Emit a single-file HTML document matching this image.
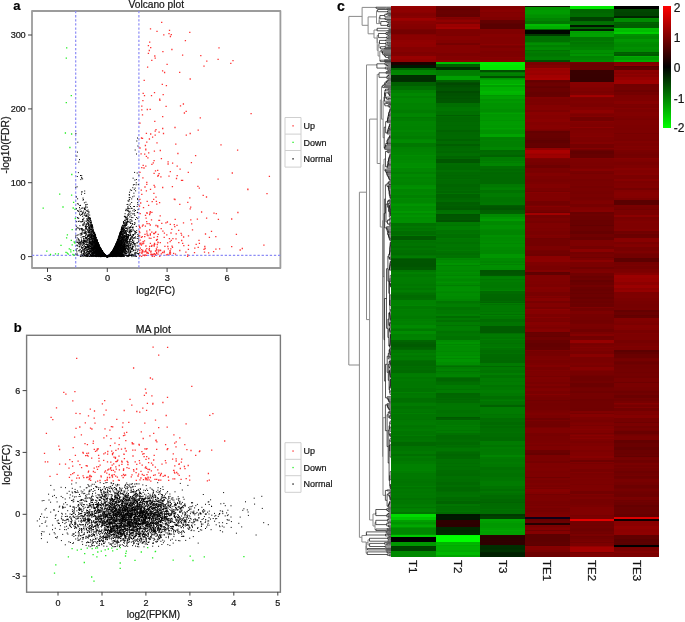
<!DOCTYPE html>
<html><head><meta charset="utf-8"><style>
html,body{margin:0;padding:0;background:#fff;}
#w{position:relative;width:685px;height:622px;overflow:hidden;background:#fff;font-family:"Liberation Sans", sans-serif;}
.hc{position:absolute;top:6.3px;height:550.6px;width:44.83px;}
#cbar{position:absolute;left:662.8px;top:6.1px;width:8px;height:121.7px;background:linear-gradient(#ff0000,#000 50%,#00ff00);}
svg{position:absolute;left:0;top:0;will-change:transform;}
text{font-family:"Liberation Sans", sans-serif;stroke:#222;stroke-width:0.22px;}
</style></head><body><div id="w">
<div class="hc" style="left:391px;background:linear-gradient(#960000 0 1.6px,#8f0000 0 2.7px,#920000 0 3.8px,#8e0000 0 5.7px,#8a0000 0 6.8px,#840000 0 7.9px,#830000 0 10.1px,#880000 0 11.7px,#9c0000 0 13.9px,#970000 0 15.2px,#8a0000 0 17.7px,#860000 0 20.5px,#840000 0 23.2px,#790000 0 24.3px,#740000 0 27.7px,#830000 0 29px,#8a0000 0 31.8px,#8a0000 0 33.7px,#900000 0 35px,#8f0000 0 36.3px,#920000 0 37.9px,#900000 0 40.7px,#860000 0 41.8px,#860000 0 43.7px,#860000 0 45.9px,#7f0000 0 48.1px,#820000 0 49.7px,#980000 0 53px,#930000 0 54.3px,#910000 0 55.9px,#1e0000 0 57.5px,#1d0000 0 58.7px,#001700 0 59.8px,#001700 0 61.7px,#006300 0 63.7px,#008500 0 67px,#008800 0 68.7px,#002d00 0 70.3px,#002f00 0 71.9px,#002d00 0 74.7px,#003000 0 75.7px,#006000 0 77.3px,#005f00 0 79.7px,#006e00 0 83.7px,#007f00 0 87px,#008800 0 90.3px,#008000 0 92.5px,#008700 0 95.8px,#008700 0 97.4px,#008200 0 98.7px,#008300 0 101.5px,#008300 0 103.1px,#008100 0 104.4px,#007c00 0 106.6px,#008400 0 107.7px,#008600 0 109.3px,#008600 0 110.6px,#007800 0 112.2px,#007d00 0 115.5px,#008400 0 117.7px,#008300 0 119px,#008400 0 120.3px,#008200 0 123.6px,#008700 0 126.4px,#008100 0 127.7px,#008200 0 129.9px,#007d00 0 132.7px,#008600 0 134px,#008a00 0 137.3px,#007800 0 140.6px,#008100 0 142.7px,#008300 0 146px,#008500 0 148.8px,#008d00 0 149.9px,#008800 0 152.1px,#008800 0 153.2px,#008700 0 154.5px,#008a00 0 157.3px,#008f00 0 158.4px,#008e00 0 161.2px,#009100 0 162.3px,#008700 0 163.4px,#008700 0 164.7px,#008700 0 165.7px,#007f00 0 167.3px,#008000 0 168.4px,#008900 0 170.6px,#008300 0 172.8px,#008600 0 174.4px,#008500 0 176px,#008300 0 179.3px,#008d00 0 180.6px,#009000 0 183.4px,#008500 0 186.2px,#008700 0 187.8px,#008900 0 188.9px,#008100 0 191.7px,#008b00 0 192.8px,#008700 0 196.7px,#008e00 0 198px,#009500 0 199.6px,#008c00 0 202.4px,#008e00 0 204px,#008d00 0 205.3px,#009800 0 206.6px,#008b00 0 207.9px,#008e00 0 209.2px,#009300 0 210.3px,#009500 0 211.4px,#008d00 0 212.7px,#008f00 0 216.7px,#007100 0 220px,#007800 0 221.6px,#007200 0 222.9px,#007400 0 224px,#007700 0 225.3px,#006c00 0 227.5px,#006c00 0 228.6px,#007700 0 229.7px,#005a00 0 233.7px,#007500 0 234.8px,#007100 0 237px,#007400 0 240.3px,#006e00 0 241.6px,#007500 0 243.8px,#006f00 0 247.1px,#006c00 0 249.3px,#007500 0 250.4px,#007b00 0 251.7px,#006100 0 252.8px,#005400 0 254.1px,#005500 0 257.4px,#005400 0 258.7px,#005400 0 260.9px,#005900 0 263.7px,#007600 0 266.5px,#008000 0 267.8px,#007900 0 271.1px,#007e00 0 274.4px,#007c00 0 275.7px,#007b00 0 277.9px,#007700 0 279.2px,#007700 0 280.3px,#007b00 0 281.6px,#007500 0 284.4px,#007d00 0 285.7px,#007700 0 286.8px,#007100 0 289px,#006b00 0 292.3px,#006e00 0 293.7px,#008200 0 296.5px,#008200 0 299.3px,#008600 0 300.4px,#007900 0 303.2px,#008000 0 304.3px,#007d00 0 305.6px,#007e00 0 307.8px,#007e00 0 308.9px,#007d00 0 310.5px,#007a00 0 312.7px,#008100 0 313.8px,#007e00 0 315.1px,#008200 0 316.7px,#008000 0 318.9px,#008a00 0 321.7px,#008100 0 322.8px,#007900 0 325px,#008c00 0 327.8px,#008100 0 330.6px,#008300 0 333.7px,#006500 0 336.5px,#005f00 0 337.8px,#005b00 0 341.1px,#006200 0 342.7px,#006600 0 343.7px,#007900 0 345.9px,#007700 0 347.2px,#007e00 0 348.8px,#007900 0 349.9px,#007700 0 351.2px,#007b00 0 353.7px,#006e00 0 355px,#006900 0 358.3px,#006800 0 359.9px,#006e00 0 361.2px,#006b00 0 362.3px,#006d00 0 364.5px,#006a00 0 366.7px,#007a00 0 368px,#007c00 0 370.8px,#007600 0 373px,#007a00 0 374.6px,#007700 0 375.7px,#007700 0 378.5px,#007700 0 380.7px,#007800 0 382.3px,#007300 0 385.1px,#007300 0 386.2px,#008000 0 387.3px,#007700 0 388.4px,#007700 0 389.5px,#007900 0 390.8px,#007800 0 392.4px,#006f00 0 395.7px,#007300 0 397.3px,#007b00 0 400.1px,#007300 0 402.9px,#007800 0 404.5px,#007800 0 405.6px,#007500 0 406.7px,#007e00 0 408.3px,#007500 0 409.9px,#007500 0 411px,#007500 0 412.6px,#007300 0 413.7px,#007900 0 416.5px,#007b00 0 418.7px,#007600 0 420px,#007400 0 421.1px,#007700 0 422.2px,#007700 0 423.5px,#007b00 0 425.1px,#007500 0 428.7px,#007b00 0 430.3px,#007100 0 432.5px,#007300 0 434.1px,#007500 0 435.2px,#007300 0 436.3px,#006700 0 439.6px,#007300 0 442.4px,#007400 0 444.6px,#007900 0 447.9px,#006f00 0 449.7px,#007a00 0 451.9px,#007600 0 454.7px,#007b00 0 456px,#007b00 0 457.6px,#008100 0 460.9px,#008100 0 464.2px,#008300 0 465.3px,#007e00 0 466.6px,#007800 0 468.2px,#007900 0 470.4px,#007900 0 472.6px,#007600 0 475.4px,#007400 0 476.7px,#007600 0 480px,#007d00 0 481.3px,#007400 0 482.9px,#007900 0 484.5px,#007700 0 487.3px,#007900 0 488.9px,#007700 0 490.2px,#007800 0 492.4px,#007200 0 493.5px,#007800 0 494.8px,#007700 0 496.1px,#007700 0 497.7px,#007b00 0 498.8px,#007d00 0 501px,#007500 0 502.1px,#007e00 0 503.2px,#008100 0 506px,#007500 0 507.7px,#00db00 0 511px,#00c600 0 513.7px,#00a000 0 515.9px,#009500 0 518.1px,#009e00 0 519.4px,#00a800 0 520.7px,#009400 0 521.8px,#008700 0 524.6px,#008700 0 527.9px,#009300 0 528.7px,#00ca00 0 530.7px,#000000 0 533.5px,#000000 0 534.6px,#000000 0 535.7px,#009700 0 539.7px,#003e00 0 540.8px,#004300 0 541.9px,#004000 0 543px,#004100 0 544.7px,#008900 0 548px,#008900 0 549.1px,#008900 0 550.6px)"></div><div class="hc" style="left:435.6px;background:linear-gradient(#6f0000 0 1.6px,#680000 0 4.9px,#690000 0 7.7px,#660000 0 10.7px,#860000 0 11.8px,#800000 0 12.9px,#870000 0 14.5px,#900000 0 15.8px,#830000 0 18.2px,#9c0000 0 20.4px,#980000 0 21.5px,#a30000 0 23.3px,#7e0000 0 26.1px,#7e0000 0 28.9px,#7d0000 0 30.2px,#870000 0 33.7px,#820000 0 35.3px,#830000 0 37.5px,#760000 0 38.6px,#860000 0 39.7px,#860000 0 43.7px,#850000 0 47px,#7e0000 0 49.8px,#850000 0 50.9px,#840000 0 53.7px,#8d0000 0 55.9px,#00bf00 0 57.7px,#006100 0 60.7px,#003100 0 63.7px,#007f00 0 65px,#007d00 0 66.1px,#007e00 0 68.9px,#008200 0 69.7px,#009f00 0 73.7px,#005f00 0 75.7px,#005100 0 77.3px,#004900 0 78.6px,#005000 0 80.8px,#005400 0 81.9px,#005600 0 85.2px,#004b00 0 87.4px,#005200 0 88.7px,#005200 0 90.3px,#005500 0 91.9px,#005200 0 93px,#005600 0 95.2px,#005600 0 96.7px,#006e00 0 97.8px,#006e00 0 101.1px,#007400 0 103.3px,#007500 0 105.5px,#006f00 0 107.1px,#007000 0 108.7px,#005f00 0 110.3px,#006d00 0 111.4px,#006900 0 114.7px,#006800 0 116px,#006b00 0 118.8px,#006900 0 120.4px,#006b00 0 122.6px,#006a00 0 123.7px,#006200 0 126.5px,#006800 0 129.3px,#006900 0 132.6px,#006100 0 134.8px,#006a00 0 138.1px,#005e00 0 139.7px,#006800 0 142.5px,#006a00 0 143.8px,#006b00 0 145.4px,#006700 0 147px,#006e00 0 150.3px,#006500 0 151.9px,#006900 0 153.2px,#005700 0 156px,#005600 0 157.3px,#006c00 0 158.6px,#006a00 0 160.8px,#006900 0 163.6px,#007000 0 165.8px,#006900 0 168px,#006a00 0 169.1px,#006700 0 170.4px,#006900 0 171.7px,#006700 0 173.3px,#006d00 0 174.4px,#006a00 0 177.7px,#006500 0 181px,#006800 0 183.8px,#006b00 0 184.9px,#006600 0 187.1px,#007200 0 188.4px,#006200 0 191.7px,#006700 0 193px,#006700 0 194.1px,#006b00 0 196.3px,#005e00 0 197.7px,#005f00 0 198.8px,#006100 0 200.1px,#005d00 0 202.3px,#005a00 0 203.7px,#007000 0 206.5px,#007300 0 207.7px,#005300 0 208.8px,#005600 0 210.1px,#005700 0 213.4px,#005900 0 214.5px,#005200 0 215.7px,#007a00 0 217.9px,#007800 0 219px,#007500 0 220.3px,#007e00 0 223.6px,#007300 0 226.9px,#007600 0 228.5px,#006f00 0 231.3px,#006e00 0 232.4px,#007900 0 233.5px,#007600 0 236.3px,#007100 0 237.6px,#007600 0 240.4px,#007700 0 241.5px,#007400 0 243.7px,#007a00 0 245.3px,#007200 0 246.6px,#006e00 0 248.8px,#007300 0 249.9px,#007200 0 251.7px,#008700 0 252.8px,#008300 0 254.1px,#008c00 0 256.3px,#008b00 0 257.4px,#009400 0 259px,#008300 0 260.3px,#008c00 0 263.6px,#008800 0 265.8px,#009000 0 266.9px,#008b00 0 268.5px,#008500 0 269.8px,#009000 0 272px,#008b00 0 273.3px,#008700 0 274.6px,#008c00 0 276.2px,#009200 0 277.3px,#008a00 0 278.6px,#007f00 0 279.9px,#008d00 0 281px,#008f00 0 283.8px,#009000 0 284.7px,#008a00 0 285.8px,#008700 0 286.9px,#008d00 0 290.2px,#008a00 0 293.5px,#008500 0 295.1px,#007500 0 296.7px,#007a00 0 298.3px,#007e00 0 301.1px,#007300 0 304.4px,#007800 0 307.7px,#007f00 0 309.9px,#006c00 0 312.1px,#007900 0 313.4px,#007900 0 314.5px,#006f00 0 316.1px,#007c00 0 318.9px,#007200 0 320.2px,#007d00 0 321.8px,#007e00 0 324px,#007b00 0 325.3px,#007200 0 326.9px,#007600 0 328.5px,#007700 0 330.1px,#007200 0 333.7px,#008c00 0 335.9px,#009300 0 338.1px,#008700 0 339.2px,#009000 0 340.3px,#008c00 0 341.9px,#008d00 0 344.7px,#008800 0 346.3px,#008f00 0 349.1px,#008b00 0 350.2px,#009400 0 351.8px,#008900 0 353.4px,#009400 0 356.2px,#008d00 0 358.7px,#007b00 0 360px,#006f00 0 361.1px,#007d00 0 363.3px,#008300 0 364.9px,#007700 0 366.2px,#007f00 0 368.4px,#008400 0 370.7px,#006f00 0 372.3px,#006500 0 375.1px,#006a00 0 376.4px,#006f00 0 378.7px,#007a00 0 381.5px,#007900 0 382.8px,#007200 0 384.1px,#007b00 0 386.7px,#006500 0 389.5px,#006700 0 391.7px,#006b00 0 392.8px,#006700 0 393.9px,#006c00 0 395.2px,#006a00 0 396.7px,#007500 0 398.9px,#007600 0 401.1px,#007600 0 403.9px,#007100 0 406.7px,#007400 0 410.7px,#005900 0 412.3px,#005f00 0 413.7px,#007b00 0 415.3px,#007700 0 418.6px,#007d00 0 419.9px,#007800 0 421.2px,#007b00 0 424px,#007500 0 425.3px,#007c00 0 426.6px,#007100 0 428.7px,#006a00 0 429.8px,#006a00 0 433.1px,#006c00 0 434.2px,#006e00 0 436.4px,#006900 0 438.6px,#006f00 0 440.2px,#006c00 0 441.3px,#007000 0 442.4px,#007600 0 445.2px,#006f00 0 446.5px,#006a00 0 447.8px,#006600 0 449.7px,#006900 0 453px,#007200 0 454.1px,#007100 0 456.9px,#006e00 0 458.5px,#007200 0 459.8px,#006e00 0 460.9px,#007100 0 463.7px,#006c00 0 467px,#006b00 0 468.1px,#006a00 0 469.7px,#007000 0 472.5px,#006e00 0 474.1px,#006e00 0 476.3px,#006900 0 479.1px,#006e00 0 481.3px,#006800 0 484.6px,#006c00 0 485.7px,#007100 0 489px,#007300 0 491.2px,#006b00 0 492.8px,#006a00 0 493.9px,#006d00 0 495.5px,#006400 0 497.7px,#007500 0 499.9px,#006e00 0 501.5px,#007000 0 504.8px,#007400 0 506.1px,#006b00 0 507.7px,#001800 0 508.8px,#001600 0 509.9px,#001900 0 512.1px,#001800 0 513.7px,#2e0000 0 515px,#2e0000 0 518.3px,#2c0000 0 520.7px,#002a00 0 523.5px,#002600 0 524.8px,#002700 0 526.1px,#002800 0 527.4px,#002900 0 528.7px,#00f700 0 530px,#00ff00 0 531.6px,#00ff00 0 533.8px,#00ff00 0 535.7px,#00b500 0 537.9px,#00b800 0 539px,#00aa00 0 540.3px,#00b100 0 543.6px,#00ab00 0 545.8px,#00b700 0 548.6px,#00a500 0 550.6px)"></div><div class="hc" style="left:480.3px;background:linear-gradient(#840000 0 2.8px,#880000 0 5.6px,#810000 0 6.9px,#840000 0 8.2px,#840000 0 11.5px,#7f0000 0 13.7px,#630000 0 17px,#5e0000 0 18.1px,#590000 0 20.3px,#5a0000 0 23.3px,#800000 0 24.9px,#7f0000 0 26.2px,#7f0000 0 28.4px,#860000 0 31.2px,#830000 0 33.4px,#830000 0 35.6px,#830000 0 37.8px,#8b0000 0 38.7px,#810000 0 40px,#7b0000 0 41.1px,#7c0000 0 42.4px,#830000 0 44.6px,#7e0000 0 47.4px,#7f0000 0 50.7px,#870000 0 52px,#840000 0 55.9px,#00ed00 0 58.7px,#00e700 0 60.9px,#00e400 0 63.7px,#004f00 0 64.8px,#004f00 0 65.7px,#007600 0 67px,#008500 0 68.3px,#007f00 0 69.7px,#005100 0 71.7px,#009100 0 72.8px,#009c00 0 73.7px,#00ac00 0 75.3px,#00ad00 0 78.1px,#00bc00 0 79.4px,#00a000 0 81px,#00af00 0 82.3px,#00af00 0 85.1px,#00b800 0 86.7px,#00b400 0 88.7px,#009800 0 90px,#00a000 0 93.3px,#009400 0 95.5px,#009900 0 96.8px,#009300 0 99.6px,#009400 0 100.7px,#009300 0 102.9px,#008e00 0 105.7px,#009600 0 106.8px,#00a000 0 108.4px,#009700 0 110.6px,#009900 0 113.9px,#009300 0 115.5px,#009b00 0 118.3px,#009c00 0 119.4px,#009900 0 121.6px,#00a000 0 122.7px,#009900 0 124.3px,#009300 0 127.6px,#00a300 0 130.7px,#007f00 0 134px,#008300 0 135.1px,#008000 0 136.7px,#008000 0 139.5px,#008000 0 141.1px,#008600 0 142.2px,#008600 0 143.7px,#006800 0 144.8px,#006800 0 146.4px,#006b00 0 148px,#006a00 0 149.3px,#006300 0 150.7px,#007c00 0 152px,#007b00 0 153.6px,#007b00 0 154.9px,#008300 0 156px,#007e00 0 157.3px,#008600 0 159.7px,#006f00 0 163px,#006900 0 164.6px,#006d00 0 165.7px,#006800 0 166.8px,#006700 0 168.4px,#006900 0 171.2px,#006800 0 174px,#006900 0 177.7px,#007800 0 178.8px,#007900 0 179.9px,#007800 0 181.2px,#007d00 0 182.5px,#008000 0 183.6px,#007200 0 184.7px,#007300 0 186px,#007300 0 187.3px,#007b00 0 190.6px,#007500 0 193.4px,#007400 0 196.2px,#007600 0 197.5px,#007700 0 198.7px,#005d00 0 199.8px,#005700 0 202px,#005400 0 203.7px,#005f00 0 205.9px,#006100 0 207.7px,#008a00 0 211px,#009400 0 213.2px,#009c00 0 214.8px,#008a00 0 216.1px,#008900 0 219.4px,#009000 0 222.7px,#008a00 0 223.8px,#008600 0 225.4px,#008500 0 228.7px,#009000 0 231.5px,#008b00 0 232.8px,#008c00 0 233.9px,#008b00 0 235.5px,#008e00 0 236.8px,#008800 0 238.1px,#008f00 0 241.4px,#008a00 0 243.6px,#008700 0 245.2px,#008800 0 248.5px,#009600 0 251.8px,#008a00 0 254.6px,#008500 0 256.8px,#008d00 0 257.9px,#008300 0 259px,#008f00 0 261.8px,#008d00 0 263.7px,#005400 0 266.5px,#005600 0 267.6px,#005700 0 268.7px,#005b00 0 269.7px,#007c00 0 271px,#007f00 0 272.6px,#007600 0 273.7px,#007c00 0 274.8px,#007d00 0 275.9px,#007900 0 279.2px,#007800 0 282px,#007b00 0 283.6px,#008300 0 284.7px,#006b00 0 288px,#006700 0 291.3px,#006600 0 293.5px,#006500 0 294.6px,#006b00 0 295.7px,#006500 0 296.7px,#007b00 0 297.8px,#007100 0 299.4px,#007900 0 301.6px,#007900 0 304.9px,#007600 0 306.2px,#007c00 0 307.8px,#007100 0 308.9px,#008000 0 310px,#007800 0 313.3px,#006d00 0 316.1px,#007400 0 319.7px,#005c00 0 323px,#005c00 0 324.1px,#005b00 0 326.7px,#006f00 0 327.8px,#007900 0 330.6px,#007500 0 333.4px,#007d00 0 334.5px,#007500 0 337.3px,#007100 0 338.4px,#007600 0 341.2px,#007b00 0 342.3px,#007200 0 343.7px,#006d00 0 347px,#007100 0 348.3px,#006a00 0 351.1px,#006900 0 352.7px,#006a00 0 353.7px,#006800 0 356.7px,#007a00 0 360px,#006900 0 361.1px,#007800 0 363.9px,#007400 0 365px,#007400 0 367.2px,#007e00 0 369.4px,#007300 0 371.6px,#007b00 0 374.9px,#007800 0 376.5px,#007c00 0 378.7px,#007400 0 380.9px,#007800 0 384.2px,#007d00 0 387px,#007800 0 389.8px,#006f00 0 393.1px,#007500 0 394.2px,#007b00 0 395.5px,#007300 0 397.7px,#007100 0 398.7px,#006100 0 400.7px,#007b00 0 403.5px,#007b00 0 404.8px,#007b00 0 408.1px,#007400 0 409.4px,#007700 0 411.7px,#006d00 0 414.5px,#006e00 0 415.8px,#006900 0 419.1px,#007000 0 420.4px,#006a00 0 421.7px,#006e00 0 425px,#006f00 0 426.1px,#007100 0 427.4px,#006d00 0 429.6px,#006d00 0 431.2px,#006a00 0 434.7px,#007b00 0 435.8px,#007b00 0 439.1px,#007500 0 441.3px,#007c00 0 443.5px,#007900 0 445.7px,#007a00 0 449px,#008500 0 450.6px,#007b00 0 452.8px,#007800 0 456.1px,#007b00 0 458.3px,#007800 0 460.5px,#007000 0 463.8px,#007400 0 466px,#007400 0 467.3px,#007100 0 470.6px,#007500 0 473.9px,#007600 0 475.2px,#007b00 0 478.5px,#007b00 0 480.1px,#007400 0 483.4px,#006e00 0 484.7px,#007600 0 486.9px,#007100 0 488.7px,#006b00 0 490.9px,#006c00 0 493.1px,#006700 0 495.9px,#006300 0 497.2px,#006b00 0 500.5px,#006c00 0 502.7px,#007100 0 503.8px,#006d00 0 505.1px,#006e00 0 507.7px,#003a00 0 510.5px,#004200 0 512.7px,#00a400 0 515.5px,#009e00 0 516.8px,#009800 0 520.1px,#009900 0 521.7px,#009f00 0 523.9px,#00a400 0 525.2px,#009f00 0 528.7px,#2d0000 0 529.8px,#2b0000 0 533.1px,#2d0000 0 534.2px,#2f0000 0 535.3px,#310000 0 536.4px,#2f0000 0 538.7px,#002e00 0 542px,#002d00 0 543.1px,#002f00 0 544.4px,#003100 0 545.7px,#002300 0 547px,#001f00 0 549.2px,#002100 0 550.6px)"></div><div class="hc" style="left:524.9px;background:linear-gradient(#101100 0 1.2px,#009600 0 4.5px,#009b00 0 7.8px,#009500 0 9.1px,#009000 0 11.7px,#008400 0 15px,#007800 0 17.7px,#00bb00 0 19.9px,#00af00 0 22.7px,#006000 0 24.3px,#000700 0 25.6px,#000700 0 27.7px,#003c00 0 29.7px,#007000 0 33px,#007000 0 35.7px,#008300 0 37.3px,#008e00 0 38.9px,#008000 0 41.1px,#008800 0 42.2px,#008a00 0 43.7px,#007200 0 45.3px,#007c00 0 47.5px,#007700 0 49.7px,#007b00 0 51px,#007f00 0 53.7px,#004e00 0 54.8px,#004e00 0 55.9px,#7a0000 0 59.2px,#820000 0 61.7px,#9f0000 0 63px,#990000 0 65.2px,#9d0000 0 66.8px,#980000 0 69px,#a30000 0 71.8px,#a80000 0 73.7px,#670000 0 74.8px,#640000 0 75.7px,#6a0000 0 77.3px,#6e0000 0 80.1px,#670000 0 81.2px,#630000 0 82.3px,#6b0000 0 85.1px,#6a0000 0 86.4px,#660000 0 88.6px,#680000 0 90.7px,#810000 0 92px,#7f0000 0 93.3px,#7c0000 0 96.1px,#7e0000 0 97.4px,#7c0000 0 99px,#840000 0 102.3px,#850000 0 103.9px,#7e0000 0 106.1px,#890000 0 109.4px,#860000 0 112.7px,#8a0000 0 116px,#840000 0 119.3px,#870000 0 122.6px,#810000 0 123.7px,#7a0000 0 124.7px,#640000 0 126px,#640000 0 127.1px,#680000 0 128.4px,#680000 0 130px,#670000 0 131.6px,#640000 0 133.8px,#5e0000 0 135.1px,#600000 0 136.7px,#650000 0 139.5px,#650000 0 140.6px,#610000 0 141.7px,#920000 0 143.9px,#aa0000 0 146.7px,#a30000 0 148.3px,#990000 0 149.4px,#9e0000 0 151.7px,#7f0000 0 153px,#7a0000 0 155.8px,#770000 0 156.9px,#760000 0 159.1px,#6e0000 0 161.9px,#7b0000 0 164.7px,#790000 0 165.8px,#7b0000 0 166.9px,#820000 0 169.7px,#7d0000 0 173px,#7a0000 0 175.7px,#7d0000 0 178.5px,#820000 0 181.8px,#7c0000 0 185.1px,#760000 0 186.2px,#870000 0 187.5px,#810000 0 190.8px,#820000 0 192.1px,#810000 0 193.2px,#810000 0 195.4px,#740000 0 198.7px,#790000 0 199.8px,#860000 0 201.4px,#7d0000 0 204.2px,#760000 0 205.7px,#6c0000 0 207.1px,#a20000 0 209.1px,#760000 0 212.4px,#7b0000 0 214.6px,#770000 0 217.4px,#7f0000 0 219.6px,#7f0000 0 222.4px,#7c0000 0 223.5px,#7e0000 0 224.6px,#7a0000 0 227.9px,#7b0000 0 229.2px,#810000 0 230.3px,#7e0000 0 231.7px,#710000 0 233px,#740000 0 236.3px,#740000 0 239.6px,#7c0000 0 242.9px,#7c0000 0 244px,#750000 0 245.3px,#720000 0 246.4px,#730000 0 248px,#700000 0 249.7px,#8b0000 0 253px,#8c0000 0 255.7px,#7f0000 0 259px,#7d0000 0 260.1px,#7a0000 0 261.7px,#7a0000 0 263.9px,#830000 0 265.7px,#5f0000 0 266.8px,#620000 0 268.7px,#810000 0 272px,#810000 0 275.3px,#7f0000 0 276.9px,#800000 0 278.5px,#7d0000 0 280.7px,#850000 0 283.5px,#820000 0 286.3px,#790000 0 289.6px,#830000 0 290.9px,#7c0000 0 292px,#860000 0 295.3px,#780000 0 297.5px,#820000 0 299.7px,#820000 0 301.3px,#7a0000 0 302.9px,#8d0000 0 304.5px,#860000 0 307.8px,#7d0000 0 310.6px,#870000 0 311.7px,#7d0000 0 313px,#7e0000 0 315.2px,#7b0000 0 316.5px,#860000 0 319.3px,#820000 0 320.6px,#7d0000 0 321.7px,#800000 0 323.3px,#860000 0 325.7px,#670000 0 326.8px,#6a0000 0 329.6px,#660000 0 330.9px,#700000 0 333.7px,#680000 0 337px,#630000 0 339.8px,#630000 0 340.9px,#660000 0 343.7px,#7d0000 0 345px,#740000 0 346.3px,#760000 0 347.9px,#770000 0 350.1px,#7d0000 0 353.4px,#7f0000 0 354.5px,#790000 0 356.7px,#7c0000 0 358.3px,#7c0000 0 359.4px,#820000 0 361px,#790000 0 363.8px,#810000 0 365.1px,#7c0000 0 366.4px,#7e0000 0 369.7px,#770000 0 371.3px,#800000 0 373.5px,#7e0000 0 376.3px,#790000 0 378.5px,#7f0000 0 380.1px,#780000 0 382.3px,#7f0000 0 383.4px,#810000 0 385px,#7a0000 0 386.6px,#7b0000 0 387.7px,#850000 0 389px,#7b0000 0 391.2px,#780000 0 393.7px,#700000 0 395.3px,#760000 0 397.5px,#740000 0 400.3px,#750000 0 403.7px,#790000 0 404.8px,#7a0000 0 406.4px,#7c0000 0 407.5px,#7f0000 0 408.6px,#7b0000 0 411.9px,#700000 0 414.1px,#7a0000 0 415.2px,#720000 0 418px,#710000 0 421.3px,#790000 0 422.4px,#800000 0 425.7px,#800000 0 426.8px,#780000 0 429px,#770000 0 430.3px,#7a0000 0 431.6px,#7a0000 0 434.9px,#7b0000 0 436.5px,#7f0000 0 438.1px,#7c0000 0 439.2px,#790000 0 440.3px,#7f0000 0 443.7px,#6c0000 0 447px,#670000 0 448.7px,#7b0000 0 450px,#7c0000 0 451.3px,#7b0000 0 454.6px,#750000 0 456.8px,#7f0000 0 460.1px,#7e0000 0 461.7px,#800000 0 463.9px,#7f0000 0 465.2px,#7c0000 0 467.4px,#7e0000 0 470.7px,#710000 0 471.8px,#7e0000 0 472.9px,#7f0000 0 474.2px,#7a0000 0 477px,#7e0000 0 478.6px,#7a0000 0 480.8px,#800000 0 481.9px,#790000 0 483px,#870000 0 486.3px,#820000 0 487.9px,#750000 0 489.2px,#7c0000 0 490.5px,#7c0000 0 492.1px,#7d0000 0 495.4px,#790000 0 497.6px,#7b0000 0 498.9px,#780000 0 500.5px,#7d0000 0 501.6px,#780000 0 503.2px,#7a0000 0 504.5px,#770000 0 506.1px,#7c0000 0 508.3px,#7f0000 0 509.4px,#800000 0 510.7px,#0f0018 0 512.7px,#650000 0 514.3px,#670000 0 515.4px,#6a0000 0 516.7px,#230000 0 518.7px,#7b0000 0 520px,#780000 0 521.1px,#7f0000 0 522.4px,#820000 0 523.5px,#700000 0 524.8px,#840000 0 527.7px,#5d0000 0 529.3px,#5d0000 0 532.1px,#5d0000 0 534.9px,#5e0000 0 536.5px,#600000 0 538.7px,#5c0000 0 539.7px,#860000 0 541px,#840000 0 543.8px,#7a0000 0 545.7px,#6d0000 0 548.5px,#6c0000 0 550.6px)"></div><div class="hc" style="left:569.5px;background:linear-gradient(#00e800 0 2.7px,#006c00 0 4px,#006600 0 5.3px,#006700 0 6.6px,#006b00 0 9.4px,#006c00 0 10.7px,#004200 0 14.7px,#006e00 0 15.8px,#007100 0 18.7px,#001700 0 20.7px,#006300 0 22.7px,#002000 0 24.7px,#00a300 0 26px,#009c00 0 27.3px,#00a300 0 30.7px,#007700 0 32px,#007700 0 35.3px,#008000 0 36.4px,#007600 0 38px,#007b00 0 40.8px,#008100 0 41.9px,#008100 0 43.7px,#009000 0 47px,#008600 0 48.1px,#009500 0 49.7px,#008200 0 51.9px,#008500 0 54.1px,#008b00 0 55.9px,#770000 0 57.2px,#6d0000 0 58.5px,#6c0000 0 61.3px,#6d0000 0 62.9px,#6c0000 0 63.7px,#390000 0 64.8px,#390000 0 68.1px,#380000 0 70.9px,#370000 0 74.2px,#380000 0 75.7px,#880000 0 77.9px,#860000 0 81.2px,#820000 0 82.5px,#800000 0 84.7px,#7b0000 0 87.5px,#7f0000 0 88.7px,#9f0000 0 89.8px,#a30000 0 90.7px,#820000 0 92px,#7e0000 0 94.8px,#800000 0 97px,#7d0000 0 98.1px,#7c0000 0 101.4px,#840000 0 104.2px,#8e0000 0 107px,#840000 0 108.1px,#7e0000 0 109.7px,#840000 0 111.3px,#730000 0 114.6px,#860000 0 116.2px,#810000 0 118.4px,#7f0000 0 121.2px,#8c0000 0 122.5px,#7d0000 0 123.8px,#800000 0 126px,#800000 0 127.1px,#820000 0 129.9px,#850000 0 131.2px,#7f0000 0 134px,#7d0000 0 136.2px,#830000 0 138.4px,#750000 0 141.7px,#840000 0 142.8px,#770000 0 143.7px,#6b0000 0 144.8px,#630000 0 148.1px,#670000 0 151.7px,#820000 0 152.8px,#7e0000 0 155.6px,#7d0000 0 156.7px,#7c0000 0 158.9px,#7d0000 0 160px,#7a0000 0 161.6px,#7e0000 0 162.7px,#860000 0 165.5px,#790000 0 167.1px,#760000 0 168.2px,#7d0000 0 169.5px,#7d0000 0 171.7px,#7d0000 0 173.3px,#780000 0 175.5px,#7a0000 0 178.8px,#7b0000 0 179.9px,#770000 0 182.1px,#7a0000 0 184.9px,#780000 0 187.1px,#770000 0 188.4px,#7a0000 0 191.2px,#770000 0 192.8px,#780000 0 194.4px,#7c0000 0 195.5px,#7f0000 0 198.3px,#770000 0 201.1px,#800000 0 202.2px,#820000 0 203.8px,#860000 0 205.7px,#6a0000 0 208.5px,#6f0000 0 209.8px,#6c0000 0 211.4px,#6c0000 0 214.2px,#680000 0 215.3px,#690000 0 218.6px,#630000 0 219.7px,#6b0000 0 221.3px,#6c0000 0 224.6px,#660000 0 227.9px,#700000 0 231.2px,#6a0000 0 233.7px,#7e0000 0 235.3px,#7e0000 0 238.1px,#7e0000 0 239.7px,#760000 0 243px,#8a0000 0 246.3px,#740000 0 247.9px,#790000 0 251.2px,#710000 0 252.5px,#7c0000 0 253.7px,#8a0000 0 255.7px,#7b0000 0 258.5px,#7b0000 0 261.3px,#700000 0 262.6px,#7c0000 0 265.4px,#7f0000 0 266.7px,#710000 0 270px,#6b0000 0 272.2px,#6f0000 0 273.8px,#660000 0 276px,#6b0000 0 279.3px,#730000 0 280.9px,#6c0000 0 283.1px,#690000 0 285.3px,#6c0000 0 286.9px,#680000 0 288.2px,#6d0000 0 289.5px,#6d0000 0 290.6px,#680000 0 293.4px,#6e0000 0 294.7px,#6b0000 0 296.9px,#6f0000 0 298px,#6c0000 0 300.7px,#7f0000 0 302.3px,#740000 0 305.1px,#7d0000 0 307.9px,#770000 0 310.7px,#760000 0 314px,#730000 0 315.6px,#740000 0 316.7px,#750000 0 317.8px,#7b0000 0 321.1px,#790000 0 323.3px,#710000 0 325.7px,#7b0000 0 328.5px,#850000 0 329.8px,#730000 0 332px,#750000 0 333.7px,#960000 0 336.7px,#7c0000 0 338.3px,#780000 0 339.4px,#7c0000 0 340.7px,#830000 0 341.8px,#7d0000 0 343.4px,#7f0000 0 345px,#790000 0 348.3px,#890000 0 351.1px,#7b0000 0 353.3px,#7b0000 0 356.1px,#7c0000 0 357.4px,#7f0000 0 358.7px,#7b0000 0 359.8px,#7a0000 0 361.4px,#870000 0 364.2px,#7f0000 0 365.3px,#780000 0 368.7px,#740000 0 370.3px,#6f0000 0 373.6px,#6f0000 0 375.2px,#730000 0 377.4px,#6b0000 0 380.7px,#710000 0 381.8px,#740000 0 384.6px,#6f0000 0 387.4px,#760000 0 390.2px,#750000 0 393px,#6f0000 0 395.2px,#710000 0 398px,#710000 0 400.8px,#710000 0 401.9px,#700000 0 404.7px,#810000 0 406.9px,#770000 0 408px,#860000 0 411.3px,#7e0000 0 412.9px,#7c0000 0 414.2px,#790000 0 415.5px,#7d0000 0 416.6px,#800000 0 419.4px,#7a0000 0 420.5px,#820000 0 422.7px,#870000 0 423.8px,#810000 0 426.6px,#770000 0 427.7px,#800000 0 429px,#890000 0 430.3px,#810000 0 431.6px,#880000 0 433.2px,#7e0000 0 435.4px,#7a0000 0 437px,#7f0000 0 439.2px,#7e0000 0 440.3px,#830000 0 443.6px,#7e0000 0 446.4px,#820000 0 449.7px,#880000 0 451.9px,#7f0000 0 453.7px,#6e0000 0 455.7px,#800000 0 456.8px,#780000 0 458.4px,#7e0000 0 460px,#7f0000 0 462.8px,#780000 0 466.1px,#810000 0 467.2px,#7a0000 0 468.8px,#7c0000 0 471.6px,#7f0000 0 473.2px,#7c0000 0 474.8px,#7d0000 0 478.1px,#7a0000 0 479.2px,#7e0000 0 482.5px,#7f0000 0 483.8px,#7e0000 0 485.1px,#730000 0 487.9px,#7f0000 0 489.2px,#790000 0 490.5px,#7e0000 0 492.7px,#770000 0 494.9px,#770000 0 496.5px,#780000 0 498.7px,#7b0000 0 500.9px,#810000 0 504.2px,#810000 0 505.8px,#810000 0 508.6px,#780000 0 510.2px,#7c0000 0 512.7px,#e40000 0 514.7px,#750000 0 516px,#720000 0 518.8px,#700000 0 519.9px,#730000 0 522.1px,#700000 0 523.2px,#6e0000 0 524.8px,#720000 0 525.9px,#750000 0 527.2px,#710000 0 528.5px,#7a0000 0 529.6px,#6f0000 0 530.7px,#720000 0 533.5px,#760000 0 535.1px,#7a0000 0 536.2px,#710000 0 537.5px,#7c0000 0 539.7px,#930000 0 541.3px,#a40000 0 543.5px,#a40000 0 545.7px,#750000 0 547px,#7e0000 0 548.6px,#800000 0 550.6px)"></div><div class="hc" style="left:614.2px;background:linear-gradient(#000000 0 2.7px,#004600 0 6px,#004300 0 9.7px,#002600 0 11.7px,#008e00 0 13.3px,#008a00 0 15.7px,#005f00 0 16.8px,#006500 0 18.1px,#005e00 0 21.7px,#00c000 0 24.5px,#00bb00 0 25.8px,#00cd00 0 27.7px,#008f00 0 29.9px,#008800 0 33.2px,#009600 0 36.5px,#008d00 0 37.8px,#008900 0 40.6px,#009000 0 42.8px,#008d00 0 45.7px,#005c00 0 46.8px,#006300 0 47.9px,#005a00 0 49.7px,#00aa00 0 50.8px,#009d00 0 54.1px,#00ad00 0 55.9px,#810000 0 57px,#850000 0 58.6px,#8e0000 0 59.7px,#570000 0 60.8px,#600000 0 63.7px,#8d0000 0 66.5px,#870000 0 67.6px,#900000 0 69.2px,#890000 0 70.7px,#950000 0 74px,#9e0000 0 77.7px,#720000 0 81px,#740000 0 84.3px,#6e0000 0 85.6px,#760000 0 86.9px,#740000 0 88.7px,#7e0000 0 92px,#7f0000 0 94.8px,#860000 0 98.1px,#7c0000 0 99.4px,#7e0000 0 100.5px,#7c0000 0 101.8px,#840000 0 103.1px,#7e0000 0 106.4px,#820000 0 109.7px,#7e0000 0 111.9px,#7c0000 0 113.2px,#7a0000 0 114.3px,#7f0000 0 117.6px,#7f0000 0 119.2px,#7d0000 0 122.5px,#7c0000 0 123.8px,#7e0000 0 127.1px,#770000 0 128.2px,#7d0000 0 129.5px,#7c0000 0 132.8px,#7a0000 0 135px,#810000 0 137.2px,#7d0000 0 138.8px,#7d0000 0 139.9px,#820000 0 141px,#7f0000 0 142.6px,#820000 0 143.7px,#7a0000 0 145.9px,#770000 0 148.1px,#740000 0 150.3px,#760000 0 151.7px,#850000 0 152.8px,#810000 0 155px,#7f0000 0 156.1px,#7b0000 0 159.4px,#7f0000 0 162.2px,#870000 0 164.4px,#820000 0 166.6px,#850000 0 167.7px,#860000 0 169.3px,#7c0000 0 172.6px,#860000 0 175.4px,#7d0000 0 177px,#800000 0 180.3px,#820000 0 181.4px,#810000 0 182.5px,#760000 0 184.1px,#820000 0 185.7px,#860000 0 189px,#860000 0 190.3px,#840000 0 191.9px,#7c0000 0 193.7px,#5a0000 0 197px,#5b0000 0 198.7px,#7a0000 0 201.5px,#770000 0 203.1px,#720000 0 204.2px,#7c0000 0 205.3px,#7b0000 0 208.7px,#8b0000 0 210.9px,#7a0000 0 213.1px,#7d0000 0 215.3px,#810000 0 216.9px,#7f0000 0 219.7px,#7f0000 0 223px,#830000 0 224.7px,#700000 0 226.9px,#740000 0 228px,#6a0000 0 230.2px,#6c0000 0 231.7px,#870000 0 232.8px,#880000 0 235.6px,#7b0000 0 237.8px,#810000 0 238.7px,#830000 0 241.5px,#780000 0 244.8px,#7e0000 0 247px,#770000 0 248.1px,#730000 0 251.7px,#5c0000 0 253px,#5d0000 0 255.7px,#760000 0 259px,#7a0000 0 260.1px,#750000 0 262.9px,#7c0000 0 265.7px,#800000 0 266.7px,#870000 0 269.5px,#9c0000 0 272.3px,#980000 0 275.6px,#8e0000 0 278.9px,#9a0000 0 281.7px,#8e0000 0 284.5px,#950000 0 285.7px,#7e0000 0 289px,#7f0000 0 291.8px,#7b0000 0 295.1px,#780000 0 298.4px,#760000 0 301.7px,#780000 0 303.7px,#640000 0 306.5px,#6b0000 0 308.7px,#620000 0 310.3px,#660000 0 311.7px,#820000 0 313.3px,#820000 0 314.6px,#7f0000 0 317.4px,#7c0000 0 319px,#850000 0 322.3px,#830000 0 323.9px,#790000 0 327.2px,#800000 0 328.5px,#7d0000 0 331.3px,#7e0000 0 334.1px,#760000 0 336.9px,#7b0000 0 340.2px,#800000 0 341.3px,#7d0000 0 343.7px,#5c0000 0 346.5px,#630000 0 347.6px,#6a0000 0 351.7px,#730000 0 352.8px,#760000 0 355px,#6f0000 0 356.3px,#6c0000 0 357.6px,#700000 0 358.9px,#740000 0 360.5px,#720000 0 361.8px,#730000 0 362.9px,#740000 0 365.7px,#710000 0 367px,#740000 0 368.3px,#750000 0 370.5px,#720000 0 371.8px,#790000 0 374.6px,#780000 0 376.2px,#6e0000 0 377.5px,#7a0000 0 380.8px,#770000 0 384.1px,#740000 0 385.4px,#6e0000 0 387px,#730000 0 388.6px,#6b0000 0 391.9px,#740000 0 393.5px,#710000 0 394.6px,#770000 0 396.7px,#860000 0 397.8px,#7e0000 0 399.1px,#770000 0 400.7px,#820000 0 401.8px,#730000 0 404.6px,#7f0000 0 406.8px,#7f0000 0 407.9px,#7d0000 0 409.2px,#850000 0 412px,#770000 0 413.7px,#770000 0 415.9px,#6e0000 0 417.5px,#7b0000 0 420.3px,#730000 0 421.9px,#780000 0 424.1px,#740000 0 425.4px,#6a0000 0 427.6px,#730000 0 428.7px,#770000 0 429.8px,#7b0000 0 433.7px,#640000 0 436.5px,#6a0000 0 437.8px,#6a0000 0 441.1px,#640000 0 443.9px,#6b0000 0 446.7px,#690000 0 448px,#6c0000 0 449.6px,#640000 0 450.7px,#760000 0 452px,#770000 0 454.2px,#6f0000 0 455.8px,#710000 0 457.4px,#7a0000 0 459px,#740000 0 460.6px,#790000 0 461.9px,#740000 0 464.7px,#6e0000 0 465.8px,#6e0000 0 467.1px,#720000 0 468.7px,#750000 0 470.3px,#6e0000 0 471.9px,#710000 0 473.2px,#790000 0 476.5px,#750000 0 477.6px,#740000 0 478.9px,#6d0000 0 482.2px,#710000 0 483.3px,#760000 0 484.6px,#720000 0 485.9px,#700000 0 487.5px,#6e0000 0 490.8px,#7a0000 0 492.1px,#790000 0 493.7px,#6e0000 0 495.3px,#720000 0 496.4px,#6d0000 0 498.7px,#650000 0 501.5px,#6a0000 0 502.8px,#690000 0 504.4px,#6a0000 0 507.7px,#640000 0 510.7px,#dd0000 0 512.7px,#0e0000 0 514.7px,#890000 0 518px,#8a0000 0 519.6px,#920000 0 522.9px,#8e0000 0 524.5px,#8c0000 0 525.6px,#8e0000 0 528.7px,#610000 0 530.9px,#620000 0 532.5px,#5b0000 0 535.8px,#5e0000 0 536.9px,#5a0000 0 538.7px,#000000 0 540.7px,#780000 0 542px,#7b0000 0 545.3px,#830000 0 546.6px,#790000 0 547.7px,#7d0000 0 550.6px)"></div>
<div id="cbar"></div>
<svg width="685" height="622" viewBox="0 0 685 622"><rect x="32" y="11" width="248.4" height="257" fill="none" stroke="#9c9c9c" stroke-width="1.8" stroke-linejoin="round"/><g stroke="#8c8cf5" stroke-width="1.2" stroke-dasharray="2.3 1.8"><path d="M75.7 11V268M138.9 11V268M32 255.3H280.4"/></g><clipPath id="ca"><rect x="32.5" y="11.5" width="247.5" height="256"/></clipPath><g clip-path="url(#ca)"><path d="M112.6 255h0M107.5 256.5h0M94 237.2h0M111.1 253.2h0M115.9 245.3h0M78.6 243.8h0M115.8 250h0M95.7 237.2h0M104.5 255.5h0M97.3 253.3h0M120.7 236.2h0M109.3 255.1h0M81.6 247h0M104.9 255.8h0M108.8 255.7h0M110.3 254.2h0M84.1 252.9h0M112.7 252.1h0M96.8 244.7h0M116.1 246.6h0M121.4 239.2h0M125.1 253.5h0M96.6 249.5h0M109.2 256h0M106.1 255.8h0M88.2 217.1h0M115.1 247.6h0M107.2 256.5h0M110.5 255.4h0M96 241.4h0M93.1 244.6h0M111.9 256.2h0M109.3 256.2h0M108.7 255.8h0M108.3 256.4h0M98.9 249.6h0M86.7 242.9h0M114.7 251.5h0M132.3 223.7h0M112.2 252.1h0M107 256.5h0M109.2 256.2h0M90.3 251.4h0M96.9 252.4h0M92.7 248.2h0M120.5 256.1h0M111.6 252.5h0M101.6 251.6h0M109.7 255.6h0M97.3 252.3h0M110.5 255.1h0M96.7 249.4h0M109.9 255.5h0M120.4 240.5h0M126.3 247.7h0M113.6 255.7h0M118.5 253.3h0M117.3 252.2h0M111.8 253.8h0M116 254.1h0M76.1 254.1h0M113.4 253.7h0M82 191.7h0M96.8 252h0M97.4 251.2h0M105.7 256.2h0M104.3 255h0M137.9 236.5h0M103.5 253.8h0M115.7 253.3h0M98.8 255.8h0M108.3 256.2h0M85.4 247.7h0M111.4 254h0M102.9 252.7h0M101.1 250.5h0M87.6 248h0M128.9 211.4h0M115.5 255h0M112 255.1h0M107.2 256.5h0M89.4 256.2h0M116.7 247.4h0M104.2 254h0M126.2 237.4h0M106.3 256.4h0M98 243.7h0M109.9 255.4h0M105.9 256.1h0M104.8 256.6h0M99.1 249.5h0M100.8 251.7h0M107.7 256.4h0M114.2 254h0M82.6 247.7h0M93.5 247.1h0M94 232.5h0M111.4 253h0M103.5 254.8h0M112.8 256.1h0M104.1 255.3h0M117 246.2h0M97 241.9h0M100.6 253h0M106.8 256.4h0M135.2 254h0M86.7 228.5h0M116 251h0M126.2 231.9h0M105 255.1h0M102.5 253.5h0M107.9 256.4h0M105.5 255.6h0M121.8 247.8h0M138.3 184.6h0M111 253.3h0M120.7 245.6h0M94.6 252.1h0M122.7 248.6h0M106.9 256.5h0M110.9 254.6h0M79.2 242h0M91.3 237.5h0M114.3 255.8h0M121.2 247.3h0M129.8 222.4h0M101.9 252.1h0M116.1 245.7h0M105.4 256h0M86.1 227.1h0M91.6 256.1h0M86 254.2h0M102.6 256.4h0M106.9 256.5h0M106.2 256h0M113.9 248.8h0M108.1 256.4h0M95.5 244.1h0M105.6 256.1h0M114.3 254.5h0M111.4 253.5h0M113 253.2h0M86.2 234.9h0M103.2 255.3h0M105.7 256h0M110.4 254.3h0M131.3 249.5h0M100.9 249.8h0M83.7 239.2h0M100.5 253.4h0M104.4 256h0M107.9 256.4h0M117.8 255.6h0M105.8 256.1h0M97.8 244.9h0M114.8 251.7h0M102 254h0M110.8 253.9h0M130.3 204h0M103 254.7h0M118.3 253.5h0M122.8 245.7h0M112.2 251.8h0M109.5 255.5h0M113.8 252.3h0M84.3 254.2h0M103 254.2h0M107 256.5h0M127.4 221.8h0M109 255.9h0M94.3 232.8h0M119.1 245.7h0M116.5 254.7h0M113.3 252.2h0M103.5 254.9h0M107.4 256.6h0M84 253.3h0M111.6 254.6h0M106.3 256.4h0M114.6 250h0M110.8 255.5h0M108.6 256.1h0M93.1 244.1h0M115.1 247.7h0M114.3 248.1h0M125.1 236.1h0M102.3 252.3h0M113.4 252.8h0M113.8 249.6h0M107.4 256.6h0M117.7 251.2h0M103.7 253.8h0M114.8 252.9h0M119.1 256.3h0M83 225.6h0M134.2 209.4h0M87.6 246.3h0M98.6 249.8h0M117.1 252.5h0M119 240.6h0M99.8 248.2h0M128.7 213.3h0M95.5 238.6h0M106.9 256.5h0M127.1 240.9h0M94.3 243.4h0M128.8 201.3h0M127.8 219h0M131.8 255h0M119 243.6h0M94.9 236.6h0M113.7 252.5h0M100.4 254.4h0M131.2 254.2h0M111.2 255.9h0M112.1 253.7h0M121.6 244.3h0M87.9 224.4h0M86.1 244.2h0M119.7 250.6h0M94.7 235.5h0M93.3 230.3h0M108.7 256.2h0M85 252.2h0M133.2 255.4h0M95.2 238.4h0M99.5 254.1h0M117.5 248.2h0M85.7 205h0M112.7 250.6h0M134.8 215.5h0M115.5 251h0M103.4 253.6h0M92 251.5h0M102.7 252h0M84.9 232.9h0M98.3 247.2h0M116 248.9h0M97.9 255.1h0M130.7 232.8h0M90 229.3h0M119.2 238.3h0M122.3 246.6h0M105 255.4h0M121.3 256.4h0M95.7 247.6h0M125.5 236.7h0M115.6 249.1h0M123.7 229.3h0M107.2 256.6h0M85.9 202.2h0M138.1 253.6h0M117.9 253.1h0M104 254.8h0M100.6 248.2h0M108.4 256.3h0M97.2 247.1h0M104.7 255.7h0M114.9 252.8h0M98.7 248.6h0M107.1 256.5h0M121.7 245.3h0M102.1 254.8h0M126.2 239.4h0M116.7 248.9h0M94.9 251.1h0M123.9 228.3h0M133.7 242.1h0M108.4 256.1h0M95.5 246.4h0M115.7 247.3h0M114.5 251.5h0M104.9 255h0M101.8 250.8h0M96.2 249.9h0M128.9 255.7h0M126.5 234.9h0M94.4 242.3h0M107.6 256.5h0M97.4 248.5h0M95.5 240.8h0M106.4 256.3h0M120.3 232.9h0M105.3 255.3h0M119.3 255.9h0M109 255.6h0M111.7 254.8h0M105.4 255.5h0M129.3 230h0M112.5 251.3h0M104.5 255.8h0M115.7 253.7h0M96.9 242.2h0M111 256h0M106.8 256.6h0M102.8 255.1h0M102.5 252.9h0M119.9 237.7h0M104.9 255.5h0M111.3 252.8h0M111.2 255.4h0M114.9 254.6h0M87.2 249.5h0M103.4 253.5h0M80.6 242.9h0M115.7 249.8h0M126.4 251.5h0M84.1 240.5h0M106.8 256.4h0M106.1 256.4h0M111.5 253.4h0M93.9 239.1h0M98.9 245.1h0M102 253.9h0M119.3 237.6h0M125.3 243.9h0M107.8 256.4h0M96.7 240.6h0M102.5 255.5h0M137.6 251.2h0M108.5 255.8h0M89.7 230.9h0M127.3 245.8h0M119.5 250.5h0M86.9 232.1h0M115.1 253.2h0M85.6 232h0M108.1 256.4h0M135.7 238.1h0M91.7 231.9h0M108.1 256.2h0M92.4 235.3h0M123.9 244.6h0M122.6 250.9h0M85.8 238.5h0M101.6 253h0M108.7 256h0M104.1 254.1h0M122.1 236.7h0M110.5 254.3h0M115.2 253.3h0M103.7 255.7h0M95 249h0M107.3 256.6h0M107.3 256.6h0M137.2 173h0M109.8 255.2h0M88.3 253.2h0M128.3 211.2h0M94.6 246.7h0M122.6 250.8h0M76.2 229.8h0M100.5 254h0M111.9 253.5h0M95.7 239.1h0M120 248.5h0M84.1 251.6h0M132.7 196.8h0M94.5 255.6h0M118.6 252.2h0M103.2 253.8h0M126 241.6h0M125.6 225.1h0M101.3 251.1h0M98.2 247.3h0M100.3 254.4h0M124.5 240.8h0M108.4 256.4h0M97.3 241.3h0M89.3 221.6h0M111.6 254.1h0M107.3 256.6h0M121.3 229.8h0M108.1 256.2h0M109.8 254.8h0M115.4 246.3h0M119.2 245.7h0M96.2 245.5h0M130.6 252.7h0M117.8 246.1h0M115 248.5h0M117.6 239.8h0M93.2 247h0M93.5 241.8h0M115.7 252.9h0M101.2 254.3h0M109.8 255.3h0M99.7 249.4h0M105 256.3h0M106.7 256.4h0M108.6 256.2h0M132.5 240.3h0M95.5 248h0M127.1 236.6h0M76.6 250h0M106.7 256.5h0M104.4 254.8h0M112.4 253.9h0M116.7 251.9h0M103.4 254.7h0M103.4 255.4h0M93.5 248.7h0M102.6 254.6h0M101 251.5h0M125.2 232.8h0M120.7 247.6h0M89.1 245.8h0M115.4 256.2h0M100.1 254.4h0M112.7 250.7h0M105.2 256h0M127.4 237.9h0M110.2 254.9h0M111.6 253.1h0M91.6 243.6h0M107.1 256.5h0M99.1 246.4h0M137.8 234.6h0M121.7 232.6h0M122.1 255.1h0M102 255.1h0M83.5 243.9h0M105.2 255.3h0M94.9 245.8h0M121.7 255.6h0M105.3 255.4h0M102.2 251.5h0M101.3 254.7h0M106.8 256.6h0M106.3 256h0M95 236.8h0M134.3 189.3h0M87 249.3h0M81.4 234.7h0M100.5 250.9h0M118.5 248.8h0M91.3 235.2h0M107 256.5h0M103.6 253.8h0M130.2 247.1h0M121.8 245.2h0M100 251.1h0M113.8 250h0M93.2 241.9h0M102.9 252.9h0M119.3 248.1h0M111.5 253.3h0M88 246h0M119.2 253.9h0M112.1 253.2h0M131.2 242.9h0M102.2 255.2h0M106 256.1h0M91.7 234.2h0M128.2 237.4h0M91.2 244.1h0M115.8 252.6h0M105.9 255.7h0M94.3 238.1h0M130.4 230.8h0M102.5 251.9h0M112.1 253.7h0M107.2 256.6h0M110 256.5h0M108.2 256.2h0M95.1 255.9h0M98.8 250.7h0M90.7 221.9h0M109.2 255.6h0M125.2 250.6h0M96 252.3h0M92.8 244.7h0M96.2 252.5h0M113.8 248.8h0M113.6 251.1h0M99.4 255.1h0M111.3 253.4h0M97.3 254.7h0M100.2 249.7h0M114 249.2h0M88.8 246.6h0M123.1 237.3h0M113.2 252.3h0M107 256.6h0M118.2 245.4h0M114.3 252.3h0M103.4 255.3h0M94.2 248.8h0M107.8 256.3h0M97.7 246.1h0M123.4 248.4h0M102.7 253h0M112.2 254h0M114.2 251.4h0M97.1 247.7h0M117.8 243h0M124.3 247.8h0M111 253.5h0M92.8 255.6h0M113.8 250.3h0M92 250.3h0M107.6 256.5h0M106.2 256.4h0M126.8 238.9h0M100.6 254.1h0M123.1 251.8h0M99.9 249.9h0M126.3 228.4h0M109.8 254.8h0M121.7 241.6h0M118.7 238.9h0M121.9 252.6h0M118.9 236.5h0M104.4 255.8h0M133.3 256.1h0M118.6 239.1h0M98 246.9h0M115.7 255.7h0M135 254.3h0M124.3 250.8h0M115.6 251h0M133.1 178.2h0M93.1 238.9h0M101.3 250.5h0M137.7 253.4h0M122.6 231.8h0M99.5 253.3h0M84.1 249.3h0M112.6 250.9h0M106.5 256.4h0M81.7 248.2h0M114.2 251.8h0M104.2 254.3h0M107.3 256.6h0M110.4 254.4h0M119.4 243.7h0M124.5 233.1h0M132.3 249.3h0M105.1 255.2h0M94.8 245.9h0M94.2 248.4h0M108.8 256.5h0M110.4 254.2h0M97.4 245h0M123.9 238.4h0M124 223.2h0M113.1 251.4h0M94 253.1h0M93.5 248.3h0M115.8 245.4h0M112.4 252.7h0M114.2 251h0M92.4 256h0M113.2 250h0M129.8 230.9h0M112.8 254.1h0M99.7 252.4h0M127.8 241.2h0M102.4 252.6h0M107.9 256.5h0M106.6 256.2h0M101.1 255.4h0M116.2 253.6h0M112.5 254.1h0M94.6 235.9h0M110.4 255.9h0M119.4 250.8h0M107.9 256.3h0M108.2 256.1h0M110.9 253.5h0M105.3 255.2h0M112.2 253.5h0M110.3 255h0M81.9 208.5h0M90.6 236h0M118.2 247.3h0M81.9 241.3h0M97.7 242.8h0M126.3 219.7h0M108.9 255.9h0M100.7 249.8h0M127.6 221.1h0M105.7 255.9h0M104.9 255.2h0M121.3 243.2h0M121.9 241.7h0M109.7 255.1h0M101 255.8h0M105.2 256h0M94.5 240.5h0M119.1 246.3h0M118.8 245.3h0M112.2 254h0M114 249.5h0M95.5 255.2h0M81.1 237.3h0M116 245.9h0M116.7 247.9h0M120.7 247.6h0M94.3 253.3h0M102.1 251.2h0M89 247.9h0M96.3 251.6h0M106.7 256.4h0M104.7 256.1h0M112.9 255.2h0M115.1 252.6h0M123.7 247h0M126.4 235.7h0M128.7 241.7h0M113.8 252h0M111.4 255.8h0M102.6 253.1h0M104.5 255.8h0M122.9 240.5h0M104 254.4h0M117.7 241.8h0M108.2 256.2h0M113.9 249.9h0M82.9 221.3h0M122.3 226.7h0M117.1 243h0M103.7 255.3h0M92.5 253.8h0M87.5 250.2h0M106.2 256.3h0M126 253.2h0M103.9 254.7h0M101.9 255.1h0M119.7 243.4h0M92.5 230.6h0M122.1 238.4h0M98.6 244.3h0M106.5 256.2h0M82 221.6h0M112.9 251.5h0M121.2 243.8h0M83.2 244.1h0M90.9 222.6h0M125.2 250.4h0M117.1 250.5h0M121.9 251h0M105.3 255.3h0M97.9 244.6h0M105.8 256.5h0M120.8 256.2h0M115.8 256.5h0M97.3 250h0M113.4 250.7h0M108.2 256.2h0M99.1 250.2h0M112.6 255.9h0M102.7 252.8h0M101.6 251h0M91.2 246.3h0M100.2 249.2h0M112.5 251.7h0M82.4 228.8h0M89.4 234.3h0M103 254.4h0M111.9 252.2h0M90.6 237h0M80.1 209.2h0M104.6 255h0M113.3 253.6h0M112.8 254.7h0M102.9 254.3h0M122 229.6h0M107 256.5h0M109.8 256h0M112.1 253.4h0M120.7 232.6h0M103.3 253.9h0M102 253.3h0M122.1 243.6h0M78.9 243h0M113.3 255.4h0M107.8 256.4h0M132.5 227.7h0M101.8 256.2h0M105.9 256.4h0M126.1 234.1h0M102.1 252h0M110.9 254.2h0M85 209.4h0M91.3 251h0M101.7 250.7h0M97.9 247.1h0M95.6 246.5h0M101.1 251.2h0M77.3 176.5h0M99 248.2h0M122.1 234.7h0M110 254.4h0M88.3 223h0M109.9 256.1h0M95.4 252.7h0M132.3 246.6h0M110.4 255.1h0M97.8 244.7h0M97.8 246h0M99.9 248.2h0M107.6 256.5h0M123.6 250.2h0M85.5 256h0M98.9 251.1h0M114.8 247.7h0M104.2 254.7h0M118.4 251.8h0M112.1 254.2h0M101.3 250.4h0M104 255.7h0M111.4 252.8h0M98.7 256.6h0M124.3 246.7h0M88.5 223.2h0M126.7 230.6h0M117.6 243.2h0M101.7 250.9h0M105.6 255.8h0M117.5 241.6h0M108.3 256.1h0M128.2 208.3h0M105.2 255.9h0M113.1 252.4h0M110.8 255h0M112.7 254.6h0M107.4 256.6h0M101.4 253.6h0M117 255.6h0M97.4 248.3h0M112.5 251.8h0M86.5 252.1h0M98.8 250.9h0M114.8 252.7h0M101.8 252h0M133.8 206.5h0M121.1 237h0M101.8 253.9h0M120.1 250.9h0M117 247.5h0M94.1 233.5h0M108.9 256h0M92.7 227.6h0M90.5 237.2h0M103.8 254.6h0M121.6 228.8h0M112.1 255.1h0M89.8 231.8h0M86.1 250.1h0M112.8 251.1h0M95.4 238.5h0M99.7 247.7h0M112.1 255.5h0M109.7 255.5h0M120.2 233.5h0M98.6 254.2h0M97.7 246.5h0M119.8 242.8h0M100.1 247.5h0M111.4 253.9h0M107.3 256.6h0M119.1 235.7h0M108.5 256.3h0M111.6 252.9h0M109.3 255.7h0M130.8 255.2h0M125.7 240.7h0M115.4 245.8h0M105.7 255.8h0M112.1 255.1h0M103.7 253.9h0M107.6 256.5h0M108.2 256.4h0M115.9 248.8h0M93.2 235.4h0M127.4 229.2h0M120.6 236.1h0M103.3 254.6h0M102.5 256.2h0M81.6 214.4h0M116.6 249.7h0M104.1 254.3h0M96.4 240.8h0M123.1 237h0M135 244.8h0M109 255.9h0M103.6 253.7h0M115.8 246.3h0M130 235.4h0M112.6 256.5h0M95.7 240.8h0M87.4 219.9h0M111.9 253.2h0M123.4 244.2h0M103.9 255h0M112.4 252.7h0M106.5 256.2h0M100.6 254.6h0M96.6 240h0M106.3 256.3h0M101.5 253.7h0M90.9 256.2h0M101.5 254.1h0M117.7 255.8h0M113.3 256.1h0M97.3 249.3h0M116.9 252.4h0M116 251.1h0M96.4 244h0M111.1 253.7h0M128.2 235.1h0M95.5 251.8h0M121.3 249.6h0M95.1 255.5h0M104.2 254.8h0M97.8 248.8h0M102.8 253.2h0M99.7 249.7h0M106.3 256.3h0M103.5 255.5h0M118.3 252h0M128.8 252.1h0M112 253.6h0M129.9 239.7h0M119.3 235.3h0M104 255.5h0M113.6 249.7h0M104.9 255h0M135 231.9h0M127.4 243.9h0M101.7 255.1h0M94.5 240.5h0M112.3 251.9h0M92.8 255.8h0M101.8 251h0M107.7 256.5h0M96.1 252.3h0M104.7 256.4h0M89 228.7h0M111.6 256.1h0M97.3 255.2h0M136 248.8h0M124.8 227.5h0M130.3 238.9h0M108.3 256.2h0M106.9 256.4h0M132.2 255.2h0M99.8 248.7h0M99.7 249.8h0M107.7 256.5h0M98 250.6h0M112.4 252.4h0M119.8 241h0M97 256h0M101.7 254.8h0M117.6 254.4h0M79.6 213.1h0M110 254.7h0M106.1 256.1h0M98.2 250.5h0M93.2 231.4h0M128.3 248.8h0M124.3 222.9h0M120.8 233.6h0M79.1 221.1h0M95.7 241.5h0M108.1 256.5h0M89.6 237.8h0M95.4 244.4h0M102.5 253.9h0M109.4 255.3h0M108.6 256h0M100.6 255.9h0M114.7 247.1h0M95.6 252.8h0M109.9 254.7h0M106.7 256.3h0M128.3 247.8h0M115.4 252.6h0M81.5 194.2h0M104 255.7h0M92.6 254.2h0M114.6 250.6h0M88.6 224.7h0M121.9 247.1h0M117.9 239.8h0M114.4 251.9h0M114.1 252.3h0M110.6 254.2h0M99.4 246.1h0M98.6 253.2h0M123.7 228.5h0M105.3 256.2h0M110.3 255.7h0M85.9 246.8h0M87.6 245.9h0M108.9 256.1h0M99.6 250.6h0M109.9 255.8h0M114 251.8h0M94.6 242.9h0M116 244.6h0M116.4 243.2h0M102.4 252.5h0M106.3 256h0M114.5 249h0M98.2 251.8h0M105.8 255.8h0M128.6 254.2h0M107.6 256.5h0M114.9 251.4h0M91.9 245.7h0M93.7 233.1h0M127 221.3h0M110.4 255.7h0M110 255.1h0M95 246.9h0M99.9 248.4h0M118.2 248.4h0M121.9 240.1h0M120.6 253.1h0M115 246.2h0M130.6 245.6h0M106.5 256.1h0M113 251.8h0M112.9 250.5h0M120.7 247.7h0M98.4 251.9h0M93.8 250.2h0M108.1 256.3h0M123.6 226.1h0M103.4 256h0M108.1 256.4h0M88.4 245h0M93.1 230.3h0M123.3 239.1h0M120.3 248.4h0M104.2 255.7h0M113.9 254.3h0M91 235.1h0M101.8 255.2h0M132 208.4h0M96.3 243.7h0M101.2 253.4h0M104.3 254.3h0M93.2 249.4h0M116.6 244.4h0M116 252.6h0M99.3 247.6h0M103 252.8h0M113.8 249.6h0M100.3 249.1h0M122 240.1h0M85.1 229.7h0M122.6 246h0M125.6 253.7h0M91.2 243h0M131.3 229.8h0M113.3 251.7h0M101.8 253h0M105.2 256.1h0M91.7 229.2h0M88.3 256.2h0M109.2 256.1h0M130.8 251h0M78.6 239.7h0M102.3 253.2h0M130.3 244.5h0M101.5 251.1h0M111.1 253.3h0M95 242.5h0M112.9 256.4h0M91.6 224.2h0M81 242.9h0M109.1 255.6h0M77 255.1h0M138.4 254h0M96.5 248.5h0M102.2 255.4h0M116.4 248.2h0M92.6 242.4h0M102.1 252h0M113.5 252.7h0M110.5 255h0M124.6 248.3h0M77.8 246h0M122.9 240h0M113.1 251.9h0M100.5 249.8h0M128.3 235.9h0M106.4 256.3h0M111.1 255.3h0M126.6 234.3h0M89 246.1h0M104.3 256.4h0M99.7 252.6h0M117.3 242.9h0M117.5 250.2h0M100.7 248.7h0M109.5 255.4h0M103 252.3h0M117.7 239.5h0M115.3 246.9h0M112.5 254h0M95.9 237.5h0M121 246.7h0M108.4 256.2h0M104.9 255.8h0M98.6 246.3h0M102.4 255.4h0M126.2 251.4h0M116.4 253.7h0M111.9 252.5h0M93 231.3h0M104.7 254.6h0M123.5 227.8h0M92.7 249.2h0M116.7 255.8h0M90.1 243.6h0M103.2 254.2h0M91.9 256.5h0M116.9 253h0M114.3 248.7h0M115 250.2h0M130 241.5h0M108 256.6h0M108.8 255.6h0M125.3 247.2h0M114.8 250.5h0M113.3 253h0M99.3 250.2h0M108.6 256.2h0M109.8 255.1h0M113 252.9h0M106.8 256.5h0M87.1 216.1h0M92.2 230.7h0M109.9 255.3h0M90.6 220.4h0M111.2 254h0M110.6 254.2h0M126.1 218.1h0M82.4 221.5h0M127.5 249h0M85.3 244.4h0M85.1 207.7h0M110.6 256.5h0M110.6 255.7h0M108.9 255.8h0M115.2 250.2h0M132.8 224.4h0M97.1 256.5h0M104.5 255.6h0M119.1 253.7h0M96.5 243.1h0M125.5 231.9h0M122.2 237.7h0M137.6 212.4h0M105.5 255.6h0M132.2 223.5h0M112.9 253.5h0M122 253.7h0M99.3 254.3h0M136.3 256.5h0M103.3 254.3h0M103.6 253.6h0M82.9 256.2h0M129 232.5h0M121.7 244.2h0M116 256.3h0M115.5 249.8h0M113 250.2h0M90.4 218.6h0M126.9 243.6h0M118.4 246.5h0M120.8 248.9h0M112.7 252.7h0M84.3 238.9h0M104.4 254.6h0M116.2 244.7h0M99.7 249.4h0M102.4 255.3h0M105.1 256.1h0M102.8 253.2h0M85.8 206.4h0M100.2 250.1h0M100.7 252.9h0M120 250.3h0M92.9 243.2h0M118 244.2h0M111.5 252.8h0M95.6 241.4h0M93.6 256.3h0M109.2 256.2h0M100.5 251.9h0M123 255h0M109.3 255.8h0M117.8 249.1h0M107.5 256.5h0M106.1 255.9h0M109.7 256.5h0M110.4 255h0M136.3 182.8h0M118.8 252.5h0M118.4 247h0M98.5 246.9h0M90.4 256.1h0M121.5 254h0M84.2 250.3h0M102.1 251.5h0M114.8 247.8h0M117 245.8h0M103.2 254.9h0M126.8 251.7h0M121.5 243h0M96.5 240.2h0M94.8 247.4h0M112.2 255h0M116.1 249.7h0M104.1 255.5h0M102.5 255.7h0M121.8 253.8h0M117 247.5h0M93.2 241.5h0M98.4 249.1h0M82.2 207.8h0M100.8 251.1h0M85.1 209.2h0M81.1 228.7h0M98.2 248.3h0M110.9 253.9h0M88.3 216.3h0M116.7 242.2h0M105.5 255.8h0M127.4 241.9h0M122.4 244.3h0M109.8 256.1h0M114.8 250.5h0M110.9 254.5h0M101.8 256h0M112 251.9h0M100.2 249h0M116.8 256.4h0M113.5 252.6h0M114.1 251.8h0M90.8 222.5h0M113.9 250.6h0M105.4 255.3h0M110.5 254.6h0M106.9 256.4h0M94.2 241.3h0M102.7 254.7h0M135.6 190.8h0M114.3 254h0M113.5 252.3h0M101.7 254.9h0M83.9 218.2h0M79.2 246.7h0M112.4 254.9h0M115 247h0M109.8 254.8h0M92.2 248.1h0M109.2 255.3h0M88.7 213.9h0M106.3 256.1h0M112.9 253.9h0M101.4 252.1h0M92.5 246.9h0M111.1 254.2h0M123.4 222.1h0M79.6 240.2h0M97.4 243.4h0M110.5 255.7h0M135.1 252.9h0M101.5 252.5h0M109.2 255.9h0M98.8 255.8h0M126 228.3h0M120 246.9h0M107.9 256.5h0M111.5 254.3h0M94.1 253.2h0M124.3 253.2h0M94.4 244h0M100.2 252.3h0M110.8 255.2h0M110 254.4h0M111.9 252.5h0M102 253h0M101.8 254.1h0M103.3 253.8h0M108.5 256.6h0M105.8 256.1h0M111.7 252.8h0M102.4 253h0M125.8 221.9h0M108 256.3h0M110.7 255.9h0M126.7 234.4h0M95.1 234.7h0M103.6 255.2h0M115.3 249.9h0M97.1 240.1h0M114.8 251.6h0M123.6 255.9h0M95.5 241.2h0M106.7 256.4h0M104.8 255.3h0M117.4 250h0M94.6 246.1h0M107.3 256.6h0M107.4 256.6h0M112.5 251.5h0M99.7 250.8h0M119.8 243.9h0M99.7 254h0M91 255.5h0M96 238h0M93.7 235.6h0M96.4 244.9h0M106.1 256.5h0M101.8 252h0M114.5 250.7h0M107.8 256.6h0M101.5 251.8h0M103.6 254.5h0M107.3 256.6h0M128.2 250.6h0M128 210.3h0M120.2 253.6h0M92.7 237.3h0M103.2 253h0M113.6 256.2h0M75.8 187.2h0M95.5 251.1h0M112.4 254.9h0M118.4 253.6h0M89.5 254h0M83.9 230.6h0M121.8 249.9h0M101.1 254.1h0M79 243.5h0M100.2 249.4h0M96.8 246.2h0M110 255.7h0M87.5 246.3h0M109.3 255.2h0M108.9 256.3h0M95.8 238.1h0M127.5 234.7h0M113.6 250.7h0M115.8 253h0M126.4 228.7h0M86 240.5h0M105.8 255.9h0M105 254.9h0M110.4 254.6h0M114.1 249.2h0M98.6 247.2h0M104.5 255h0M132.8 246.8h0M96.4 252.7h0M114.1 249.8h0M80.5 241.9h0M99.5 248.1h0M96.8 249.6h0M107.5 256.6h0M136.6 232.6h0M86.5 241.8h0M121.6 228h0M114.5 251.5h0M111.4 253.1h0M105.4 256.3h0M99.1 249.8h0M96.6 244.4h0M116.8 255.7h0M99.9 249.1h0M112.1 251.9h0M109.7 255.4h0M113.8 255.1h0M125.4 250.9h0M109.5 255.1h0M127.7 218.1h0M100.3 248.8h0M103.2 254.5h0M99.9 247.7h0M96.4 254.5h0M104.8 254.6h0M112.1 253.8h0M88.6 236.1h0M103.4 253h0M92 251.3h0M104.8 255.3h0M103 252.5h0M109.3 255.3h0M102.8 254.6h0M101.1 250.5h0M95.3 245.6h0M114.1 249.6h0M118.8 245.8h0M119.9 253.2h0M86.9 237.7h0M130.7 231.3h0M103.4 254.5h0M127.1 236.3h0M87.1 238h0M99.7 254.3h0M112.5 254.6h0M114.2 252h0M108.3 256.4h0M117.4 243.6h0M107.1 256.5h0M132 221.1h0M101.8 253.2h0M109.5 255.7h0M127.2 241.1h0M119.6 244h0M107.2 256.6h0M116.6 247.2h0M134.1 196.1h0M100.9 255.8h0M134.6 224.5h0M103.1 254.2h0M117.7 252.3h0M120.8 231.9h0M115.4 248.6h0M99.4 248.8h0M97 253.8h0M93.5 238.6h0M111.1 255.3h0M99 247.8h0M105 256.2h0M104.7 255.2h0M112.7 253.2h0M93.2 252.2h0M115 249.1h0M105.4 255.3h0M115.8 249.8h0M98.7 255h0M104.4 255.8h0M110.1 255.8h0M107.6 256.5h0M98.5 255.6h0M93.4 238.3h0M132.1 248.5h0M114 254h0M99 250.3h0M102.7 252.8h0M99.4 251.4h0M84.4 208.7h0M124.6 246.5h0M137.2 242.9h0M87.8 218.8h0M120.3 241h0M86.7 221.3h0M80.6 256.2h0M100.5 253.2h0M110.5 254h0M102.4 255.1h0M101.2 251.3h0M94.8 233.9h0M92.7 238.6h0M103.6 255.7h0M128 242.1h0M97.4 253.4h0M80.2 249.9h0M100.5 249.4h0M80.7 243h0M110.7 254.6h0M96.4 240.1h0M110.9 254.6h0M86.2 224.6h0M109.6 256.2h0M118.2 243.8h0M104.7 255.8h0M109.5 255.1h0M114.8 255.1h0M98.9 250.7h0M106.7 256.4h0M101.9 252.6h0M103.5 255.8h0M99.1 248h0M128.2 249.9h0M115.6 254.5h0M126.7 245.5h0M80.4 211.3h0M112.9 251.3h0M97.6 247h0M98.4 250.5h0M111.5 254.5h0M100.5 248.1h0M110.9 253.5h0M106.2 256.5h0M119.3 255.5h0M126.5 253.7h0M95 237.7h0M109.6 254.9h0M121.7 228.9h0M133.9 250.4h0M103.2 255.1h0M115.9 250.2h0M84.5 240.9h0M96 243.6h0M108.8 256h0M128.2 251.6h0M100.2 255.8h0M128.8 214.9h0M100 250.4h0M120.9 251h0M106.2 256.3h0M125.3 238.1h0M89 246.2h0M128.4 256.3h0M124.8 245.3h0M99.5 249.6h0M100 254.1h0M136.1 184.8h0M100.1 248.2h0M127.4 245.6h0M107.6 256.5h0M131.7 202.5h0M106.1 256h0M100.7 251.3h0M95.3 247.9h0M122 231.7h0M85.6 228.3h0M106.5 256.3h0M105.9 256.2h0M116.5 255.5h0M112.2 252.2h0M114.4 247.9h0M99.6 250.2h0M87.6 256.4h0M101.6 253.7h0M111.9 252h0M98.1 251.5h0M100.4 254.8h0M122.4 228.5h0M102.8 255.3h0M95.8 239.7h0M114 256.1h0M114.8 255h0M126.2 242.4h0M128.5 244h0M96.3 242.5h0M117.7 244.3h0M105.7 255.9h0M91.1 249.9h0M84.4 214h0M80.9 233.4h0M106.3 256h0M105 255.5h0M103 253.5h0M91.1 229.9h0M111.9 254.4h0M110 254.7h0M113.4 254.5h0M129.6 192.2h0M92 254.3h0M107.3 256.6h0M123.3 233.7h0M111.2 254.7h0M113 254.8h0M115.9 254.7h0M80.8 221.6h0M99.6 255h0M131.2 248.3h0M126.9 253.3h0M95.8 251.4h0M97.1 249.7h0M89.8 240h0M93.1 254.5h0M92.1 226.1h0M89.3 227.6h0M105.6 255.8h0M98 256h0M106.3 256.1h0M111.4 253.7h0M122.9 235h0M96.7 244.8h0M81.4 252.4h0M106.6 256.4h0M119 246.5h0M106 255.9h0M94.3 248.3h0M120 234.4h0M103.9 255.1h0M112.2 253.9h0M94.1 235.5h0M127.3 241.3h0M95.7 255.6h0M102.8 253.7h0M114.4 249.5h0M107.7 256.5h0M127.9 210h0M115.5 251.5h0M99.5 253.2h0M97.5 254h0M93.3 239.6h0M118.4 252.5h0M121.6 231.8h0M107.3 256.6h0M98.8 253.8h0M110.5 254h0M115.1 251.6h0M111.3 254.5h0M113.6 254.7h0M84 255.2h0M100.7 254.6h0M84.3 245.7h0M106.3 256.3h0M105 255.3h0M99.8 250.3h0M109.3 255.4h0M85.8 247.4h0M106.7 256.3h0M105.6 255.9h0M89.3 232.5h0M82.2 234.2h0M124 243h0M110.8 254.8h0M98.8 245.2h0M128.1 252.1h0M85 240.3h0M105.1 256h0M92 252.6h0M94.8 239.9h0M122.7 228.6h0M94.6 251.8h0M125.2 249.6h0M106.9 256.5h0M104.3 255.5h0M87.4 222.6h0M112.2 256.2h0M104.1 254.6h0M119.9 238h0M113.6 255h0M109.2 255.3h0M100.8 252.4h0M113.1 252.6h0M114.9 246.9h0M121 256.6h0M103.2 255.8h0M123.9 246.1h0M125.5 231.8h0M113.7 250.4h0M108.5 256.4h0M115.5 254.2h0M109.8 254.6h0M120.2 243.4h0M118.2 241.5h0M106.7 256.4h0M121.8 253.5h0M126.4 233.2h0M107.9 256.3h0M82.5 249.2h0M105.5 256.1h0M105.7 256h0M134.8 233.8h0M110.9 253.4h0M124.7 231h0M80.1 244.1h0M93.3 253.7h0M88.5 225.6h0M104 254.6h0M99.4 251.9h0M126.9 238.6h0M102.4 253.3h0M117.1 251.2h0M112.3 253.8h0M80.6 215.3h0M96.1 247.3h0M96.5 255.1h0M102.7 253h0M92.4 225.4h0M115.5 250.5h0M123.2 249.3h0M102.8 252.6h0M109.6 255.3h0M76.8 251.9h0M102.6 254.9h0M108.5 256.1h0M102.9 253.4h0M109.2 256.1h0M109.3 255.4h0M106.3 256.2h0M119.9 243h0M108.2 256.1h0M121.3 234.1h0M86.9 220.1h0M114.4 255.9h0M113.8 251.7h0M119.8 252.9h0M101.5 251h0M121 252.5h0M131.4 208.3h0M114.2 249.1h0M115.5 256h0M108.2 256.1h0M118.9 240.3h0M131.5 243.9h0M103.3 255.1h0M108.3 256.2h0M129.4 254.3h0M127.6 221.5h0M97.1 248.9h0M107.1 256.5h0M116.1 247.8h0M95.7 240.5h0M105.1 256.3h0M121.7 238.6h0M124.6 224.2h0M91.3 221.2h0M98.6 253h0M111.6 252.5h0M105 255.2h0M89.8 248.2h0M93.3 250.4h0M100.6 250.8h0M109.4 255.9h0M90.7 237.5h0M92.1 237.8h0M92.6 244.8h0M125.7 248.5h0M127.9 243.3h0M108.3 256h0M97.4 251.6h0M128 237.7h0M105.3 255.6h0M120.3 254.5h0M92.6 239.8h0M91.5 256h0M109.1 255.7h0M109.2 256h0M111 253.3h0M107.4 256.6h0M90.5 222.5h0M106.4 256.1h0M113.1 250.7h0M103.9 253.7h0M129.5 231.9h0M102.5 254.6h0M90.3 242.7h0M103 253.5h0M92.2 241.3h0M121.2 237.6h0M113 253.6h0M98.2 251h0M123.2 238.9h0M105.1 256.4h0M102 250.9h0M104.7 255.6h0M107.6 256.5h0M119.6 246.1h0M88.3 223.7h0M99.1 253.7h0M98.7 246h0M94.3 243.3h0M109.8 256.5h0M126.8 236.4h0M94.2 246.1h0M107.5 256.5h0M103.3 254.8h0M138.4 241.1h0M94.8 249.8h0M114.3 252.4h0M120.2 254.1h0M113.8 252.7h0M108.4 256.2h0M102.3 251.3h0M102.8 253.3h0M101.6 251.6h0M122 231.7h0M132.5 240.4h0M129.2 243.7h0M110.5 256.5h0M126.2 243.3h0M107.1 256.5h0M101 249h0M114.5 250.9h0M101.2 252.1h0M95.8 238.9h0M115.6 246.7h0M121.5 231.4h0M80.4 256.4h0M94.8 256.4h0M105.2 255.8h0M120 235.8h0M108.6 255.9h0M128.8 235h0M121.2 236.8h0M91.9 234.9h0M107.8 256.3h0M109.5 255.3h0M94.3 233.3h0M109.6 255.7h0M94.2 255.5h0M77.4 235.1h0M98.5 247.4h0M103.6 253.8h0M86 240h0M122.8 243h0M92.2 241.6h0M92.3 225.1h0M108.3 256h0M117.6 247.3h0M128.2 215.5h0M100.9 252.3h0M126.7 223.5h0M118.3 255.8h0M107.1 256.5h0M121.1 240.9h0M82.4 213.5h0M113.6 252.1h0M96.1 246.4h0M110.1 254.4h0M103.4 254h0M100.2 248.2h0M129.2 248.4h0M107.2 256.6h0M133.8 249.8h0M120 249.8h0M107.6 256.5h0M105.5 255.9h0M129.5 240.9h0M132.9 227.8h0M112.5 252.2h0M108.8 255.6h0M106.3 256.2h0M121.8 254.7h0M96.2 245.3h0M110.8 253.8h0M101 255.3h0M115.7 248.4h0M113.9 253.7h0M93.8 242.3h0M121.2 255.1h0M88.2 255h0M96.9 254.3h0M125.8 241h0M98 254.1h0M90.7 220.4h0M129.6 227.4h0M87.5 239.7h0M105.9 255.8h0M90.3 242.6h0M118.7 244.5h0M110.5 254.3h0M119.6 245.5h0M86.7 241.2h0M96.3 249.7h0M103.1 254.9h0M98.7 250.2h0M124.2 236.3h0M90.2 241.2h0M112.9 253h0M105.5 255.4h0M102.9 253.1h0M107.7 256.4h0M106.9 256.5h0M96.7 253.7h0M104.4 255.3h0M91.8 232.7h0M111.9 252.9h0M111.5 253.1h0M134.6 231h0M104.2 254.7h0M116.1 246.9h0M88 230.5h0M105.2 255.2h0M106.1 256.3h0M86.4 224.2h0M99.6 254.7h0M103.3 253.7h0M114.3 255.5h0M115 250.1h0M122.3 254.3h0M107.2 256.6h0M113.2 252.6h0M99.4 247.6h0M109.1 255.9h0M112.8 251.8h0M106.1 256.1h0M120.3 233h0M124.6 237.5h0M81 246.8h0M105.4 256.4h0M127.1 242.2h0M131.4 217.6h0M101.4 252.9h0M109.9 254.6h0M117.9 253.8h0M105.5 256.3h0M98.2 244.3h0M101.1 249.2h0M136.7 217.5h0M96.5 241.5h0M127.8 249.4h0M110.3 256h0M101.1 250h0M105.5 255.4h0M99.6 250.3h0M111 253.4h0M106 255.9h0M109.9 255h0M114.5 252.2h0M89.7 220.1h0M114.1 250h0M111.9 252.1h0M91.3 244.6h0M108.7 255.7h0M77.6 210.6h0M93.5 255.1h0M110.9 255.7h0M126.6 240.3h0M118.8 239.7h0M84 208h0M123.9 248.3h0M99 254.8h0M102.4 252.3h0M99.8 253.2h0M127.1 204.5h0M107.1 256.5h0M126.7 245.2h0M99.4 247.8h0M114.8 253.5h0M120.3 250.4h0M114.6 254.1h0M138.2 249.2h0M95.4 249.8h0M95 242.1h0M99.8 251.5h0M100.5 255.1h0M93 255.8h0M106.1 255.9h0M103.4 256h0M121.6 230.1h0M111.2 255.8h0M118.5 243.5h0M81 228.7h0M106.3 256.5h0M104 254.7h0M101 255.3h0M92.9 252.4h0M116.8 248.9h0M105.5 255.6h0M83.7 211.1h0M113 251.7h0M118.5 254.5h0M91.2 253.3h0M111.3 253.8h0M108 256.3h0M85.9 216.5h0M86.6 247.3h0M98.6 246.4h0M104.4 255.4h0M136.4 179.5h0M125 236.2h0M91.6 231.3h0M82.2 232.1h0M121.9 250.4h0M106.2 256.1h0M111.4 254.3h0M87.6 244.7h0M101.5 255.9h0M111.6 253.5h0M101.4 251.2h0M124.1 239.7h0M76.5 208.8h0M105.2 255.5h0M119.2 251.2h0M98.6 249.2h0M91.4 235.8h0M87.2 253.6h0M114.8 255.7h0M116 249.3h0M130.6 251.6h0M103.6 256.4h0M104.6 254.6h0M106.7 256.4h0M121.1 243.6h0M97.3 247h0M107.1 256.5h0M97 249.7h0M121.6 241.5h0M118.6 252.8h0M132.5 236.7h0M93.9 236.8h0M103.4 254.8h0M115.9 247.4h0M133.8 243.6h0M100.8 250.8h0M91 237h0M120 252.7h0M98.9 247.5h0M103.3 255.2h0M96.6 241.9h0M119.3 252.4h0M100 252.4h0M92.6 252.8h0M108.3 256.1h0M125.4 225.9h0M90.7 255.5h0M102.9 252.6h0M106.4 256.2h0M96.1 250.4h0M117.6 243.5h0M125 248.2h0M104.8 255.3h0M120 250.6h0M99.9 251.3h0M99.9 247.6h0M102.2 253.7h0M107.9 256.4h0M104.8 255.1h0M104.3 255.9h0M113.8 251.1h0M99 248.4h0M90.1 223.9h0M132.9 235.7h0M89.2 232.2h0M127.7 237.1h0M103.6 254.7h0M137.1 242.7h0M77.6 198.8h0M97.4 245.5h0M123.6 228.1h0M127 231.1h0M95.6 235.7h0M105.3 255.4h0M102.9 252.3h0M94.7 238h0M103.2 252.9h0M107.3 256.6h0M108.2 256.3h0M104.6 255h0M84.7 252.5h0M89.3 253.3h0M93 253h0M110.2 256.6h0M118.7 243.8h0M110.8 255.3h0M82.2 244.9h0M77.2 245.2h0M108.1 256.2h0M110.6 254.2h0M108.2 256.2h0M104.4 254.8h0M84.8 242.2h0M118.7 243.6h0M115.1 247.1h0M126 253.5h0M108 256.3h0M100.2 250.3h0M128.3 236.6h0M109.6 255.4h0M135.2 188.1h0M131 230.2h0M92.1 239.1h0M121.8 237.4h0M86.3 237.7h0M111.7 254.3h0M111.6 253.5h0M112.8 252.9h0M103.7 254h0M85.4 246.5h0M126.1 223.4h0M117.8 241.2h0M114.8 254.5h0M93 232.8h0M96.4 245h0M95.3 251.6h0M129.2 197.6h0M100.4 251.3h0M91.6 236.9h0M108 256.4h0M109.9 254.7h0M118.1 246h0M94.5 246h0M115.5 245.4h0M109 255.9h0M109.9 255.1h0M127.8 239.5h0M105.7 256.4h0M107.4 256.6h0M95.5 236.8h0M118.4 248.7h0M116.5 248.4h0M115.5 249.5h0M99.4 251.3h0M100 249.4h0M97.5 242.7h0M104.7 254.9h0M89.8 243.2h0M106.2 256h0M109.4 255.6h0M113.7 255.2h0M110.1 254.4h0M133.6 242.6h0M101.8 252.9h0M86.3 210.7h0M112.4 252.9h0M89.4 230.6h0M108 256.2h0M101.4 251.8h0M105 255.9h0M106.7 256.4h0M128.7 255.5h0M116.2 251h0M93.4 236.8h0M109.6 255.9h0M112 253.8h0M105.4 255.6h0M94.5 238.4h0M109 256.2h0M127.3 219.3h0M102.7 252.7h0M99.1 250.2h0M108.6 256.3h0M86.9 237.7h0M88.2 249.5h0M107.9 256.5h0M123 256h0M96.7 246.6h0M98.3 248.6h0M134.3 245h0M110 254.5h0M100.1 251.1h0M105.4 255.4h0M115.7 254.5h0M102.3 252.5h0M92.7 244.3h0M123 251.6h0M108.7 255.8h0M98.8 249.1h0M109.4 255.4h0M114.4 250.1h0M106.5 256.2h0M115.3 253h0M112.8 254.6h0M115.4 255.6h0M126.1 238.4h0M97.7 253.3h0M105.2 255.8h0M134.6 172.4h0M116.3 244.5h0M118.3 255.9h0M90.5 246.6h0M103.7 254.1h0M113.5 252.3h0M80.5 245h0M124.1 246.1h0M120.4 245.7h0M118.2 248.3h0M101 251.8h0M101 255.1h0M124.7 245h0M117.5 244.5h0M120.9 231.4h0M108.2 256.1h0M100.6 250.6h0M93.5 247.4h0M102.8 252.9h0M120.2 241.1h0M97.2 255.1h0M84.7 255.7h0M101.4 251h0M117.7 251.4h0M93.2 248.2h0M111.7 255.2h0M106 255.9h0M115.4 254.8h0M103.1 254.4h0M85.1 226.1h0M124.4 245.5h0M116.2 250.2h0M101.8 251.7h0M102.8 253.3h0M112.4 252.8h0M111.4 253.1h0M107.3 256.6h0M84.4 222.7h0M118.7 251.8h0M124.5 216.3h0M113.7 249.2h0M135.5 210.5h0M99.2 248.6h0M89.2 224.7h0M121.9 238h0M112.7 251.1h0M116.7 243h0M96.9 256.3h0M102.4 252h0M118 239.4h0M104.7 255.5h0M115.9 252.8h0M88.8 246.4h0M113.6 252.8h0M123.8 241.3h0M109.2 255.7h0M107.3 256.6h0M88.8 248.5h0M110.9 253.7h0M119.6 241.4h0M78.4 238.8h0M109.2 256h0M99.3 248.9h0M106.7 256.4h0M108.3 256.4h0M86.3 226.7h0M92.1 224.8h0M96 241.4h0M102.4 252.5h0M91.2 247.8h0M121.6 249.2h0M112.6 253.8h0M117 247.7h0M90.4 233.8h0M104.5 254.5h0M94.7 248.6h0M106.3 256.5h0M120.9 252.6h0M110.8 253.9h0M97.1 242.1h0M97.2 252h0M105.2 255.8h0M129.7 248h0M114.9 254.9h0M114.3 251.4h0M97.3 243.8h0M85.9 248.5h0M118 243.1h0M107.6 256.6h0M121.1 254.1h0M95.8 253h0M103.8 254.5h0M104.2 256.5h0M91.4 227h0M116.9 247.5h0M96.8 239.9h0M96.6 243.6h0M91.6 229.5h0M109 255.4h0M108.6 255.8h0M104.5 255.2h0M115.3 249.9h0M89.7 245.8h0M109.5 255.3h0M107.3 256.6h0M111.1 254.5h0M104.1 256.1h0M104.8 254.7h0M97.4 251.9h0M110.8 253.9h0M116.7 244.9h0M112.9 253h0M105 255.9h0M109.2 255.5h0M104.2 255.7h0M120.5 232.1h0M107 256.5h0M110.7 254.1h0M121.3 251.5h0M93 238.7h0M108.3 256h0M112.3 254.1h0M112.6 252.3h0M101.9 251h0M119.9 243.7h0M103 254.4h0M99.1 245.7h0M91.5 235.4h0M82.3 245.5h0M94.1 247.9h0M123.3 252.8h0M81.7 233.3h0M106.8 256.4h0M86.6 247.4h0M100.2 249.5h0M117.9 249.2h0M113.6 250.1h0M76.5 196.9h0M110.7 254.7h0M98.2 255.7h0M106.2 256.2h0M87.2 242.5h0M126.5 237.6h0M118.7 239.6h0M98.5 255.2h0M84.3 236.6h0M111.1 255.7h0M85.5 241.9h0M100.3 252.5h0M118.5 244.8h0M106.8 256.4h0M98.6 245.9h0M128.1 226.9h0M105.4 255.6h0M98.9 246h0M130.1 233.2h0M90.6 226.6h0M120.3 240.5h0M106.6 256.2h0M111.3 254.8h0M78.3 211.4h0M108.2 256.2h0M98.8 247h0M101.5 250.1h0M89.3 242.7h0M130.6 251.1h0M117.9 245.5h0M133.4 235.4h0M109.3 255.5h0M131.6 248.7h0M112.4 253.9h0M127.4 236.6h0M120.6 241.5h0M106.3 256.1h0M99.5 253.2h0M113.1 252.9h0M99 248h0M108.5 256h0M96.3 252.5h0M114.8 249.1h0M131.2 241.5h0M135.6 219.5h0M101.1 250.6h0M118.7 244.5h0M118.7 250.5h0M117.5 245.4h0M91.6 238.4h0M104.7 254.6h0M124.8 240.6h0M108.2 256.3h0M108.3 256h0M131.3 236.1h0M122.2 234.8h0M123.5 221.9h0M106.8 256.4h0M113.8 250.2h0M106 256.4h0M103 253.7h0M130.7 227.5h0M103.2 254.3h0M103.6 254.9h0M116.3 251.7h0M94.7 235.7h0M119.3 249.5h0M130.9 219.5h0M96.5 255.5h0M92.2 234.2h0M121.9 230.1h0M119.6 256.5h0M105.8 255.7h0M92.7 250.3h0M107.3 256.6h0M108 256.3h0M130.6 222h0M105.5 255.8h0M118.3 240.4h0M105.7 256.4h0M104.5 254.9h0M132.9 254.7h0M114.4 254.5h0M103.3 253.7h0M124.7 243.2h0M101.6 256.6h0M104.2 254h0M99 249.4h0M104.4 254.7h0M127.8 230.1h0M76.9 245.3h0M105.4 256.4h0M99.2 251.5h0M123.7 244.3h0M106.1 256.4h0M107.7 256.5h0M105.5 255.4h0M104.1 253.9h0M91.5 248.4h0M97.8 244.3h0M105.3 256.2h0M86.9 255.2h0M107.9 256.3h0M101 254.1h0M91.3 229.9h0M92.2 254.4h0M100.4 250.2h0M113.9 248.9h0M103.7 253.9h0M137.3 212.6h0M120.2 246.5h0M124.7 247.8h0M109.2 256.1h0M105 255h0M112.9 253.9h0M90.4 251.5h0M120.1 246.2h0M90 241.2h0M106.5 256.1h0M123.9 239.9h0M103.2 256.4h0M113.3 254.5h0M114.3 247.6h0M87.8 254h0M128.8 246h0M114.5 247.9h0M106.3 256.2h0M84.5 208.8h0M109 255.8h0M122.1 233.6h0M123.8 236.9h0M111.3 254.5h0M97.7 245.1h0M130.2 247.6h0M109.6 255.6h0M120.4 231.9h0M86.9 238.3h0M107.9 256.4h0M107.3 256.6h0M103.6 253.5h0M103.9 255.5h0M94.9 252.8h0M105.4 255.8h0M121.1 231.6h0M115.4 253.3h0M113.8 256.1h0M111 255.4h0M128.2 238.4h0M127.1 236.8h0M96.7 241h0M101.2 255.1h0M117.1 251h0M119.3 239.7h0M105.2 255.6h0M111.3 253.9h0M109.2 255.3h0M88.1 215h0M114 249.9h0M115.6 245.9h0M103.2 253.6h0M114.5 250.4h0M91.2 229.1h0M118.8 252.8h0M99 247.9h0M78.9 211h0M104.7 256.4h0M104.4 254.4h0M110.9 253.7h0M121.5 249.1h0M113.2 253.6h0M128.9 249.5h0M100.9 255.8h0M111.1 254.5h0M116.6 242.5h0M109.6 255.6h0M129.7 228.8h0M92.7 236.2h0M78 218.1h0M85.6 237.2h0M113.7 252.2h0M98.2 247.4h0M118.7 244.7h0M91.1 227.8h0M123 225.5h0M93.3 249.5h0M103 255.2h0M104 254h0M116.8 249.3h0M87.9 242h0M138 209.7h0M125.9 235.8h0M115.6 250.5h0M138.9 175h0M113.1 254.5h0M106.8 256.5h0M94 242.3h0M124.9 248.7h0M115.9 254.6h0M107.1 256.5h0M96.6 241h0M95.8 250.4h0M92.8 231.4h0M109.5 255.9h0M112.6 253.7h0M103.7 253.8h0M106.7 256.4h0M127.3 248.7h0M92.8 227.1h0M114.9 249.8h0M121.4 255.7h0M95.7 248.5h0M116.2 254h0M108.1 256.5h0M84.7 193.4h0M114.4 253.2h0M110.6 253.8h0M95.6 246.8h0M105.4 255.8h0M96.4 251.6h0M111.6 252.9h0M115.6 247h0M108.9 256.6h0M123.1 246.6h0M109.9 255.3h0M98.3 251.2h0M103.8 255.8h0M109.8 254.8h0M120.4 234.9h0M92.1 232.5h0M112.6 255.3h0M115.7 249.7h0M83.8 224h0M97.5 249.5h0M99.7 254.6h0M102.5 256.3h0M131.6 190.4h0M111.2 255.8h0M115.5 250.5h0M97 245.2h0M111.2 253.6h0M112.7 255.8h0M96.8 245.2h0M105.6 256.1h0M85.7 237.8h0M119.4 237.3h0M89.5 219.2h0M132.8 234.6h0M82.6 230h0M115.3 249.2h0M103 255.1h0M113 255h0M84.5 232.1h0M99.1 251.9h0M95.2 238h0M113.9 248.4h0M84.8 249.1h0M119 244.5h0M106.2 256.2h0M130.6 252.6h0M111.8 252.9h0M84.3 233.5h0M119.1 241.1h0M86.7 254.7h0M108.8 256.2h0M105.2 255.3h0M128.2 247.1h0M84.1 243.3h0M134.9 234.1h0M128.1 246.3h0M108 256.4h0M130.5 235.3h0M103.5 253.7h0M124.5 244.5h0M95.4 250.6h0M116 253h0M93.6 235.6h0M91.9 243.9h0M92.6 242.8h0M104.2 254h0M109.6 255.3h0M100.7 253.2h0M91.8 236.8h0M119.1 249.7h0M85.1 246.7h0M116.6 243.3h0M104.4 254.7h0M91.1 225.8h0M100.6 248.9h0M116.5 243.5h0M79.1 250.6h0M124.3 244.6h0M95.7 255.4h0M113.9 252.3h0M121.9 227.7h0M112.5 251.2h0M104.5 256.2h0M107.4 256.5h0M122.8 235.6h0M124.1 245.2h0M88.2 254h0M97.8 243.7h0M96.6 240.8h0M113.6 255.1h0M108.7 256.4h0M109.2 256.6h0M126.4 222.5h0M129.4 212.1h0M102.5 255.8h0M94.8 236.3h0M104.9 255.2h0M115 252.1h0M98.3 251.7h0M105.3 255.2h0M107.9 256.5h0M114.8 250.7h0M102.1 254h0M98.7 254.9h0M108.4 256h0M108 256.3h0M98.6 249.2h0M99.7 254.8h0M111.5 255h0M113.6 254.7h0M112.3 252.3h0M122.7 228.6h0M98.4 254.6h0M110.3 255.2h0M114.7 247.5h0M111.6 252.8h0M107.4 256.5h0M117 245.4h0M93.4 229.2h0M110.3 254.1h0M108 256.6h0M111.5 253.8h0M116.9 246h0M104.7 255.8h0M106.4 256.3h0M118.2 241.6h0M85.4 232.7h0M124.4 249.3h0M99.8 249.9h0M85.6 237.2h0M96.9 243h0M92 227.5h0M113.4 249.5h0M99.6 247.5h0M92 246.8h0M114.3 256.2h0M87.1 239.8h0M109.3 256.3h0M95 239.7h0M105.7 256.1h0M119.7 243.7h0M98 250h0M104.3 254.3h0M113.3 254.9h0M115.9 249.5h0M123 245.7h0M98.2 252.3h0M93 246.4h0M100.1 247.8h0M97.7 249.4h0M100.2 255.9h0M125.8 255.5h0M102.1 251.7h0M89.9 245.3h0M116.6 245.4h0M94 235.8h0M110 254.9h0M114 253h0M109 256h0M113.9 252.7h0M90.3 242.1h0M109.5 256.5h0M102.8 254.3h0M116.6 243.7h0M95.9 245.6h0M121.6 228.1h0M111.7 253.2h0M83.3 254.4h0M116.4 253.7h0M106 255.7h0M85.9 207.8h0M109.7 254.8h0M112.3 255.5h0M102.8 253.8h0M100.3 254.5h0M82 253.7h0M100.4 254.8h0M113.5 249.4h0M117.8 243h0M113.5 253.5h0M126.9 242.6h0M113.3 250.5h0M126.2 238.4h0M111.8 255.7h0M122.8 249.1h0M116.3 243.5h0M122.9 232.3h0M129.7 250.1h0M79.9 225.7h0M113 252.4h0M102.2 255h0M98.2 246h0M118 245.8h0M96 256.4h0M114.4 252.6h0M113.5 252h0M87.6 247.4h0M125.3 231.1h0M107 256.5h0M94.8 234.7h0M114.4 252.3h0M113.1 254.6h0M122.3 256.1h0M108.4 256.4h0M95.9 253.2h0M109.2 255.9h0M99.6 249.4h0M101.7 256.1h0M88.6 218.6h0M85.5 248.2h0M116.1 248.2h0M86.3 247.1h0M96.7 250.5h0M120.5 256.1h0M115 252.5h0M130.1 211.3h0M128.9 235.9h0M107.6 256.4h0M125.4 244.3h0M109.9 255.9h0M106.5 256.1h0M108 256.3h0M96 238.4h0M92.3 240.5h0M99 252.7h0M126.1 233.3h0M100.5 252.5h0M95.8 239.5h0M122.3 247.8h0M108.9 256.3h0M100.5 248.5h0M105.4 255.6h0M114.1 255.5h0M117.2 246.3h0M107.8 256.5h0M99.8 248.7h0M109.2 255.9h0M114.1 249.3h0M95.2 255.3h0M126.2 209.2h0M102.8 253.8h0M117.4 242.5h0M104.1 254.1h0M94 247.2h0M125.8 239.1h0M106.7 256.5h0M96 252.5h0M118 248.7h0M93.1 236.1h0M114.1 251.2h0M102.6 253.9h0M94.7 247.7h0M118.6 243.1h0M94.9 253.5h0M108.7 256.1h0M88.8 231.8h0M110.3 254.7h0M123.1 230.7h0M112.3 254.4h0M104.6 255.1h0M94 236.8h0M130 197.5h0M107.7 256.4h0M96.9 242.7h0M109.5 255.8h0M90.5 251.1h0M94.2 246.8h0M126.7 223.5h0M127.9 231.5h0M108.6 256h0M94.9 234.9h0M99 245.7h0M92.4 244.2h0M120.8 245.8h0M118.1 249.2h0M102.9 253.4h0M115 246.3h0M116.7 252.7h0M114.2 250.6h0M100.4 248.9h0M94.3 245.5h0M117.1 254.8h0M109.1 255.7h0M113.2 255.9h0M106.9 256.4h0M86 233.7h0M126.2 250.8h0M122.3 249.7h0M115.1 253.9h0M100.8 254.1h0M126.4 241.9h0M114.8 247.1h0M137.8 218.6h0M122.7 255.3h0M111.4 254.5h0M112.2 252.2h0M108 256.3h0M105.5 256.3h0M82.8 224.3h0M118 239.8h0M118.4 242.1h0M106 256.3h0M108.9 256.3h0M108.9 255.7h0M113.9 252h0M132.8 244.8h0M97.8 250.1h0M105.7 255.6h0M100.2 250.8h0M96.9 244.1h0M75.7 237h0M93.1 253.1h0M105.2 255.7h0M107.5 256.5h0M113.1 251.8h0M103.9 256.1h0M93.4 254.3h0M104.2 254.7h0M113.8 249h0M123.6 232.2h0M107.3 256.6h0M92.4 234.3h0M91.5 242.3h0M97.9 245.4h0M95 245.7h0M112.1 252h0M97.5 244.7h0M93.8 256.2h0M96.6 242.9h0M119.8 238.6h0M93.1 248h0M126.8 236.5h0M101.3 252.3h0M91.5 249.8h0M108.8 255.6h0M116.9 249.4h0M108.9 256.3h0M117.5 242.9h0M135.9 253.3h0M130.6 230h0M121.8 256.3h0M105.9 255.9h0M114.4 248.2h0M100.7 249.5h0M123.5 246.5h0M100.1 253h0M103.7 256.4h0M118.6 243.7h0M118.7 248.9h0M124.8 242.1h0M105 256h0M112.9 254.7h0M120.2 242.5h0M104.9 256.2h0M115.6 252.5h0M98.5 245.8h0M90.1 249h0M120 244.6h0M107.2 256.6h0M131.4 255.5h0M125.5 249.5h0M103 255h0M109.6 255h0M106.9 256.6h0M128.8 245.4h0M121.9 247h0M107.3 256.6h0M103.5 254.7h0M121.9 241.7h0M115.5 245.8h0M87.8 235.6h0M105.9 255.9h0M82.4 212.3h0M116.3 244.5h0M115.9 248.4h0M111.6 253h0M109.4 256.3h0M96.1 246.6h0M121.3 232.3h0M97.9 246.8h0M130.5 206.6h0M100.3 253.7h0M96 250.9h0M103.6 253.5h0M83.5 229.9h0M95.1 250.3h0M108.4 255.9h0M122.5 254.5h0M102.5 253.6h0M112.2 255h0M107.1 256.5h0M100.7 253.4h0M89.3 250.1h0M103.4 253.6h0M110.3 254.9h0M99.8 248.2h0M106.6 256.5h0M122.4 254h0M122 250.6h0M113.2 251h0M122.8 251.1h0M104.2 255.7h0M93.3 256h0M102 251.2h0M91.2 240.9h0M123.4 254.8h0M120.3 248h0M124 244.3h0M132.6 242.6h0M89.5 248h0M103.4 253h0M111 253.2h0M97.7 248.5h0M119.9 233.2h0M95.3 238.3h0M119.9 253.2h0M129.5 253h0M111.8 252.8h0M129.9 219.9h0M112.9 252.7h0M115.2 247.5h0M106.8 256.4h0M95.3 241.5h0M122.3 228.2h0M128.7 247.7h0M107.2 256.6h0M82.7 248.1h0M96 245.5h0M109.1 255.9h0M104.9 255.4h0M105.7 255.8h0M79.1 242.3h0M114.7 252h0M128.9 256h0M98.2 250.6h0M99.3 248.6h0M106 256.4h0M102.1 251.2h0M129.6 231.5h0M106.6 256.3h0M121.5 245.5h0M104.3 255.1h0M123.9 248h0M98.4 252.8h0M115.8 250.9h0M88.9 212.4h0M102.9 253.1h0M107.6 256.5h0M106.1 256h0M114.7 250.8h0M99.2 251.5h0M107.2 256.5h0M107 256.4h0M94.6 252.1h0M88.8 211.6h0M88.6 227h0M107.6 256.4h0M118.7 243.8h0M113.8 253.6h0M108 256.2h0M128.1 237h0M83.8 253.2h0M93.1 231.7h0M138.6 235.8h0M115.7 248.5h0M102.8 252.5h0M105.2 256.2h0M112.7 251.8h0M120.7 247.8h0M126 239.3h0M103.5 255.1h0M103.7 255.6h0M101.8 254.2h0M107.3 256.6h0M99.8 255.6h0M109.1 256.2h0M106.1 256.1h0M116.2 253.2h0M130.6 234.6h0M113.5 249.3h0M113.8 251.7h0M124.4 245.5h0M107.2 256.6h0M88.5 247.4h0M123.9 230h0M109.1 255.9h0M97.4 254.4h0M122.2 251.1h0M106.6 256.6h0M118.4 238.1h0M120.7 245.5h0M96 248.9h0M85.5 226.3h0M121.2 243.8h0M95.7 252.8h0M125 235.8h0M108.4 256.1h0M111.7 254h0M124.7 235.7h0M107.1 256.5h0M102.5 254.7h0M101.3 250h0M112.6 254.1h0M91.2 231.2h0M124.7 225.4h0M84.2 251.6h0M118.7 248.5h0M115.3 248.3h0M110.3 255h0M91.5 251.6h0M116 244.1h0M97.1 240.2h0M123.2 235.5h0M113 251.5h0M99.5 250.9h0M87.8 223.3h0M130.1 239.4h0M133.5 234.5h0M112.9 252.6h0M98.5 252.7h0M114.9 247.7h0M104 254.3h0M81.8 192.1h0M93.2 249.6h0M109.5 255.9h0M114 250.2h0M107 256.6h0M100.2 253.9h0M126.9 217.9h0M133.1 229.4h0M106.6 256.3h0M96.4 248.8h0M99.7 247.1h0M88.7 235.9h0M78.7 221.5h0M123.5 249.1h0M107.4 256.6h0M91 229.4h0M112.1 253.5h0M103.5 253.9h0M94.1 252.3h0M118.3 239.8h0M110.5 255.5h0M98.3 252.5h0M119.1 249.6h0M104.6 256h0M126.7 256h0M109.1 255.4h0M112.2 254.4h0M114.6 248.7h0M121.2 255h0M120.4 244.7h0M137.3 238.5h0M116.4 243.6h0M134.4 206.5h0M113.8 256.2h0M95.8 240.3h0M131 215.8h0M105 255.3h0M117 249.9h0M107.8 256.3h0M108.3 256.4h0M88.1 220.5h0M89 244h0M117.4 251h0M101.6 256.3h0M104.2 254.4h0M117.6 254.7h0M103.1 254.3h0M100 249.1h0M94.6 249.4h0M97.3 254h0M92.8 253.5h0M93.9 243.9h0M105.2 255.3h0M83 200.1h0M108.3 256.3h0M116.8 251.7h0M82.5 255.3h0M107.1 256.5h0M107.1 256.5h0M108.9 256.1h0M116.7 242.9h0M76 235.4h0M116.6 252.5h0M110.7 255.7h0M118.1 247.4h0M110.8 254.5h0M129 255.6h0M109.4 255.1h0M135.1 223.1h0M127.9 255.6h0M101.3 255.4h0M86.7 244.4h0M92 252.4h0M129.9 214.2h0M76.7 221.7h0M93.4 251.6h0M102.9 253.6h0M121 254.7h0M107 256.6h0M125.3 217.7h0M101.5 251h0M113.1 255.1h0M87.4 236.2h0M101.2 251.2h0M126.8 244.9h0M100.7 252.9h0M114.1 252.7h0M90.4 229.8h0M94.7 244.1h0M89.2 227.8h0M93.7 247.1h0M116.7 248.1h0M112.2 252.7h0M114.8 255.9h0M83.4 242.1h0M116.3 247.5h0M112.9 254h0M107.5 256.6h0M87.7 244.3h0M99.8 256.2h0M110.9 255h0M94.6 251.2h0M104.4 255.7h0M113 253.3h0M110.6 254.9h0M103.9 256.1h0M88 240.7h0M114.8 247.3h0M98.5 245.4h0M110.4 255.5h0M96.4 254.6h0M118.3 249.1h0M122.6 239.9h0M77.7 227.7h0M117.4 245.6h0M135.2 231.9h0M86 228h0M108.7 256.2h0M113.3 256h0M114.2 250.8h0M123.9 254.1h0M120.7 234.6h0M93.3 234h0M120.3 236.2h0M94.7 239.3h0M127.9 227.9h0M122 251.4h0M89.7 243.9h0M105.3 255.4h0M104.4 255.7h0M86.7 248h0M100.8 254.8h0M81.6 252h0M91 248.4h0M96.7 240.6h0M110.7 255.5h0M120.3 233.6h0M104.2 254.4h0M91.4 238h0M90.5 251h0M110.6 254.3h0M96.1 245.4h0M124.5 249h0M117.7 245.8h0M123.5 237.3h0M94 252h0M101.8 250.7h0M124.9 239.9h0M110 255.5h0M98.1 248.4h0M117.3 243h0M88.2 255.4h0M105.5 255.7h0M106.1 256.4h0M99.8 252.8h0M105.3 256.1h0M113.1 252.7h0M138.6 239h0M117.4 255.9h0M109.3 255.2h0M88.2 251.9h0M134.3 244.1h0M99.8 246.9h0M123.6 250.9h0M116 254.2h0M95.8 248.3h0M98.9 255.1h0M125.7 242.1h0M124.3 242.5h0M90.5 248.3h0M111.9 252.3h0M132.8 187.7h0M122.6 241.9h0M95.1 251.6h0M101.8 255.1h0M108.8 256h0M118 244.3h0M103.8 255.4h0M108.8 256.1h0M78.8 162.1h0M110.8 255.9h0M114.4 254.9h0M94.9 255h0M110.1 254.7h0M103.3 253.4h0M120.5 233.4h0M109.9 255.9h0M122.4 238.2h0M101.2 250.3h0M92.5 248.1h0M120.8 231.3h0M114.6 251h0M121.3 246.5h0M118.1 241h0M97.1 240.4h0M87.5 255.1h0M94.9 236.4h0M107.3 256.6h0M83 198.1h0M81.8 250.6h0M97.9 246.6h0M103.3 254.1h0M110.7 253.7h0M102.3 254.4h0M89.8 238.7h0M104.3 255.4h0M124 246.5h0M120.4 245.3h0M102.9 252.5h0M106 255.8h0M95.2 256.5h0M89 238.8h0M102.3 253.5h0M113.6 255.7h0M123.1 246.6h0M97.9 245.3h0M108.8 255.9h0M101.5 250.1h0M107 256.5h0M100.7 252.5h0M130.4 245.7h0M119.6 235.4h0M114.4 252.1h0M88.4 249.6h0M107.9 256.5h0M89.1 234.9h0M121.9 253.9h0M104.5 255.4h0M102.4 254.9h0M111.7 255.5h0M107.7 256.5h0M116 256.1h0M102.6 252.7h0M131.7 198.9h0M95.4 241.8h0M121.2 243h0M121 253.8h0M115.9 255.9h0M85.9 250.3h0M124.5 236.1h0M137.2 206.4h0M118.8 248.3h0M107.9 256.4h0M104 254.8h0M113.5 254.2h0M98.9 252.3h0M103.1 254.1h0M103.7 256.4h0M100.7 249.6h0M114.2 252.3h0M117.3 247.3h0M110.7 255.4h0M109.3 255.7h0M116.1 243.7h0M89.3 253.5h0M101.2 251.2h0M111.8 255.5h0M88.8 235.4h0M111.4 253.6h0M103.6 255.4h0M93.8 252.7h0M113.9 253.1h0M124.2 229.9h0M105.2 255.3h0M102.4 253.7h0M117.6 241.8h0M91.6 247.3h0M112.7 256.6h0M110.2 255.2h0M111 256.2h0M117.5 248.4h0M105.7 255.6h0M95.8 256.5h0M86.2 223.8h0M121.6 240.7h0M104.1 255.9h0M136 256.4h0M89.8 251.4h0M110.6 254.6h0M80.1 249.3h0M96.2 249.4h0M117.2 245.3h0M108.9 256h0M118.2 240.6h0M115.1 250.7h0M111.7 253.9h0M114.5 251.4h0M94.1 236.9h0M103 253.8h0M96.3 253.8h0M93.8 244.1h0M111 253.7h0M99.4 250.9h0M103.7 253.6h0M91.2 236.2h0M86.2 250h0M125 247h0M114.9 252.3h0M88.1 210h0M112.8 255.5h0M92.8 252.8h0M137.7 199.6h0M100.2 252.8h0M103.8 253.8h0M96.9 248.6h0M122.8 252.7h0M98 247.6h0M97.1 242.6h0M131.9 256.6h0M109.9 255.8h0M118.8 253.5h0M95 246.4h0M109.9 255.1h0M98 244.9h0M97.7 244.5h0M128.1 246.5h0M98.6 249.9h0M107.3 256.6h0M100.1 250.4h0M117 244.9h0M111.2 253.3h0M111.7 253h0M100.5 254.6h0M112.1 253.6h0M102.1 254.4h0M109.4 255.4h0M103.1 255.8h0M116.2 256.6h0M119.9 241.8h0M118.4 253.6h0M120.1 232.6h0M124 242.5h0M94 251h0M112.8 255.9h0M101.5 252.9h0M109.1 256.6h0M113.7 249.9h0M108.9 255.8h0M122.8 235.7h0M120.6 252h0M125.4 249.6h0M97.1 249.6h0M99.8 250.7h0M109.2 255.6h0M92.8 245.4h0M93.9 246.2h0M132.1 245h0M95.5 255h0M83.6 253.4h0M107.8 256.5h0M80.2 252h0M85.2 215.2h0M120.3 238.5h0M109.7 255.9h0M108.4 256.1h0M91.1 239.5h0M87.1 245.1h0M130 231.3h0M107.2 256.6h0M133.9 254.9h0M117.7 251.1h0M122.9 225.3h0M110.1 255h0M103.3 254.9h0M118.5 252.2h0M109 255.5h0M117.5 245.8h0M95.4 248.4h0M95.9 250.1h0M107.2 256.6h0M103 253.6h0M108.8 256h0M111.3 252.9h0M96.6 251h0M108.3 256.2h0M132.1 248.2h0M106.8 256.5h0M112.9 254.5h0M90 227.8h0M113 251.8h0M111.9 256.2h0M101.4 250.1h0M85.5 212.3h0M121.6 243.2h0M104.8 254.6h0M121.1 255.8h0M84.2 215.3h0M127.8 204.4h0M105.6 256h0M91.5 225.8h0M125.7 251.8h0M114 252.3h0M107.2 256.6h0M113.8 256h0M97.8 250.2h0M112.8 252.2h0M87.9 220.2h0M116.4 245.2h0M119.8 250.2h0M109.2 256.1h0M103 253.2h0M113.8 252.3h0M96.4 242.1h0M95.1 234.7h0M93.1 241.1h0M114.4 250.3h0M116.1 244.6h0M88.3 217.4h0M82.2 250.8h0M109.2 255.3h0M125.1 252.3h0M103 252.6h0M115.7 246.7h0M121.6 251.8h0M101.9 250.9h0M96.6 253.4h0M99.3 247.8h0M128.6 255.7h0M109.7 255.8h0M104.2 254.8h0M100.6 252.3h0M110.5 255.8h0M116.2 244.3h0M109 255.4h0M90.8 234.6h0M105.3 255.8h0M94.8 235.3h0M106.7 256.6h0M107.7 256.5h0M91.2 244.6h0M115.7 246.3h0M133.1 230.6h0M101.6 251.1h0M99 246.5h0M88 234.4h0M120.9 250.6h0M105.8 256.1h0M96.2 240.2h0M92 249.3h0M121 232.1h0M89.6 239.6h0M87 256.1h0M94.2 240.9h0M118 252.6h0M105.2 256.3h0M96.5 251.2h0M114.5 253.8h0M120.1 247.1h0M91.2 245.9h0M95 253.7h0M90.2 234.6h0M115.3 251.1h0M130.1 243.8h0M97.1 245.2h0M114.4 254.1h0M123.9 233.9h0M81.1 222h0M130.8 227.5h0M106.2 256h0M92 256h0M126.3 246.5h0M111.2 254.4h0M112.9 250.6h0M98.8 248h0M108.2 256.2h0M94.7 252.7h0M106.5 256.2h0M118.2 250.6h0M103.7 253.6h0M102.8 253.3h0M100 255.9h0M105.7 255.9h0M109.9 256.2h0M102.8 254.2h0M108.1 256.3h0M103.3 255.1h0M107.5 256.5h0M118.6 242.2h0M105.9 256.5h0M96.4 248.8h0M79.7 214.6h0M125 250h0M98.9 254.9h0M81.5 256.1h0M109.2 255.3h0M92.1 253.7h0M103.2 254.2h0M101.9 254.8h0M101.5 253.8h0M105.8 256.1h0M120.1 235.2h0M92.9 249.8h0M137.6 198.6h0M106.2 256.4h0M111.5 252.9h0M102.5 252.3h0M89.6 226.2h0M107.2 256.6h0M117.2 250h0M94.1 246.5h0M110.6 254h0M84.5 255.8h0M103.8 254.2h0M106.1 255.9h0M103.8 253.4h0M98.3 247.7h0M99.8 255.3h0M104.9 255.2h0M120 233.9h0M106.2 256.5h0M112.6 253.3h0M100.6 248.7h0M112.3 252.7h0M98.3 249.5h0M123.7 249.2h0M117 249h0M120.2 248.6h0M120.1 243.3h0M104.9 254.9h0M98.2 249.6h0M95.5 236.6h0M94.8 238.5h0M101.2 256.2h0M109 255.8h0M117.5 250.3h0M105.5 256.5h0M117.5 249.4h0M112.4 252.2h0M115.7 246.4h0M92.5 243.9h0M84.8 241.8h0M95.8 255.3h0M118.4 252.5h0M117 243.3h0M128.7 234.6h0M101.5 251.5h0M113.5 253.2h0M123 242.6h0M120.5 250.1h0M101.4 253.3h0M119.6 241.7h0M96.3 249.9h0M102.7 254.3h0M109.1 255.6h0M123.1 256.5h0M115 246.3h0M118.2 240.7h0M102.7 255.5h0M105.3 255.7h0M120.3 248.3h0M120.9 249.1h0M109.2 256.5h0M109.6 255.4h0M123.3 231.7h0M108.7 255.8h0M126.4 232.8h0M100.1 248.8h0M94.7 237.7h0M112.4 254h0M114 255.1h0M117.4 250.4h0M120.7 251.6h0M106.8 256.4h0M81.6 229.1h0M103 254.5h0M115.1 248.5h0M114.5 254.7h0M124.6 243.5h0M89.3 256.5h0M122.5 239.4h0M107.6 256.5h0M114.5 249.3h0M117 254.7h0M106.6 256.3h0M113.8 251.5h0M112.7 254.9h0M121.1 255.6h0M111.2 255.7h0M99.7 255.1h0M97.4 247.3h0M114.6 250.5h0M109.8 256.2h0M111.9 253.9h0M89.9 229h0M96.6 247.6h0M129.8 208.6h0M95.3 241.5h0M107.4 256.6h0M95.4 242.1h0M114.9 253.1h0M104.9 255.5h0M107.5 256.6h0M122.1 242h0M96 256.5h0M87.7 211.2h0M115.1 255.7h0M96.6 240.6h0M117.3 245.4h0M119.5 253.1h0M94.1 249.6h0M110.1 255.9h0M87.3 207.2h0M98.1 247h0M116.4 243.2h0M133.1 246.5h0M127.5 239.7h0M116.6 253.7h0M87.5 236.5h0M123.1 251.6h0M114 253.2h0M85.5 241.8h0M109.9 255h0M129.5 254.1h0M104.8 255.4h0M98.9 252.2h0M98 246.2h0M88.9 232.9h0M81.8 247.4h0M115.2 250.7h0M106.9 256.4h0M98.6 250h0M100.7 256.6h0M89.7 243.2h0M119.1 237.3h0M83.5 199.6h0M135.7 243.7h0M96.5 253.4h0M118.2 243.7h0M132.2 254.3h0M123.8 238h0M130 255.4h0M117.5 250.3h0M103 253.9h0M105.6 255.6h0M98.8 249.6h0M105.8 255.7h0M85.5 232h0M112.1 252.5h0M100.5 248.3h0M119.7 247.1h0M100.7 253.5h0M111.6 253.6h0M125.8 217.4h0M88.8 235h0M104.1 255.1h0M99.3 249.8h0M121.3 234.2h0M86.5 227.8h0M94.4 247.6h0M100 254h0M112.7 253.5h0M92.8 243h0M94.9 238.7h0M100.7 252.9h0M126.7 255.4h0M110.5 255.3h0M105.4 256.1h0M111.1 253.9h0M124 255h0M77.9 242.1h0M100.7 251.9h0M102.1 252.2h0M96.5 242.7h0M119.1 246.2h0M100.7 251.3h0M97.7 246h0M101.8 253.1h0M115 254.5h0M111.9 252.6h0M116.1 252.2h0M123.8 236.5h0M88.6 235.5h0M115.9 250.5h0M117.8 241.8h0M96.3 255h0M104.7 254.9h0M92.7 240.7h0M111.4 252.9h0M86.6 244.4h0M108.9 256.3h0M125.1 252.5h0M125.3 233.1h0M125.5 246.6h0M92.3 252.5h0M124 225.1h0M118.8 245.2h0M122.7 256.3h0M88.9 238.9h0M110.1 255h0M98.5 245.9h0M132.8 242h0M123.2 231.3h0M111.4 253.2h0M130.8 238.7h0M113.6 252.4h0M99.7 255.3h0M116.7 252.9h0M120.7 231.6h0M96.5 245.9h0M106.1 256.1h0M119.4 254.3h0M100.9 252.3h0M106.5 256.1h0M113 251h0M119.9 234.6h0M117.9 256.2h0M124.4 252.5h0M101.6 256.5h0M104.9 256.2h0M108.2 256.1h0M113.3 253.7h0M116.3 250.4h0M117.1 245.1h0M108.3 256.5h0M102.6 254.6h0M131.1 238.7h0M123.4 247.5h0M112 252h0M115 255.5h0M105.2 255.2h0M105.6 256h0M119.7 245.4h0M101 254.4h0M98.4 256.5h0M83.4 219.2h0M118 249.1h0M101.2 249.9h0M112 252.2h0M95.9 247.5h0M125.3 223h0M107.9 256.3h0M130 240.1h0M123.3 240.5h0M117.8 246.1h0M93.6 232h0M104.6 254.9h0M111 253.8h0M110.3 254.9h0M103.6 254.8h0M114.7 252.4h0M94.3 239.1h0M116.1 250.8h0M116 253.8h0M83.6 247h0M127.2 237.3h0M94 247.2h0M120.7 231.6h0M92.3 228.5h0M107.4 256.6h0M103.4 254.4h0M109.8 255.1h0M102.9 254.7h0M115.7 245.4h0M95.9 237.3h0M103.9 255.6h0M107.6 256.5h0M80.5 205.4h0M120.1 249.3h0M97 254.7h0M92.8 236h0M98.2 253.1h0M124.3 244.7h0M103 254h0M85.5 246.6h0M126.1 247.9h0M124.3 232.8h0M94.5 239.3h0M101.5 253.3h0M117.2 248h0M123.7 240.2h0M109.3 256.4h0M111.7 255.3h0M98.3 247h0M106.7 256.5h0M86.1 225.6h0M81.7 228.4h0M118.6 255h0M109.9 256.1h0M120.6 245.6h0M118.5 246.3h0M96.8 239.7h0M110.2 255.9h0M118.8 239.3h0M126.5 223h0M113.7 250.8h0M83.2 240.6h0M89.7 240.9h0M126.3 209.9h0M103.2 254.8h0M95.7 240.2h0M108.6 255.8h0M114.8 253.1h0M120.3 247h0M111.9 253.3h0M104.7 254.8h0M107.8 256.6h0M113.2 249.9h0M81.7 251.3h0M106 255.9h0M106.3 256.4h0M121.7 227h0M95.9 248.7h0M110.3 255.4h0M94.8 239.6h0M101.3 252h0M123.2 231h0M83.3 250.7h0M104.4 254.5h0M114.1 250h0M123.1 251.4h0M124.4 216.6h0M98.3 245h0M114.8 251.3h0M104.5 254.9h0M104.1 253.9h0M130.4 189.9h0M114.4 251.4h0M102.2 251.8h0M122.1 253.1h0M121.3 251.8h0M121.3 240.1h0M121.5 241.9h0M111.4 254h0M111.1 255.7h0M111.6 254.1h0M116.5 247.6h0M89.7 252.8h0M122.3 255.8h0M97.8 249.5h0M110 254.6h0M113.4 252.3h0M111.1 253.2h0M106.5 256.2h0M114.4 252.8h0M84.9 250.2h0M133 226.9h0M94.9 234.8h0M117.9 244h0M129.9 239.4h0M110.8 256.4h0M106.6 256.3h0M127.9 206.6h0M114.6 250.4h0M113.8 252h0M95.6 252.1h0M105.5 255.8h0M117.1 252.4h0M114.8 250.5h0M121.2 240.8h0M111.9 254.6h0M99.5 249.9h0M121.6 255.3h0M87.8 251.8h0M111.4 256.1h0M118.5 247.6h0M116.4 244.4h0M92.5 250.3h0M103.9 254.9h0M82.6 236.8h0M101.1 251.1h0M90.9 235.2h0M86.9 229.5h0M90.8 250.4h0M106.9 256.4h0M105.8 256.3h0M96.8 245.4h0M111.9 253h0M116.9 253h0M104.1 254.1h0M91 246.2h0M119.7 234.5h0M123.5 241.6h0M101.5 252.8h0M106.3 256.4h0M134.2 184.5h0M92 241.6h0M119.1 255.1h0M116.5 251.4h0M97.6 242.4h0M89.4 243.1h0M98.2 244.3h0M112.3 252.4h0M104.4 254.5h0M117.8 251.4h0M113.2 251h0M129.4 232.9h0M119.4 247.5h0M119.3 240.1h0M131 213.1h0M94.3 233.7h0M108.2 256.1h0M111.8 253.5h0M125.5 248.8h0M91.5 227h0M116.3 253.2h0M84.1 224.2h0M109.8 255.8h0M112.6 251.4h0M100.1 255.6h0M100.5 251.9h0M105.5 255.8h0M85.5 226.5h0M126.2 240.9h0M106.8 256.6h0M81.9 229.7h0M98.4 252.1h0M132.3 248.3h0M127.9 238h0M95.1 247.3h0M120.2 254.5h0M89.3 245.2h0M87.6 256.5h0M103 254.5h0M97.5 250.9h0M112.6 252.9h0M114.5 249.3h0M124.3 249.4h0M92.3 241.7h0M112.7 252h0M116.7 252.9h0M108.7 256.5h0M104.2 254.8h0M117.6 246.4h0M121.8 234.5h0M136.7 252.8h0M130.4 252.1h0M109.5 255h0M94.2 255.2h0M94.1 242.5h0M108.6 255.8h0M115.8 245.7h0M113.2 253h0M121.3 247.9h0M105.9 256.3h0M104.4 254.8h0M95.7 250.3h0M88.4 231.6h0M112.2 253.4h0M95.1 245.8h0M101.3 251h0M97.6 256.3h0M109 256h0M104.9 255h0M97.7 253h0M118 246.1h0M110.3 254.2h0M97.9 243.9h0M90.9 248.5h0M108.8 256h0M117.9 255.2h0M99.9 248h0M124.2 232.7h0M137.7 204.3h0M112.3 255.2h0M99.5 250.9h0M132.1 249h0M118.9 244.1h0M120.3 252.7h0M104.6 255.9h0M95.8 254.1h0M118.2 238.2h0M113.5 251.4h0M91.2 224.1h0M89.8 242.7h0M117.1 252.4h0M104.1 256.2h0M131.5 231.6h0M104 256.1h0M111.3 255.4h0M99.3 250.7h0M105 255.2h0M112 253.1h0M126.5 240.5h0M94 237.6h0M92.1 250.7h0M116 253.7h0M109.1 256.1h0M100.6 250.9h0M99.2 254.9h0M112.6 255.5h0M117.2 250.7h0M109 255.8h0M100.2 250.2h0M83.2 256.3h0M102.5 252.6h0M112.6 253.1h0M118 251.1h0M105.2 255.8h0M102.5 256.3h0M93.7 249h0M124.3 256.4h0M105.9 256.2h0M105 255.8h0M100.9 249.8h0M97 246.5h0M121.5 256.3h0M100.6 253.8h0M90.2 243.3h0M95.9 241.8h0M110.2 254.9h0M91.4 244.1h0M104.6 254.7h0M111.3 255.3h0M111.1 254.8h0M86.5 234h0M118.1 243.8h0M110 254.9h0M88.9 228.1h0M111.4 253.2h0M109.2 255.4h0M122.2 255.2h0M113.8 251h0M102.3 252.9h0M103.3 254.3h0M114.6 255.5h0M110.4 254.4h0M122.3 248.2h0M85.2 255.9h0M102.7 252.1h0M125.5 250.1h0M103.3 253h0M105 255.7h0M106.1 256.4h0M98.3 247.5h0M109 255.5h0M104 254.8h0M116.6 254h0M108.5 256.1h0M105.6 256.3h0M99.8 253.6h0M128.6 234.8h0M111 254.9h0M113.5 249.5h0M109.5 255.6h0M105.6 256.4h0M101 253.1h0M89.9 222.7h0M105.1 255.2h0M101.8 251h0M126.4 224.3h0M126.6 248.6h0M138.8 253.6h0M112 253.6h0M94.9 255.6h0M96.5 250.9h0M124.8 237.9h0M103.1 252.7h0M116.3 245.9h0M104.4 255.6h0M120.2 245.4h0M83.5 236.6h0M114.7 247.6h0M98.6 248.6h0M119.5 244.5h0M77.4 203.7h0M109.9 254.7h0M96.9 244.2h0M106.5 256.2h0M102.2 252h0M99.9 251.8h0M116.5 250.4h0M117.5 245.2h0M135.9 245.8h0M101.5 253.3h0M111.7 252.3h0M127.3 222.6h0M100.6 251.7h0M87.2 204.4h0M78.7 218.3h0M129 200.1h0M107.3 256.6h0M92 248.5h0M127.5 208.1h0M97.3 249.4h0M95.8 240.7h0M108.7 255.8h0M104.5 255.9h0M114.3 250.5h0M99.4 252.5h0M132.9 237.5h0M117.4 251.2h0M115.9 255.5h0M84.2 223h0M115.1 248.1h0M93.6 245.5h0M115.6 248.4h0M133.4 242.9h0M99.4 249.9h0M106.4 256.3h0M134.4 211.2h0M115.2 246.2h0M95.5 236.1h0M123.9 252.8h0M101.6 251.6h0M121.1 233.6h0M107.5 256.6h0M123.9 229.1h0M115.9 247h0M130.1 243.3h0M121.7 247.9h0M125.7 210.6h0M100 248.4h0M113.3 250.2h0M115 249.1h0M97.2 254.6h0M99.1 248.1h0M116.9 246.8h0M119.7 248.7h0M125.5 241h0M91.6 226.5h0M108.5 256.1h0M104.4 254.4h0M105.2 255.4h0M86.8 254.7h0M98.2 248h0M106.4 256.4h0M86.8 218.7h0M108 256.2h0M99.7 249.3h0M120 233.5h0M120.4 240h0M104.3 256h0M90.2 248.9h0M81.5 239.1h0M106.6 256.4h0M115.6 254.4h0M121.5 243.7h0M93.9 242.7h0M121.1 245.1h0M85 221.1h0M107.6 256.5h0M111.1 254h0M86.2 231.8h0M108.7 255.9h0M125.3 250.7h0M100.3 253.2h0M121.1 244.8h0M113.3 253.2h0M127.6 239.3h0M122.5 227.8h0M109.8 256h0M123.5 250h0M119.4 236.2h0M96.6 247.8h0M83.6 249.3h0M135.5 233h0M102 252.3h0M111.7 253.5h0M97.1 254.1h0M107.4 256.6h0M84.1 244.1h0M122.2 245.4h0M116.1 248.1h0M122.4 245.3h0M122.1 246.1h0M102.3 253.3h0M122.7 241.8h0M111.3 253.7h0M103.8 254.4h0M83.4 240.8h0M120.5 234.9h0M108.1 256.3h0M103.7 254.4h0M104.5 255.9h0M88.7 238.7h0M107.7 256.4h0M115.6 250.7h0M106.3 256h0M101.9 251.4h0M105.3 256h0M133.3 250.4h0M109.2 255.3h0M97.8 242.7h0M110.8 254h0M79.5 246.7h0M131 255.4h0M77.5 242.4h0M116.8 249.5h0M112.4 254.2h0M96.7 241.2h0M98 244.2h0M89.2 251.7h0M108.7 255.9h0M133.9 193.2h0M119.7 246.9h0M79.6 242.2h0M107.6 256.5h0M90 252h0M129.5 242.3h0M123.1 234.7h0M105.4 255.6h0M101.9 255h0M98.1 246.8h0M124.3 229.6h0M88.2 220.8h0M120.3 250.1h0M110.5 254.6h0M107.8 256.5h0M116.1 247.5h0M134.4 237.7h0M102 250.9h0M107.6 256.5h0M111.2 255.1h0M110.1 255.7h0M116.1 246h0M91.4 222.7h0M121.2 229.3h0M122.1 239.8h0M116.4 254.2h0M113 251h0M93 241.7h0M123.1 249.2h0M113.5 249.8h0M110.5 254.4h0M105.8 256.2h0M110 254.8h0M123.6 221.5h0M111.1 256.4h0M115.8 254h0M118.5 248h0M118 242h0M101.7 255.4h0M106 256.4h0M108.1 256.4h0M116.6 247.5h0M101.4 250.1h0M99.2 249h0M102.9 253.9h0M78.8 234.8h0M121 231.2h0M103.8 255.1h0M110.9 255.2h0M87.5 246.2h0M94.8 244.1h0M105.5 256.2h0M101.8 250.9h0M97.8 247.4h0M91.2 248.7h0M83.9 254.9h0M117.6 247.1h0M103.4 254.9h0M121.1 253.4h0M108.7 256.1h0M107.5 256.5h0M100.7 250.2h0M112.8 253.3h0M113.4 251.1h0M101.1 251.6h0M91.2 255.1h0M93.5 247.8h0M103.4 254.6h0M93.4 249.6h0M87.2 213.8h0M108.3 256.1h0M99.2 249.4h0M123.3 250.4h0M81.7 241.3h0M113.4 252.3h0M101.7 252.2h0M117 253.2h0M109.2 255.6h0M106.1 256.1h0M99.3 252.5h0M99.1 247.4h0M96.6 247.7h0M101.4 251.1h0M110.1 254.9h0M117 251.1h0M84.2 251.5h0M104.1 253.9h0M127.5 245.4h0M107 256.4h0M105.4 256.1h0M104.1 254.1h0M83.6 212.8h0M97.2 244.4h0M107.7 256.4h0M108.7 256h0M102.4 255.8h0M128.5 250.1h0M108.2 256.1h0M99.5 253.9h0M88.9 238.2h0M98.5 255.4h0M114.6 248.8h0M118.9 240.3h0M104.8 254.8h0M123.6 230.3h0M102.6 254.8h0M83.5 242.5h0M106.7 256.3h0M112.9 250.4h0M118.5 245.3h0M110.1 256.1h0M131.5 225.8h0M107.7 256.4h0M116.7 242.9h0M125 220.7h0M120.2 255h0M77.3 237.9h0M109.1 255.9h0M96 243.8h0M110.8 256.1h0M107.1 256.6h0M118.2 246.4h0M110.7 255.9h0M104.4 255.4h0M87.8 240.9h0M117.4 251.4h0M79.5 228.9h0M122.5 242.8h0M95.6 246.7h0M96.8 249h0M120 252.6h0M108 256.2h0M113.1 253.5h0M92.2 240.1h0M105.3 255.3h0M112.9 251.5h0M113.9 248.9h0M104.3 255.4h0M94.2 248.3h0M93.8 250.5h0M111.8 254h0M112.6 254.5h0M112.8 252.4h0M113.5 250.1h0M98.8 254.4h0M115.5 254.4h0M133.5 250.7h0M97.3 241.2h0M97 248.7h0M93.5 249.5h0M107.2 256.5h0M79.5 207.6h0M129.3 194.5h0M121.9 230.4h0M105.8 256.1h0M128 228.6h0M95.9 251.2h0M96.9 255.5h0M102.1 252.5h0M109.9 256.3h0M111.8 256h0M94.1 251.8h0M107.4 256.6h0M117.2 241.4h0M135.3 255.8h0M97.8 248.8h0M79.7 229.8h0M89.4 227h0M95.7 242.1h0M122.8 234.4h0M108.4 256.1h0M112.2 254.2h0M105.1 255h0M111.3 255h0M117.7 246.8h0M114.2 250.8h0M94.2 255.5h0M116 250.6h0M118.9 251.7h0M105.8 256h0M105.2 256h0M114 250.8h0M105.1 255.3h0M89.8 241.3h0M112.5 251.7h0M99.2 252.8h0M124.3 255.8h0M125.1 225h0M116.8 245.8h0M88.1 246.3h0M101 251.2h0M109.2 255.7h0M125.8 249.6h0M112.6 252.2h0M95.1 246.1h0M87.9 230.2h0M87.8 229.8h0M124.7 225.6h0M116.3 245.5h0M106.7 256.4h0M112 254.2h0M95.9 243.7h0M106.7 256.2h0M109.3 255.2h0M113.9 252.1h0M112.7 255.1h0M99.5 249.5h0M107.7 256.4h0M108.2 256.2h0M111 253.3h0M123 247.7h0M112.8 253.8h0M117.2 249.3h0M92.6 255.8h0M118.6 246.7h0M87.1 246.4h0M98.3 250.1h0M78.5 204.1h0M112.5 252.1h0M113.9 251.5h0M112.5 252.4h0M115.5 249.5h0M94.3 252.5h0M92.5 244.7h0M110 254.6h0M96 240.6h0M102.4 251.9h0M114.4 249.1h0M104.5 255.1h0M112.1 252.9h0M99.1 249.1h0M96 245.5h0M123.7 243.6h0M98.4 246.5h0M124.3 255h0M121 247.4h0M109.3 255.2h0M122.4 243.7h0M125.4 249.2h0M95.2 252.2h0M124.1 251.3h0M124.3 251.2h0M94 233.7h0M127.9 214.4h0M84.2 243.6h0M115.7 251.6h0M128.7 235.4h0M100.7 255.4h0M129.7 216.9h0M101.9 251.7h0M119 249.3h0M101.7 255h0M123.3 247.1h0M96.9 246.4h0M99.4 255.3h0M95.6 253h0M104.5 255.5h0M118.5 244.4h0M93.2 241h0M113.8 254.2h0M122.8 236.7h0M107.6 256.4h0M108 256.3h0M112.2 251.6h0M95.4 247.9h0M91.4 233.4h0M99.1 248.3h0M123.4 239.2h0M106.3 256.5h0M107 256.4h0M107.8 256.4h0M96.8 244.6h0M104.3 254.1h0M101.1 253.4h0M103.6 253.2h0M82.6 216.3h0M105.2 255.5h0M101 252.9h0M104.9 256h0M93.8 233.3h0M111.1 253.4h0M106.5 256.3h0M103.8 255.4h0M90.9 248.3h0M119.9 250.1h0M89.2 227.7h0M123.2 247.1h0M96.2 243.3h0M105.1 255.8h0M116.6 250.5h0M117.7 255.5h0M93.8 235.9h0M118.1 256.1h0M110.3 254.7h0M98.3 252.8h0M119.9 238.5h0M101.5 252.9h0M106.3 256h0M104.6 255.1h0M93.1 253.4h0M104 255.2h0M110.2 256.3h0M87.6 226.6h0M133 246.8h0M104.8 255.3h0M119.7 250.1h0M121.2 235.6h0M113.5 254.3h0M133.3 238.6h0M104.4 254.7h0M128 246.1h0M90.4 239.1h0M113.9 252.2h0M121.4 239.9h0M116.6 254.7h0M103.4 255.8h0M96.1 237.7h0M110.4 254.7h0M111.1 256h0M89.5 256.4h0M106.4 256.5h0M93.9 232.3h0M106.5 256.5h0M111.5 253.6h0M98.4 250.2h0M97.9 249.2h0M98.6 245h0M108.9 256h0M84.4 202.8h0M107.3 256.6h0M108.2 256.3h0M113.5 249.8h0M125.7 230.6h0M117.2 251.8h0M119.8 254.6h0M122.9 225.3h0M104.8 255.2h0M100.5 256.6h0M92.9 231.2h0M103.6 253.6h0M91 239.3h0M120.3 239.7h0M95.8 245.1h0M123.7 242.1h0M114.9 248.4h0M104.1 254.9h0M99.6 255.9h0M114.4 250.9h0M112.6 252.6h0M102.3 254.2h0M93.9 232h0M86.3 215.6h0M102.7 253.1h0M120.6 244.9h0M118.8 252h0M82.6 178.9h0M104.7 255h0M102 253.7h0M111.7 253.5h0M111.6 252.6h0M127.5 219.9h0M106.1 256h0M87.1 254.8h0M114.9 254.1h0M88.3 236.3h0M114.1 249.2h0M110.9 254.2h0M92.5 253.5h0M126.1 235.1h0M98.5 252.7h0M85.3 255.8h0M99.9 250.1h0M104 255.9h0M107.1 256.6h0M94.4 241.8h0M88.9 251.3h0M110.8 254.8h0M97 242.9h0M106.9 256.4h0M128.6 221.9h0M114.8 253.8h0M114.6 251.2h0M98.2 255.5h0M86.7 254.4h0M122.1 236.2h0M103.9 254.7h0M116.6 250.1h0M110 255.9h0M107.8 256.3h0M102.4 254h0M105.3 255.3h0M94.8 246.4h0M122.4 234.3h0M116.6 250h0M110.5 255.2h0M89.9 242.5h0M107.7 256.4h0M106.1 256.4h0M88.2 219.1h0M125.6 225.2h0M95.1 246.5h0M99.2 252h0M116.4 244.5h0M102.2 251.8h0M106.8 256.4h0M86.6 215h0M105.6 255.6h0M96.8 245.8h0M115.9 255.1h0M105.2 255.3h0M101.1 249.8h0M111 254.9h0M80.8 179.6h0M81.6 177.7h0M94.5 247.2h0M93.3 249.4h0M95 235h0M112.2 251.8h0M117.8 252.7h0M100 250.4h0M103.7 254.1h0M113 254.3h0M121.3 240.3h0M113.9 252.8h0M122.6 246.6h0M88.6 254h0M105 254.9h0M106.8 256.3h0M115.5 247.7h0M114.4 252.1h0M105.7 256.3h0M109.1 255.3h0M99.6 251.6h0M106.8 256.6h0M125.6 216.4h0M103 254.6h0M101.5 250.2h0M102.3 252.2h0M84.7 241.5h0M88.9 247h0M110.4 255.3h0M129.8 241.2h0M119 249.8h0M98.1 252.8h0M106.2 256h0M117.7 243.1h0M101.3 254.1h0M104.6 255.9h0M120.6 244.2h0M115.2 248.9h0M95.9 239.3h0M114.6 256.2h0M100.8 249.6h0M113 255.1h0M101.7 252.9h0M117.7 249.9h0M92.2 254.9h0M89.2 240.2h0M104.7 255.4h0M101.4 249.9h0M120.5 246.8h0M98.1 242.9h0M113.4 254.3h0M123.1 246.1h0M94.8 234.6h0M100.9 250.3h0M93.6 255.7h0M104.1 254h0M103.5 253.1h0M102.9 253.1h0M109.4 256.2h0M121.8 227.9h0M130.6 237.8h0M109.9 256.1h0M115.8 250.9h0M123 244.5h0M114.8 254.4h0M120.5 244.6h0M89.4 241.5h0M120.3 249.5h0M115 254.9h0M92.9 230.4h0M100.3 248.1h0M103.1 255.3h0M119.2 242.4h0M101.2 250.7h0M130 227.6h0M82 214.5h0M89.7 228.4h0M109.7 255.2h0M96.3 250.3h0M119.1 250.4h0M103.8 254.6h0M118.8 244.1h0M119.2 243h0M114 255.2h0M106.8 256.5h0M107.1 256.6h0M81.5 240.7h0M112.8 253.2h0M107 256.5h0M101.5 250.8h0M87.6 251.7h0M127.3 216.3h0M109.4 255.5h0M121.4 248.8h0M111.6 253h0M128.4 208.2h0M90.6 244h0M95.8 250.9h0M94.6 234.1h0M128.6 244.8h0M97.3 242.1h0M92.4 241.4h0M108.2 256.3h0M100.7 253.8h0M103.1 253.6h0M94.7 244.8h0M105.7 255.8h0M98 255h0M100.4 252h0M89.9 249.7h0M91.8 242h0M133.4 184.9h0M90 229.4h0M121.7 243.1h0M123.6 241.2h0M85.2 213.2h0M124.3 239h0M95.8 255.9h0M105.3 256.1h0M99.7 253.4h0M91.1 241.9h0M112.8 252.3h0M113.6 249.6h0M94.5 241.6h0M99.9 254h0M109 256.3h0M87.2 211h0M120.8 256.1h0M132.8 217.6h0M110.4 256.1h0M91 227.9h0M94.2 242.5h0M126.2 217.8h0M102.9 253.1h0M101.4 250.8h0M98.9 244.6h0M101.7 253.8h0M107.5 256.5h0M92 245.7h0M101.2 253.8h0M97.1 254.3h0M93.5 252.3h0M100.7 248.8h0M99.9 255h0M103.4 254.5h0M98.7 245h0M118.9 236.7h0M77.3 254h0M101.2 252.8h0M81.5 211.2h0M99 252.4h0M122.4 249.3h0M89.7 215.1h0M115.4 253.4h0M111 255.7h0M110.6 254.2h0M90.5 246.5h0M98.4 255.5h0M106 256h0M102.2 255.4h0M123.4 245.2h0M102.8 254.8h0M119.4 251.6h0M119 243.5h0M86.2 215.5h0M128.9 221.4h0M114.7 254.8h0M90.2 248.2h0M92.7 229.6h0M89 248h0M124.3 239.2h0M107.8 256.3h0M92.9 240.7h0M109.2 255.8h0M108.5 256.4h0M122.2 252.9h0M90.5 219.1h0M109 255.6h0M86.8 256.5h0M103.5 255.7h0M115.1 250.1h0M111.1 253.8h0M88.3 238.9h0M127.2 255.5h0M116.8 254.1h0M114.8 252.3h0M90.4 218.7h0M105.1 255.7h0M109.2 255.5h0M113.6 249.6h0M98.3 255.4h0M113.7 254.3h0M81.4 243.9h0M105.4 255.5h0M115 249.8h0M106.6 256.4h0M114.4 252h0M120.1 242.7h0M93.8 249.1h0M95.6 240h0M96.7 250.2h0M105.6 256.3h0M97.5 247.9h0M121.5 240.2h0M120.2 240.8h0M113.9 253.6h0M90 217.7h0M112.2 254.6h0M104.6 255.8h0M122 243h0M117.7 241.4h0M83.1 225.2h0M95.2 256.5h0M117.8 244.9h0M106.4 256.3h0M134.6 243.6h0M105.5 256.5h0M129.9 235.5h0M104.4 256.1h0M110.3 254.9h0M106.4 256.5h0M115.5 248.6h0M82.5 219.4h0M127 247.8h0M104.6 255.2h0M110.3 255.7h0M96.9 255.6h0M121.9 229.8h0M108.3 256.3h0M112.9 254.2h0M111.9 252.8h0M108.7 255.7h0M98.3 250.6h0M107.3 256.6h0M109.8 254.6h0M89.3 230.5h0M137.7 202.5h0M98.8 250.5h0M100 251.7h0M90.5 254.5h0M98.4 246.9h0M134.6 256h0M122.6 239.1h0M124.7 251.2h0M95.9 241.6h0M107.9 256.4h0M110.2 255.2h0M90.6 233h0M111.4 253.4h0M111.7 255.9h0M104.4 254.9h0M85.8 227.9h0M100.6 252.3h0M113.7 249.6h0M110.8 256h0M89.8 250.5h0M118.8 253.7h0M85.7 233.8h0M115.5 255.4h0M105.4 255.4h0M112.4 251.8h0M104.3 254.1h0M106.2 256h0M96.9 242.1h0M114.2 248.4h0M98.8 247.7h0M120.9 232.4h0M107 256.4h0M130.7 239.6h0M115.4 255.3h0M96.5 255.6h0M98.8 252.4h0M119.7 254.1h0M98.2 246.4h0M125.3 242h0M121.5 242.8h0M101 254.5h0M125.6 254.9h0M100.2 255.4h0M104.4 256.5h0M123.8 256.3h0M92 253.1h0M116.9 255.6h0M115.9 244.4h0M103.3 254.2h0M126 236.5h0M105.1 255.4h0M88.4 251.6h0M98.3 249.4h0M108 256.2h0M76.9 240h0M134.2 214.1h0M92.6 250.3h0M105.5 255.9h0M113 252.5h0M106.2 256.1h0M106.6 256.3h0M97.2 240.6h0M112.2 253.4h0M135.5 250.2h0M116.6 248.6h0M109.5 255h0M99.8 247.4h0M124.8 233.6h0M112.2 256h0M103.2 253.3h0M127.3 210.7h0M125.1 213.7h0M124.8 226.3h0M121.5 247.8h0M117.3 246.7h0M115.9 248.1h0M132.7 227.6h0M82.7 242.8h0M121.1 252.7h0M102.3 251.6h0M105.6 256h0M76.7 242.1h0M111.6 253.7h0M119.2 239.8h0M95.3 244.6h0M108.9 255.5h0M113.7 254.4h0M95.5 244.9h0M114.8 248.7h0M103.3 255.5h0M100.2 249.8h0M123.2 249.9h0M100.7 249.3h0M111.7 253.8h0M115.2 252.9h0M113.2 254.8h0M108.7 255.8h0M116.7 242.3h0M123 246.1h0M130.6 223.5h0M121.1 236.8h0M105.4 255.5h0M111.5 253.7h0M101.6 254.5h0M116.5 250.8h0M119.8 244.8h0M93.5 251.7h0M131.8 220.9h0M129 253.1h0M95.8 238.1h0M131.6 237.3h0M89.3 252.8h0M133.8 241h0M94 236.4h0M137.1 249.8h0M122.9 247.3h0M105.8 255.6h0M113.5 252.8h0M102.6 255.3h0M85.1 230.3h0M99.5 249.8h0M129.1 251.7h0M97.9 250.6h0M98.4 253.1h0M102.5 254.8h0M97.7 242.5h0M107 256.5h0M106.9 256.5h0M116.9 252.3h0M107.1 256.5h0M109.7 255.2h0M96.4 256.6h0M112.4 254.3h0M97.4 251.5h0M123.2 248.4h0M108.2 256h0M107.2 256.6h0M123.1 250h0M105 255h0M121.9 232.1h0M89.3 234h0M124.4 247.7h0M98.2 248.7h0M92.8 256.1h0M98.3 248h0M114.8 246.8h0M106.9 256.4h0M112.9 254.3h0M90.6 245h0M124.8 222.9h0M113.8 250.9h0M110 256h0M96.4 248.5h0M98.2 249.4h0M119.4 235.4h0M110.4 254.1h0M97.9 256.1h0M98.4 255.9h0M112.3 251.9h0M97 252.2h0M95.2 236.9h0M127.1 252.5h0M103 255.3h0M96.8 242.3h0M113.2 255.4h0M125.1 220.2h0M110.4 254h0M90.8 252.6h0M101.2 252.1h0M124.5 235.4h0M94.8 254.1h0M96.1 245.4h0M105.8 255.7h0M124 246.2h0M101.6 250.7h0M112.4 252.5h0M106.4 256.2h0M98.7 244.8h0M105.7 255.9h0M98.6 244.5h0M104.5 256h0M100.7 254.3h0M99.2 255h0M110.7 255.7h0M111.3 253.3h0M99.3 246h0M119.6 255.5h0M126.2 219.3h0M124.7 220.4h0M124.6 241.1h0M117.4 243.8h0M97.3 250.4h0M120.8 244.9h0M99.4 256.3h0M109.3 255.4h0M116.3 252.8h0M117.7 253.2h0M122.4 225.8h0M112.6 255h0M104.5 255.3h0M102.2 255.2h0M97.6 254.1h0M114.3 250.4h0M118.2 256.3h0M114.9 250.4h0M85.6 235.4h0M107.4 256.6h0M109 255.7h0M121.6 244.5h0M124.2 249.1h0M126.6 238.7h0M123.1 233.8h0M111.1 255.3h0M121.8 241.1h0M115 249.9h0M101.7 256.4h0M87.9 232.1h0M118.8 237.6h0M86.7 255.9h0M100.3 248.1h0M80.2 233.9h0M113.7 253.8h0M116.7 242.6h0M83.5 238.3h0M92.6 244.9h0M116.2 249.9h0M130.6 226.7h0M125.6 245.4h0M111.9 254.6h0M93.8 233.9h0M101.2 252.3h0M126.5 245.8h0M134.4 253.1h0M116.7 252h0M117.2 241h0M118.1 255.2h0M97 244.6h0M102.2 254.1h0M96.8 240.2h0M107.7 256.5h0M104.3 256.3h0M102 252.2h0M109.5 255.7h0M102.6 251.8h0M106.4 256.3h0M107.2 256.6h0M107.4 256.6h0M105.6 255.4h0M103.6 255.3h0M120 246.3h0M103.6 254.4h0M129.5 199.4h0M123.8 237.8h0M111.8 253.8h0M104.7 255.2h0M109.2 255.5h0M96.2 256.2h0M110.1 255.8h0M109.8 255.5h0M117.3 253.5h0M100.3 247.8h0M121.5 249.1h0M98 242.8h0M109.3 255.8h0M111.3 254.6h0M111.7 255.1h0M94.1 254h0M96.3 248.3h0M109.5 255h0M118.4 239.3h0M98.4 250.2h0M129.4 195.2h0M91.4 255.6h0M100.1 251.8h0M90.8 225.1h0M114.6 251.8h0M116.9 256h0M94.9 251.9h0M128 200.8h0M100.5 250.2h0M84.6 248.3h0M113.2 252h0M107.4 256.6h0M120 234h0M121.1 251.8h0M92.3 226h0M110.5 254.6h0M100 256.6h0M93.1 243.5h0M93.9 233.7h0M116.2 251.5h0M103.4 254h0M105.4 255.6h0M107.6 256.5h0M101.6 251.6h0M91.6 253.8h0M125.1 226.7h0M104 253.8h0M78.9 250.8h0M99.2 253.6h0M103.1 253.2h0M114.1 248.3h0M117.9 241h0M110.5 254.1h0M110.2 255.4h0M103 253.3h0M95.8 243.1h0M108.9 256.4h0M112.4 251.2h0M117.4 252.3h0M95.9 242.9h0M105.5 255.4h0M97.6 245.3h0M77.1 248.5h0M93.2 233.3h0M84.6 248.9h0M108.5 256.2h0M102.1 251.3h0M113.1 254.1h0M102.2 253.3h0M108.1 256.3h0M108.7 256.4h0M117.3 251.7h0M86.6 216.1h0M122 255.4h0M99 248.2h0M106.7 256.5h0M128.2 235.1h0M108.2 256.2h0M113.6 250.9h0M117.3 252.6h0M109.4 255.2h0M102.5 253.2h0M118.3 252.6h0M114.5 254.5h0M86.3 238.7h0M109.9 255.2h0M113 252.7h0M94.1 248.8h0M102.1 254.2h0M109.6 255.4h0M98.5 253.7h0M88.8 242.8h0M106.9 256.4h0M116 255.5h0M123.8 254.3h0M117 244.1h0M105 256h0M110.5 255.4h0M104.6 255.3h0M135.4 236.8h0M112.9 251.4h0M118.7 243.9h0M106.8 256.3h0M110.6 255.1h0M90.9 225.4h0M104.2 254.9h0M122.1 234.3h0M105.8 255.6h0M91.2 238.9h0M122.4 237.4h0M88.3 253.1h0M95.3 240.7h0M122.1 231.2h0M132 251.6h0M89.7 236.3h0M119.3 253.6h0M112.6 255.7h0M100.5 256.1h0M103.5 253.4h0M117.9 252.9h0M92.7 252.3h0M102 251.8h0M124.1 237.7h0M96.3 255.4h0M117.2 245.8h0M117.5 246.3h0M125.7 253.6h0M117 241.9h0M102 253.5h0M115.9 252.8h0M80.9 235.2h0M105.5 255.6h0M118.1 249.5h0M91.6 249.9h0M115.2 251.4h0M108.4 256.5h0M113.1 251.8h0M104.2 255.8h0M119.3 254.9h0M94.7 233.1h0M95.4 255.4h0M105.7 256.2h0M89.7 218.6h0M127.1 237.5h0M114.5 255.3h0M114 249h0M95.8 244h0M122.4 238.3h0M102.8 253.8h0M119.5 237h0M113.9 255.1h0M105.8 255.7h0M104.5 254.9h0M95.5 245.2h0M91.3 225.4h0M118.7 244h0M107.5 256.6h0M121.4 240.3h0M87.3 251.4h0M122.2 248.7h0M132.3 239.2h0M106.8 256.3h0M108.9 255.9h0M97.1 243.7h0M135.4 231.7h0M100.6 254.3h0M111.9 255.1h0M117.3 255.9h0M117 246.4h0M84.9 255.4h0M112.9 251.2h0M112.4 255.1h0M103.4 254.9h0M90 225.6h0M120.9 237.5h0M112.3 253h0M100.4 249.8h0M92.8 243.9h0M108 256.4h0M98 248.2h0M116.2 244.9h0M91.2 243.6h0M112.8 251.4h0M93.9 250.1h0M118.9 236.9h0M113 251.2h0M117.1 253h0M120.4 253.6h0M100.4 251.7h0M122.4 252.1h0M102.3 255.4h0M99 252.8h0M108.5 256.2h0M109.1 256.5h0M98.7 250.7h0M101.2 252.3h0M116 246.9h0M123.6 223.7h0M103.5 253.3h0M105 255.3h0M112.9 250.6h0M110.7 254.8h0M95.3 244h0M108.4 256.1h0M129.2 205.2h0M113 253.1h0M118.4 239.5h0M105.7 255.7h0M89.8 237.1h0M106.1 255.8h0M95.4 247.2h0M98.5 253.6h0M77.5 217.7h0M80.7 255h0M104.1 254.1h0M114 255h0M82.6 242.8h0M117.5 244.3h0M109.2 256.4h0M116.8 255.1h0M117.8 255h0M118.3 239.2h0M93 240.3h0M94.2 242.1h0M102.8 254.4h0M106.9 256.4h0M86.7 255.8h0M115.1 252.5h0M107.1 256.5h0M132.7 247.9h0M91.6 244.9h0M115.9 252.8h0M81.4 251.6h0M106 256h0M107.4 256.5h0M119.1 249.9h0M107.7 256.5h0M107.9 256.4h0M122.3 248.1h0M127.6 242.2h0M101.5 254.1h0M98.1 243.1h0M127 224.6h0M102.2 251.8h0M95.1 248.3h0M107.9 256.3h0M104.1 254.2h0M104.5 255.2h0M107.1 256.5h0M100.5 248.2h0M95.9 243.5h0M97.1 246.8h0M99.9 252.8h0M100 250.8h0M79.6 244.9h0M120.1 254.6h0M88.6 251.8h0M131.2 248.3h0M123 255.8h0M111.4 253.4h0M100.5 250.2h0M99.9 247.5h0M120 238.9h0M109 255.7h0M98.6 246h0M111.1 254.2h0M89.4 217.6h0M102.2 252.7h0M109.8 256.1h0M84.1 246.2h0M107.2 256.5h0M98.9 247.2h0M104.8 254.9h0M90.7 232.2h0M101.7 250.6h0M137.7 246h0M105.1 255.3h0M90.9 223.9h0M122.4 229.5h0M102.3 254.3h0M119.2 252h0M116.3 254.8h0M96.5 249.8h0M125.4 240h0M97.2 248.9h0M107.1 256.6h0M111.5 253.5h0M122.6 234.7h0M112.7 253.4h0M111.5 253.1h0M106.7 256.2h0M116.6 249.9h0M119.3 250.2h0M86.3 252.4h0M121 254.2h0M97.3 243.3h0M116.9 252.8h0M121.4 243.6h0M108.1 256.2h0M115 252.5h0M113.8 253.8h0M95.6 237.1h0M132.9 210.8h0M95.6 254h0M93.8 236.3h0M124.5 230h0M91.7 247.6h0M117.3 248.9h0M122.6 229.3h0M134.3 238h0M134.9 180.1h0M122.1 233.3h0M85.8 253.5h0M134.7 222.7h0M118.2 253.2h0M109 256h0M111.8 253.3h0M105.7 256.2h0M108.2 256h0M96.3 252.5h0M91.2 224.6h0M111.3 253.7h0M110.2 256h0M104.1 255.5h0M101.8 251.7h0M105.9 256.1h0M129.6 245.8h0M107.4 256.6h0M105 255.2h0M87.8 251.7h0M109.9 255.2h0M114.5 252.8h0M108.3 256.6h0M84.7 191h0M115.6 253.7h0M92.3 247.4h0M100.7 248.8h0M95.8 241.4h0M111.5 253.7h0M101.5 251.6h0M91.5 248h0M105.5 255.9h0M111.9 255.8h0M116.3 253.2h0M91.7 236.6h0M105.1 255.7h0M114.7 246.9h0M84.8 240.7h0M106.8 256.6h0M112.3 254h0M113.8 251.8h0M120.2 236.1h0M126.9 255.3h0M117 246.8h0M86 204.6h0M110.9 253.9h0M106.1 256.5h0M125.7 228.6h0M92.2 248.8h0M102 255.3h0M131.8 231.4h0M102.3 253.2h0M119.6 255.9h0M90.5 256h0M114.7 250h0M99.8 247.7h0M115 247.6h0M108.7 255.9h0M113.9 251.6h0M88.9 244.2h0M113.9 250.7h0M108.4 256.5h0M92.5 255.6h0M98.8 254.7h0M90.2 231.2h0M114.4 247.8h0M126.1 234.3h0M101.4 252.1h0M119.5 235.8h0M117.1 243.5h0M114.2 254.9h0M107.9 256.4h0M106.6 256.3h0M104.5 254.5h0M97.5 252.4h0M135.3 246.9h0M110.7 255.6h0M98.6 247.9h0M92.1 238.6h0M121.8 229.5h0M98.3 251.7h0M87.2 251.1h0M105.9 255.8h0M124.4 249.5h0M104.2 254.2h0M117.2 250.8h0M118.1 240.1h0M113.4 252.7h0M128.3 246.6h0M108.4 256h0M113.8 254.4h0M121.2 232.9h0M88.2 229.2h0M106.9 256.4h0M107.1 256.5h0M110.1 255.8h0M109.2 256.4h0M86 237.8h0M105.9 255.7h0M121.2 254.2h0M117.8 243.7h0M123.6 226.9h0M98.4 247.9h0M103.5 255.3h0M102.3 252h0M118.8 250.1h0M132.7 213.9h0M79.8 205.5h0M103.3 254.1h0M85.2 232.7h0M95.4 245.2h0M97.1 241.9h0M120 242.5h0M111.8 254.4h0M110.5 255.2h0M108.7 255.9h0M131.8 236.8h0M99.2 252.9h0M108.4 256.1h0M117 243.2h0M113.4 253.4h0M108.3 256.3h0M96 244.9h0M108.7 255.7h0M128.6 236.9h0M120.5 248.1h0M122.1 247.8h0M123.6 222.6h0M135.7 252.3h0M76.8 228.3h0M91.5 235.4h0M115.8 245.3h0M94.7 241.5h0M99.5 255.9h0M94.8 247h0M120.7 242.1h0M111.2 254.8h0M91.6 226.4h0M97.7 252.1h0M124.7 249.4h0M111.5 252.7h0M98.4 245.3h0M113.5 251.8h0M108.7 255.7h0M109.6 255.1h0M101.3 254h0M106.5 256.4h0M81.7 242h0M124.8 244.7h0M104.9 255.4h0M104.6 255.5h0M112.8 253.3h0M104.3 254.2h0M109.5 255.2h0M99.7 255.1h0M98.6 252.4h0M106.8 256.6h0M96.6 244.5h0M106.3 256.2h0M95.3 250.5h0M81.8 178.1h0M118 247.3h0M134.1 213.6h0M102.2 253.9h0M101.6 250.9h0M101.4 250.4h0M97.3 245.5h0M96.6 246.3h0M102.2 253.2h0M99 248.7h0M112.4 252.1h0M91.9 226.7h0M116.4 251.3h0M119.2 254.5h0M122.4 252.6h0M81.9 229.9h0M102.7 253.9h0M81.7 175.7h0M88.3 221.2h0M111.3 253.8h0M90 243.1h0M107.3 256.6h0M108.1 256.1h0M106.5 256.5h0M120.9 256.5h0M109.9 254.6h0M121.2 237.4h0M99.6 249.7h0M118.4 242.4h0M118 251.3h0M98 247.1h0M109.3 256.5h0M112.3 253.7h0M77.1 186.8h0M132.3 247.2h0M106.1 255.9h0M107 256.5h0M112.3 251.6h0M99.6 250.6h0M124.7 231.9h0M107.9 256.3h0M110 255.5h0M107.1 256.5h0M111.7 253.8h0M82.9 220.3h0M109.9 254.8h0M103.4 253.9h0M81.6 233.3h0M103 253.1h0M89.8 253.8h0M100.8 251.8h0M130.1 250.1h0M113 251.2h0M104.8 254.9h0M84.9 254.3h0M124.1 243.1h0M117.3 247.3h0M76.6 226.2h0M125.6 239.2h0M78.9 240.2h0M126.2 227.9h0M106.4 256.5h0M88.8 232.5h0M100.3 256.1h0M117.8 244.6h0M136.3 226.4h0M100.7 254.5h0M125.7 224.2h0M106.6 256.3h0M95.4 249.1h0M105.9 256.1h0M89.5 235.7h0M102 252h0M109 255.6h0M112 252.6h0M118.8 248.4h0M113.1 251.3h0M109.2 255.6h0M106 255.9h0M126.5 225.4h0M99.5 249h0M98.4 243.6h0M92.5 248.4h0M93.2 236.1h0M84.8 209.2h0M117.5 243.4h0M104.2 254.3h0M109.9 254.6h0M82.6 230.9h0M115.1 246.9h0M111.2 254.6h0M121.3 250.4h0M81.8 254.3h0M98.1 251h0M100.3 256h0M129.4 255.5h0M136.7 230.7h0M110.4 254.9h0M112.9 251h0M96.1 244.1h0M102 252.4h0M110 256.2h0M107.6 256.5h0M120.9 255.6h0M102.1 251.1h0M83.8 241.5h0M94.3 251.1h0M95.2 244.1h0M78.7 228.2h0M83.2 232.8h0M103.3 254.2h0M117.7 253.4h0M104.8 256.2h0M92.5 226.7h0M117.1 254.8h0M101.5 254h0M127.3 256.5h0M112.5 251.2h0M115 253.4h0M99.9 248.3h0M101.7 255.6h0M89.3 241.7h0M101.7 252h0M121.9 242.5h0M98.5 244.9h0M125.1 231.1h0M101.5 251.2h0M97.8 242.6h0M106.4 256.2h0M92.1 253.8h0M93.4 253.7h0M75.9 133.6h0M77.8 142.2h0M77.5 152.1h0M76.9 156.1h0M79.5 159.6h0M78.4 172.6h0M80.5 175.5h0M137.5 138h0M136.8 141h0M137.9 146h0M135.2 150h0M136.5 154h0" stroke="#000" stroke-width="1.0" stroke-linecap="square" fill="none"/><path d="M66.7 47.9h0M66.3 58.1h0M71.3 95.7h0M66.3 102.6h0M65.4 133h0M71.6 134h0M69.9 147.5h0M71.8 174.5h0M59.7 194.1h0M71.6 195.2h0M73.6 202.4h0M63 207h0M43.2 208.1h0M73.2 208h0M74.9 209.3h0M75.3 218.5h0M72.2 229.7h0M67.4 234.9h0M66.6 237.8h0M71.3 240.4h0M74.2 242h0M74.9 243.1h0M61 245.3h0M72.2 244.9h0M69.3 248.9h0M70.7 249.9h0M73.6 250.6h0M70.9 251.9h0M46.8 251.2h0M66 252.3h0M67.4 253.2h0M55.5 253.9h0M58.4 253.9h0M50.5 254.5h0M68.3 254.1h0M72.9 254.5h0M74.2 255.2h0" stroke="#22ee22" stroke-width="1.3" stroke-linecap="square" fill="none"/><path d="M161.7 22.3h0M150.5 28.8h0M157 31.3h0M169.5 30.4h0M163.8 34.9h0M169 33.6h0M171.3 34.6h0M170.4 36.5h0M189.8 32.3h0M185.4 40.6h0M149.7 42.1h0M148.4 45.6h0M150.7 47.6h0M149.3 50.5h0M148.4 53.4h0M162.9 51.6h0M171.9 49.5h0M154.8 56h0M155.2 58.1h0M151.8 60.3h0M182.6 55.1h0M200.8 55.7h0M206.8 61.2h0M204 66.1h0M167.1 64.4h0M147.6 67.1h0M162.6 70.9h0M164.6 72.5h0M179.7 72.3h0M190.2 79h0M144.2 80.4h0M162.3 84.3h0M166.4 85.6h0M143.2 93.4h0M154.5 92.7h0M144.5 95.7h0M151.5 95.7h0M163.2 94.7h0M159.7 99.2h0M219 47.9h0M218.1 59.4h0M233 60.7h0M230.8 63.3h0M142.9 100.7h0M159.9 100.3h0M141.8 106.1h0M166.1 106.4h0M180.5 105.8h0M183.4 104h0M141.8 109.8h0M147.3 109.5h0M150.2 109.3h0M186.2 111.3h0M184.4 113h0M142.5 114.9h0M162.7 116.6h0M200.3 117.8h0M154.8 121.3h0M140 123.1h0M175 127.5h0M162.7 128.5h0M156 129.6h0M155.2 131.1h0M159.1 132.1h0M198.2 130.1h0M146.4 133.3h0M150.7 134h0M163.5 133.5h0M155.2 135.1h0M152.6 137.2h0M190.2 133.5h0M186.3 135.1h0M141.5 138h0M142.5 138.3h0M149.4 139h0M146.8 142.2h0M157 142.8h0M175.8 144.1h0M145.4 145.5h0M140 148h0M145.8 149.2h0M145.8 149.9h0M154.4 151.2h0M160.3 150.5h0M148.7 152.8h0M141.1 153.9h0M144.7 154.2h0M177.9 153.5h0M195.6 155.7h0M146.4 156.4h0M147.9 157.8h0M161.4 158.7h0M154.1 160.7h0M168.1 161.9h0M153.3 162.9h0M172.6 163.2h0M191.4 162.6h0M151.9 164.3h0M168.1 164h0M143.2 165.3h0M145.8 166.2h0M177.2 166.2h0M141.8 167.7h0M144 168h0M180.1 169.1h0M155.5 170.8h0M157.7 170.4h0M170.3 171.6h0M140 172.3h0M188.3 172.3h0M154.1 173.4h0M159.1 173.7h0M158.4 175.5h0M157.7 176.2h0M160.9 176.9h0M169 176.2h0M177.2 175.6h0M142.9 177.8h0M176.5 178.5h0M181.5 180.4h0M182.6 180.4h0M146.8 182.4h0M146.8 184.3h0M145 187h0M154.1 185.3h0M154.8 187h0M162.7 187.5h0M172.4 186.7h0M197.9 186.3h0M199.3 188.2h0M150.5 189.3h0M251.1 113.7h0M221 144.8h0M237.6 150.2h0M232.3 173h0M218.1 179.2h0M269.4 176.3h0M247.8 189.2h0M247.9 189.5h0M267 193.6h0M214 213.2h0M216.3 213.7h0M237.9 212.5h0M218.4 219.3h0M231.7 219h0M211.5 231.4h0M209.4 237.3h0M215.8 236.7h0M236.4 234.3h0M263.9 245.2h0M231.7 246.7h0M215.9 249.1h0M219.6 248.9h0M240.2 250h0M242.3 248.5h0M213.6 251.7h0M208.6 252.8h0M147.7 252.4h0M177 225.4h0M145.4 226.2h0M146.1 218.1h0M140.7 203h0M152.2 201.7h0M156.6 253.3h0M174.3 224.7h0M139.8 252.7h0M142.8 243.4h0M158.2 234.3h0M199 240.4h0M157.8 226.9h0M157.3 244.5h0M141.9 252.1h0M144.5 240.9h0M161.3 253.9h0M156.8 204.1h0M190.7 207.1h0M181.7 240.5h0M155.6 254.7h0M139.5 206.1h0M171.8 229.4h0M145.1 254.8h0M160.1 250.7h0M157.7 225.9h0M150.1 213h0M140.1 240.1h0M172 246.1h0M170.5 252.9h0M150.9 254.5h0M158.5 251.9h0M156.4 201.4h0M167.6 242.8h0M164.2 237.4h0M151.6 246.3h0M154.3 256.3h0M171 233h0M149.1 223.7h0M171.3 240.3h0M158 254.1h0M140.2 213.7h0M147.1 223.6h0M151.5 219.8h0M187.8 254.9h0M143.1 241.7h0M141.6 256.4h0M152 254.3h0M201.6 212h0M139.8 232.5h0M170.1 254.4h0M139.8 250.5h0M173.6 253.4h0M143.1 225h0M154 237.4h0M141.9 253.4h0M150.9 238.3h0M151.9 212.3h0M170.3 224.3h0M164.9 246.3h0M160.6 250.3h0M196.2 244.3h0M161.8 223.4h0M169.7 253h0M140.3 248.2h0M157.2 247.1h0M146.7 221.7h0M142.5 251.2h0M154.3 253.7h0M181.1 233.3h0M194.8 248.2h0M156.6 239.8h0M182.7 243.4h0M153.2 254.5h0M168.3 248.8h0M194.5 252.7h0M141.3 190.2h0M149.4 248.4h0M156.4 248.9h0M160.2 250.2h0M175 199.5h0M145.9 246h0M152.4 254.7h0M156.6 252.4h0M185.9 252.1h0M145.6 251.1h0M169.4 238.6h0M148 235.5h0M159.6 202.7h0M142.3 236.7h0M146.2 251.9h0M206.6 218.2h0M145.5 215.4h0M144.1 251.8h0M191.7 223.8h0M147.2 201.4h0M164.1 252.5h0M199.4 243.4h0M187.6 256.4h0M204 249.3h0M188.5 235.9h0M139.7 243.9h0M153.9 193.3h0M167.9 254.3h0M170.1 241.7h0M146.4 190.9h0M142.8 243.8h0M154.3 233.6h0M183.5 222.8h0M160.2 215.9h0M172.5 247.4h0M141.8 194.4h0M170.1 250.7h0M158.1 242.7h0M148.3 253.3h0M170.8 248.9h0M141 244.2h0M148.6 205.4h0M144.6 255.5h0M146.9 212.6h0M154.7 244.4h0M155.4 232.6h0M153.7 233.5h0M178.7 230.3h0M139.7 227.4h0M149.3 238.2h0M175.5 254.1h0M142.8 250.5h0M158.9 220.4h0M139.3 226.1h0M144.6 255.3h0M156 197.2h0M141.4 237.3h0M183.6 237h0M203.2 195.4h0M141.6 249.7h0M170.1 252h0M155.8 231.9h0M141.4 245.1h0M155.5 254.5h0M143 255.1h0M165.9 222.9h0M151.8 232.2h0M157.5 236.6h0M145.5 251.3h0M176 238.8h0M204.8 246.5h0M150.3 225h0M176.2 233.8h0M154.2 246h0M157.4 239.3h0M188.4 249.3h0M161.2 228.6h0M174.8 226.7h0M155.5 251h0M145 234.3h0M139.3 231.4h0M179.8 250.5h0M164.3 251.1h0M205.1 248.5h0M140.1 227.8h0M190.2 208.9h0M204.5 252.1h0M150.8 252h0M167.4 222h0M175.2 219.3h0M167.8 246.5h0M154.9 254.5h0M151.9 245.5h0M149.6 214.5h0M140.9 243.2h0M149.7 246.4h0M166.8 234.8h0M190.8 219.9h0M174.3 199.1h0M205.5 234h0M145.8 250.1h0M162.9 231.1h0M159.8 256.3h0M146.8 231.1h0M147 233.2h0M139.6 256h0M147.1 213.4h0M150.4 243.3h0M179.8 204.4h0M157.9 242.2h0M151.2 254.1h0M152.3 256.3h0M154.5 243.4h0M139.6 235.9h0M150.4 233.8h0M189.8 197.8h0M150.3 235.2h0M146.8 248.6h0M156.8 250h0M187.8 202.4h0M147.2 234.8h0M150.3 211.7h0M206.5 197h0M146.3 255.4h0M144.7 236.7h0M172.9 238.6h0M188.5 245.3h0M156.5 240.4h0M181.6 235.1h0M154 245h0M139.9 199.3h0M149.7 229.8h0M142.2 252.4h0M149.1 249.7h0M156 225.5h0M160.3 242.6h0M183.8 245.7h0M143.5 207.7h0M155.5 254.5h0M166.5 254.9h0M178.8 242.6h0M159.5 220.3h0M149.5 250.7h0M162.5 252.5h0M158.6 250.1h0M153.7 199.4h0M164.4 233.2h0M143.7 243.1h0M192.5 229.8h0M197.4 219.2h0M198.2 247.3h0M146.9 253.1h0M142.4 226.2h0M151.1 251.2h0" stroke="#ff3030" stroke-width="1.3" stroke-linecap="square" fill="none"/></g><text x="25.3" y="259.9" font-size="9.2" text-anchor="end" letter-spacing="-0.3" fill="#111">0</text><text x="25.3" y="186" font-size="9.2" text-anchor="end" letter-spacing="-0.3" fill="#111">100</text><text x="25.3" y="112.2" font-size="9.2" text-anchor="end" letter-spacing="-0.3" fill="#111">200</text><text x="25.3" y="38.3" font-size="9.2" text-anchor="end" letter-spacing="-0.3" fill="#111">300</text><text x="47.5" y="281.2" font-size="9.2" text-anchor="middle" letter-spacing="-0.3" fill="#111">-3</text><text x="107.3" y="281.2" font-size="9.2" text-anchor="middle" letter-spacing="-0.3" fill="#111">0</text><text x="167.1" y="281.2" font-size="9.2" text-anchor="middle" letter-spacing="-0.3" fill="#111">3</text><text x="226.9" y="281.2" font-size="9.2" text-anchor="middle" letter-spacing="-0.3" fill="#111">6</text><path d="M28 256.6H32M28 182.7H32M28 108.9H32M28 35H32M47.5 268V272M107.3 268V272M167.1 268V272M226.9 268V272" stroke="#444" stroke-width="1"/><text x="156.3" y="8" font-size="10.2" text-anchor="middle" fill="#111">Volcano plot</text><text x="155.7" y="293.6" font-size="10" text-anchor="middle" fill="#111">log2(FC)</text><text x="8.9" y="145" font-size="10.4" text-anchor="middle" transform="rotate(-90 8.9 145)" fill="#111">-log10(FDR)</text><text x="13.3" y="10.1" font-size="13" text-anchor="start" font-weight="bold" fill="#000">a</text><rect x="26.6" y="335.3" width="253.8" height="256.9" fill="none" stroke="#7a7a7a" stroke-width="1.4"/><clipPath id="cb"><rect x="27.3" y="336" width="252.4" height="255.2"/></clipPath><g clip-path="url(#cb)"><path d="M127.1 517.6h0M154.9 502h0M121.7 514.3h0M93.6 504.6h0M155.5 504.7h0M81.7 515.4h0M169 498.2h0M206.7 527h0M141.5 511.4h0M139.6 534.8h0M87.6 532.5h0M115.1 525.9h0M127.9 526.7h0M132.6 509.3h0M118.9 501.9h0M108.3 494h0M132.2 500.3h0M104.5 525.7h0M89.1 486.6h0M110.5 522.8h0M129.7 527.5h0M150.8 498h0M120.8 527h0M99.7 521.8h0M161.5 525.6h0M123.1 526.1h0M153.1 504.8h0M75.1 489.4h0M116 524.2h0M137.4 528.9h0M136.4 522.3h0M152.5 495.2h0M140.5 504.3h0M164.8 514.5h0M78.3 532.9h0M171.2 528.5h0M137.9 512h0M139.3 535.1h0M145.4 521.2h0M127 514.1h0M102.8 538.7h0M168.1 534.2h0M111.6 518.8h0M128.8 485.2h0M140.6 502h0M108.9 522.3h0M202.9 524.1h0M137.5 501.5h0M126 488.2h0M126.8 520.4h0M117.2 525.9h0M138.8 506.8h0M111.6 528.7h0M175.5 531.2h0M91.6 536.4h0M81.5 513.3h0M160 535.6h0M146.1 514.1h0M96.8 521.8h0M176.3 524.7h0M175.4 525.4h0M170.4 502.5h0M191.3 506.7h0M55.3 528.3h0M115 489.7h0M64.8 527h0M111.9 518.7h0M112.5 504h0M135.7 493.7h0M103.2 511.8h0M158.4 514.9h0M128.1 519.5h0M162.2 518.6h0M129.5 522.7h0M155.2 518.5h0M219.2 522.7h0M208.1 523.3h0M85.9 519.7h0M115 531.1h0M139.4 524.2h0M101.6 501.2h0M108 538h0M144.3 537h0M140 536.2h0M121.3 525.3h0M72.4 524.5h0M145.9 529.3h0M97.8 497.4h0M128.1 505.7h0M125.8 528.9h0M136.7 521.9h0M117.6 525.7h0M147.8 533.6h0M82.6 515.8h0M102.1 522.6h0M116.1 521.7h0M105 507.7h0M87.9 537.5h0M112.8 524.2h0M111.9 530.5h0M111.3 532h0M132 498.8h0M82.8 518h0M124.6 487.3h0M135.7 529.9h0M133.3 502.5h0M73.8 501.2h0M128 523.9h0M120.1 519.6h0M125.5 519.9h0M119.5 537.6h0M105.4 489.4h0M119 526.9h0M105.6 516.7h0M109.8 502.7h0M202.5 511h0M152.8 523.3h0M161 515.3h0M152.9 515.8h0M93.5 516.6h0M112.2 517.9h0M146.2 511.4h0M121.8 533.9h0M157.1 510.2h0M152.9 500.1h0M127.4 504.3h0M83.7 520.3h0M165.9 508.8h0M115.2 514.5h0M76.2 507.6h0M112.4 485.4h0M219.5 525.9h0M145.4 530.8h0M242.8 510.3h0M157.2 514.3h0M129 504.9h0M117.5 512.5h0M121.5 505.8h0M146 495.1h0M165.2 521.8h0M143.3 523.1h0M42.2 500.8h0M113.2 483.7h0M155.8 529h0M131.6 484.2h0M131.5 524.3h0M150.2 504.5h0M82 532h0M101.5 518.9h0M117.5 528.1h0M129.5 527.8h0M111.8 521.7h0M168.2 513.4h0M198.9 517.5h0M82.8 506.3h0M139.5 520.9h0M107.7 527.5h0M109.7 506.8h0M122.5 530.2h0M104.2 499.2h0M111.8 507.4h0M151.7 514.4h0M100.4 516.2h0M141.2 498.3h0M191.2 519.1h0M144.7 513h0M122.8 517.4h0M95.9 528.2h0M113.5 519.7h0M122.2 517.5h0M151.3 512.8h0M143 533.4h0M114.9 487.4h0M136.9 526.3h0M170.4 504.9h0M113.7 528.7h0M66.3 529.7h0M178.3 506.4h0M85.3 518.3h0M66 520.3h0M107.8 498.4h0M114 500h0M141 506.4h0M95.9 518.9h0M202.1 519.5h0M211.8 515.2h0M92.4 513.4h0M163.2 527.1h0M137.4 503.7h0M134.6 511.2h0M82 502.7h0M111.4 529.6h0M109.6 515.2h0M197.6 528.5h0M107.4 499.9h0M142.6 517.1h0M74 517.2h0M129.6 513.3h0M153.4 492.7h0M121.2 534.7h0M89.9 520.3h0M153.9 497.5h0M127.2 521h0M205.7 519.5h0M111.1 510.8h0M166.1 508.8h0M165.3 517.1h0M71.7 521.6h0M110.1 527.8h0M157.5 506.6h0M163.4 520.6h0M143.4 512.8h0M142.5 534.6h0M162.9 501.9h0M128.4 512.4h0M140.3 517.4h0M145.8 522.3h0M126 500.5h0M102.3 494.3h0M129.8 516.8h0M146.3 538.6h0M160.9 520.1h0M112.7 546.3h0M137.4 510.2h0M73 516.7h0M147.1 519h0M125.1 513.4h0M117.8 535.4h0M158.1 487.7h0M136.9 506.6h0M145.8 538h0M146 518.5h0M137.5 503h0M120.1 497.3h0M146.3 511.8h0M176 524.7h0M148.4 542.3h0M133.2 523.3h0M157.3 501.6h0M90.1 498.5h0M137.5 517.9h0M155.9 511.9h0M84.8 515.8h0M88.1 530.3h0M175.5 517.4h0M127.9 509.3h0M187.4 515.1h0M111.2 538.2h0M103.4 504.2h0M138.6 506.8h0M91.7 544.8h0M140.2 509.6h0M127.3 509.5h0M161 517.2h0M66.1 522.4h0M55.4 515.8h0M122.2 503.5h0M94.8 512.9h0M140 496.8h0M72.8 543.5h0M158.6 527.9h0M133.4 499.7h0M141.3 512.5h0M131.2 535.4h0M88.3 520.6h0M135.2 486.4h0M99.5 541.5h0M98.9 503.9h0M110.4 519.9h0M101.3 537.6h0M101.7 493.1h0M166.2 523h0M134.7 499h0M158.4 513.3h0M107.9 526.3h0M149.3 513.2h0M100.1 518.8h0M146.7 489.1h0M49 500h0M168.7 502.8h0M152.4 522.3h0M123.1 534.1h0M123.7 519.9h0M164.3 526.9h0M89.1 519.6h0M96.9 543.5h0M178.1 520.6h0M187.4 511.8h0M147.9 513.4h0M129.4 522.9h0M119.6 511.9h0M114.3 532.6h0M129.1 530.2h0M159.8 492.2h0M128.5 515.2h0M151.6 519.3h0M96 516.8h0M54.2 532.7h0M146.2 485.6h0M158.5 506.8h0M135.3 513.9h0M115.8 503.2h0M156.6 526h0M131.8 508.4h0M136.9 530.8h0M178.1 509.7h0M117.3 514.7h0M134.5 521h0M133.7 501.8h0M126 533.9h0M222.6 522.7h0M109.4 523.3h0M84.1 489.9h0M146.5 540.8h0M181.2 522.8h0M153.3 525.1h0M110.5 506.5h0M117.7 537.6h0M185.6 512.7h0M119.8 499.3h0M134.8 537.7h0M95.5 513.5h0M95.9 526h0M153.5 515.2h0M136.2 501h0M146.3 518.7h0M100.6 521.7h0M105.5 514.5h0M115.7 546.6h0M147.6 514.3h0M144.7 510.2h0M159.8 508.5h0M152.9 543.3h0M112.5 503.6h0M129.2 536.9h0M163.3 508.8h0M133.3 541h0M143.2 492.4h0M201.6 524.9h0M107.9 508.2h0M103 504.6h0M131.1 490.5h0M90 542.5h0M137.7 521.6h0M124.1 528.9h0M107.1 535.7h0M121.1 535.3h0M108.1 529h0M111.3 522.4h0M146.9 504.9h0M184.9 521.4h0M111.9 527.2h0M131.2 511.9h0M126.7 530.5h0M197.6 519.9h0M86 500.2h0M87.7 520.2h0M203.3 494.5h0M123.3 513.8h0M111.6 517.1h0M151.4 506.8h0M155.3 523.4h0M132.7 527.1h0M104.3 533.8h0M134.8 521.2h0M102.4 522.8h0M159.7 514.7h0M115.7 509.5h0M110.2 513.6h0M131.1 514h0M145.3 498.8h0M143.5 511.2h0M201.9 507.3h0M119.1 510.4h0M191.9 525h0M74.9 491.7h0M163.1 523.8h0M126.5 504.5h0M133.5 491.9h0M127.1 507.9h0M131.1 515.3h0M105.5 505.7h0M73.9 506.8h0M157.6 516.7h0M163.5 505.1h0M65.1 507.3h0M62.7 534.4h0M144.1 523.6h0M157 517.2h0M160.4 536.8h0M153.9 515.1h0M115.2 508.6h0M147.7 530.6h0M136.3 506.7h0M119.1 516.5h0M91.2 532.2h0M129.5 525.4h0M134.1 504.4h0M167.9 503.8h0M123.3 529.5h0M135.3 507.6h0M131.2 498.7h0M162.1 529.8h0M118.5 500.8h0M145.1 506h0M130.5 511.3h0M147 528.4h0M144.6 499.4h0M98 521h0M112.1 512.1h0M115.4 521.3h0M120.1 520.5h0M144.8 515.6h0M133.3 502.8h0M106.6 526.6h0M104.1 513.1h0M92.3 500.7h0M94.6 508.7h0M88.7 512.9h0M119.4 526.3h0M166.6 524h0M117.4 498.1h0M136 497.5h0M167.8 513.6h0M107.5 498.1h0M120.4 523.1h0M107.1 520.7h0M137.3 531.1h0M135.5 518.9h0M65.3 544.8h0M140.5 524.5h0M114.7 519.5h0M115.1 532.5h0M107 482.5h0M99.4 512.1h0M114.3 520.5h0M95.7 528.1h0M146.6 509.8h0M175.7 503.9h0M122.4 510.3h0M124.9 538.8h0M84.7 515.8h0M107.6 534.3h0M149 515.2h0M133.7 498.3h0M89.4 532.4h0M136.3 516.5h0M136.2 491.7h0M116.5 505.3h0M147.6 498.9h0M125.3 540.3h0M136.2 483.8h0M120.5 541.1h0M144.9 498.8h0M138.2 526.5h0M169 527.8h0M145.2 542.1h0M130.6 504h0M131.6 517.2h0M135.4 509.1h0M86.9 504.7h0M125 521h0M122 509.4h0M115.3 506.6h0M132.6 530.2h0M112.9 543.6h0M115.1 533.4h0M134.9 505.7h0M144.9 498.5h0M112.1 515h0M162.7 540.1h0M110.5 523h0M106 501.4h0M160.2 515.5h0M105.7 515.2h0M122 503.1h0M165.5 511.5h0M175.4 513h0M141.9 507h0M119.3 545.1h0M116.4 521.1h0M141.4 517.3h0M96.2 529.8h0M115 518.9h0M223.6 492.6h0M143.9 505.2h0M87.5 512.3h0M138.6 524.4h0M102.8 536.6h0M123.6 517.9h0M99.8 500.5h0M109.7 522.9h0M143.8 490.2h0M134.5 501.8h0M113.7 518.8h0M158.7 506.5h0M125.4 521.5h0M145.3 520.2h0M154 534.8h0M120.4 510.9h0M181.1 507.9h0M81.5 500.2h0M124.8 521h0M124.4 503.1h0M88.9 511.8h0M101.9 526.1h0M133.8 523.4h0M124.6 491.9h0M111.9 530h0M99.9 521.7h0M127.7 540.9h0M125.6 520.3h0M104.4 523.5h0M123.5 499.4h0M134 543.5h0M132.8 529.6h0M110.1 523.8h0M111.4 498.3h0M183.5 536.3h0M104.7 521.2h0M133 528.5h0M154.2 526.2h0M123 517.4h0M109.9 522.8h0M133.9 534.7h0M117.3 529.8h0M228.2 514.8h0M153 504.7h0M114 505.3h0M154 503.5h0M124.7 509.3h0M97.5 506.4h0M148.4 534.5h0M197.9 527.5h0M117.5 504.4h0M68.2 519.7h0M155.7 532.9h0M104.3 528.8h0M87.3 521.6h0M73.8 525.9h0M189 525.1h0M115.4 505.9h0M97.2 512.9h0M119.8 506.9h0M121.6 526.1h0M93.3 505.1h0M111.2 506.9h0M131.6 525.7h0M190.3 518.5h0M99.2 494.8h0M129.8 522.2h0M166.1 517.5h0M139.3 495h0M166.4 512.2h0M103.1 541h0M139.2 534.6h0M148 536.6h0M111.2 507.5h0M168.7 506.1h0M101 510.5h0M188.4 518.3h0M162.5 503.7h0M136 519h0M136.5 509.8h0M161.5 504.9h0M102.5 525h0M99.4 545.3h0M142.4 523h0M117.4 515.9h0M108 536.4h0M105.9 521.9h0M112.2 523.7h0M130.8 526.2h0M104.3 486.5h0M105.7 537.8h0M96.4 530.8h0M141.8 520.9h0M123.7 507.6h0M91.3 514h0M191.8 522.6h0M143.3 501.4h0M160.8 521.3h0M176.1 520.4h0M135.8 513h0M101 515.3h0M107.3 537.8h0M146.5 525.5h0M107.8 518.1h0M188.9 529h0M85.4 518h0M130.8 516.8h0M104.6 508.8h0M129.5 525.8h0M117.8 519.8h0M101 526.5h0M108.5 509.9h0M132.9 510.2h0M132.4 523.2h0M145.5 522.9h0M94.5 511.7h0M153 505.7h0M103.3 541h0M220.3 530.6h0M115 544.3h0M140.9 508.7h0M113.9 528.8h0M104.8 533.8h0M105.5 530.7h0M61.7 513.3h0M121.8 519.6h0M183.3 525.3h0M95.7 510.3h0M144.4 516.4h0M73.9 536.4h0M118.6 495.7h0M96.4 507h0M141.8 513.6h0M126.9 502h0M174.6 517.3h0M180.3 525.8h0M140.9 541h0M171.6 534.1h0M99.1 531.5h0M139.7 527.9h0M174.1 516h0M129.6 486.1h0M141.5 514.9h0M155.3 506.8h0M153.8 540.3h0M116.9 525.3h0M123.4 510.4h0M134.7 518.2h0M77.9 540.2h0M132.9 520.3h0M171.1 514.3h0M150.9 512h0M126.6 530.4h0M142.8 522.4h0M171.9 513.8h0M138.7 519.7h0M128.1 500.9h0M126.7 513.2h0M127.3 513.5h0M123 534.2h0M161.2 505.7h0M154 521.2h0M129.1 523.7h0M135.7 534.8h0M124.3 498.5h0M81.5 532.1h0M89 520.3h0M172.8 529h0M107.9 505.3h0M122.9 501.4h0M113.1 501.5h0M155.9 541.6h0M114.2 512h0M171.4 513.8h0M135.8 527.4h0M126.3 506.6h0M113.3 512.5h0M147.9 518.1h0M119.4 532.3h0M100.9 497.5h0M133.5 537.7h0M123.8 532.5h0M110.8 523.3h0M91.3 511.8h0M135.1 522.4h0M149.2 516.9h0M124.3 503.8h0M173.9 500.1h0M68.9 541.8h0M127.5 528.6h0M133.3 527.5h0M98.5 509.5h0M110.4 513.5h0M182.6 526.4h0M98.5 512.5h0M147.3 522h0M95.7 500.3h0M172 498h0M121.2 516.4h0M117.3 498.6h0M89.7 528.5h0M151.3 513.7h0M105.3 515.8h0M139.2 531.6h0M104.9 534.9h0M219.6 513.5h0M109.4 513.8h0M86.9 513h0M105.2 501.1h0M114.6 504.1h0M177.8 517.5h0M171.3 526.6h0M122.1 503.3h0M193.4 512.8h0M161.5 513.8h0M142.5 515.7h0M145 522.7h0M85.9 538.3h0M128.8 529.9h0M152.7 530.6h0M126.4 523h0M106.9 546.3h0M263.7 522.7h0M187.9 485.4h0M179.9 502.3h0M91.6 522.4h0M208.8 501.8h0M116 498.4h0M159.5 514.4h0M107.5 489.3h0M151.4 508.7h0M141.7 541h0M231 517h0M127.7 546.3h0M142.1 517.2h0M119.6 509.4h0M165.2 524h0M150.6 511h0M186.9 519.8h0M160.6 520.8h0M126.9 503.2h0M168.6 525.9h0M122.4 493.3h0M118.9 538.3h0M124.5 534h0M127.6 519.6h0M112.2 498.9h0M111 530.6h0M114.7 506.2h0M83.8 528.3h0M116.5 524.7h0M125 499.3h0M145.4 514.8h0M132.8 503.3h0M114.1 526.6h0M134.5 519.5h0M101.6 503.3h0M97 511.8h0M128.8 499.4h0M116.5 535.4h0M111.6 517.3h0M87.1 516h0M143.3 522.9h0M153.6 528.4h0M85.9 526.8h0M136.1 511.6h0M144 511.7h0M96.4 487.1h0M151.6 498.1h0M101 511.3h0M88.8 528.5h0M132.2 532.7h0M155 530.9h0M139.6 500.3h0M110.1 501.7h0M113.9 520.5h0M119.2 512.3h0M127.2 515.2h0M119.9 513.8h0M129.9 521.2h0M105.8 529.9h0M121.8 503.3h0M121.5 523.9h0M130.6 517h0M176.7 524.8h0M137.1 513.1h0M129.6 529h0M154.8 534.8h0M108.7 512.9h0M160.2 502.5h0M162.4 513.1h0M80.5 535.7h0M131.7 533h0M119.6 498.4h0M158.5 528h0M172.9 497.9h0M116.9 500.5h0M144 510h0M137.4 525.1h0M147.1 526h0M152.1 521.3h0M97.6 541.5h0M205.5 528.5h0M156.9 501.2h0M76 523.9h0M130.7 516.3h0M119.8 506.9h0M112.9 512.3h0M134 495.5h0M113.7 536.8h0M167.2 528.2h0M165.8 519.1h0M107.5 532.3h0M139.8 515h0M114.9 520.9h0M140.3 501.2h0M106 522.4h0M147.1 511.6h0M91 530.2h0M144 536.5h0M146.7 511.8h0M99.9 500.4h0M124.3 517.4h0M91.4 507.8h0M183.6 517.9h0M137.1 522.8h0M144.9 517.1h0M107.5 521.9h0M101.4 508h0M125.7 538.4h0M147.3 521.6h0M99.2 500.2h0M156.2 531.4h0M129.1 508.5h0M191.6 502.8h0M167.7 519.3h0M103.3 523.9h0M160.8 522.6h0M122.6 523.6h0M119.5 532.9h0M142.7 522.2h0M110.4 504.1h0M117.2 507.1h0M121.8 513.8h0M111.9 534.5h0M138.7 516.3h0M144.8 535.6h0M167.6 491.5h0M89.9 536h0M137.1 520.2h0M131.6 492.2h0M99.1 518.5h0M98.2 522.1h0M134.1 518.7h0M149.2 526.5h0M91.7 521.7h0M94 541.5h0M71.6 500.5h0M143.9 520h0M97.8 498.4h0M130 502.6h0M135.8 516.4h0M124.9 515.6h0M128.3 521.1h0M102.1 503.8h0M114.9 493.5h0M94.6 515.8h0M80.7 521h0M139.9 511.9h0M98.8 505.7h0M71.4 519.6h0M146.3 509.6h0M129.6 541.8h0M135.6 536.2h0M41.7 514h0M157.6 534.3h0M114.2 528.8h0M117.1 520h0M161 522h0M127.6 539.8h0M177.5 502.7h0M166.9 518.6h0M97.1 535.2h0M148.5 510.1h0M110.8 515.8h0M128 510.3h0M268.3 524.7h0M131.8 509.7h0M127.2 528.9h0M127.4 526.2h0M143.3 519.8h0M117.3 515.9h0M126.8 497.3h0M174.7 516.7h0M171.3 521.8h0M180.7 512.3h0M110.6 521.1h0M64.9 523.6h0M145.4 520.4h0M132.4 483.7h0M141.6 493.9h0M127.9 532.2h0M136.3 500.2h0M139.9 496.4h0M215.8 515.4h0M149.9 527.7h0M158.6 523.4h0M132.7 513.7h0M117.5 527h0M115.6 541.7h0M115.7 510.2h0M120.1 531h0M103.6 536.3h0M161.6 517.5h0M85.9 537h0M105.9 528.7h0M112 531.7h0M160.3 515.6h0M117.5 543.9h0M127.2 543.7h0M148.8 521.9h0M160 504.2h0M111.3 483.1h0M89.1 534.8h0M160 521.4h0M134.3 494.5h0M152 515.6h0M171.8 520.2h0M39.5 519h0M89.6 491.1h0M88.6 507.2h0M55.7 537.5h0M70.8 521.5h0M124 533.3h0M152.4 523.5h0M143.8 541.4h0M134.6 516.5h0M147 502.7h0M122.4 515.2h0M139.2 504.3h0M122.5 505.9h0M116.9 519.8h0M161.4 510.3h0M114.5 510.6h0M116.4 520.8h0M102.5 515.2h0M116.8 525h0M119.5 515.3h0M139.8 514.7h0M144.8 501.6h0M204.4 516.6h0M144.2 507.3h0M143.9 510.9h0M128.9 511.2h0M157.9 516.1h0M154.7 508.3h0M129 503.8h0M144.8 508.4h0M142.6 523.1h0M107.4 530.7h0M178.2 523.8h0M139.8 513h0M173.2 526.6h0M157.3 525.6h0M173.7 522.4h0M142 507.5h0M107.7 524.1h0M95 525.8h0M183.5 527.8h0M136.7 515.3h0M47 517.4h0M148.6 522.7h0M103.8 491.2h0M131.9 497h0M115.7 513.5h0M109.6 519.6h0M113.7 500.5h0M126.4 509.6h0M110.1 544.2h0M95.5 504.5h0M114.5 508.2h0M150.6 522.6h0M132.1 503.8h0M67.1 493.3h0M134.5 527.4h0M119.5 521.1h0M143.2 537.2h0M99 533h0M170.6 526.6h0M124 492.7h0M129.5 524.6h0M140.1 502.6h0M150.5 539.2h0M120.2 529.1h0M130.3 487.2h0M134.9 536.6h0M110.5 527.5h0M189.7 527.5h0M148.2 522.9h0M141.1 508.7h0M120.5 538.5h0M99.5 530.1h0M111.4 528.4h0M158.2 538.8h0M164.4 515.5h0M150.2 487.9h0M119.1 532.3h0M174.2 516.5h0M142.5 503.1h0M136.7 528.9h0M122.1 516.2h0M148.1 508.6h0M219.9 526.7h0M153.6 524.1h0M127 486.6h0M167 518.3h0M95.1 531.8h0M130.7 511.3h0M123.3 529.5h0M88.3 536.1h0M108 509.5h0M107.9 517.5h0M149.5 509.3h0M130 506.1h0M54.1 489.9h0M115.8 538.1h0M114.8 496.1h0M157.7 497.7h0M166.1 519.8h0M84.4 532.9h0M159.8 520.8h0M131.7 510.6h0M157.9 523.3h0M74.5 524.2h0M135.5 506.3h0M95.5 538.6h0M101.6 543.9h0M127 533.9h0M90.9 506.6h0M90.2 546.7h0M167.3 533h0M101 531.5h0M139.6 519h0M114.2 513.1h0M145.1 523.7h0M128.5 517h0M89 526.6h0M160.7 525.4h0M140.6 511.5h0M124.3 508.1h0M189.8 509.4h0M121 538.3h0M94.2 535.2h0M147.7 507.2h0M72.2 514.7h0M159.1 504.9h0M111.4 500h0M169.9 506.5h0M140 516.9h0M186.7 525.4h0M126.3 512.9h0M142.4 524.7h0M194.8 524.7h0M133.7 542.1h0M186 519.7h0M131.4 514.7h0M158.3 531h0M142.2 526h0M146.5 524.5h0M159.1 525.4h0M163.4 509.9h0M111.3 496.8h0M121.2 534.4h0M137.5 501.6h0M121.6 518.6h0M170.6 507.6h0M120.1 515.2h0M144.5 520.1h0M126 528.8h0M58.1 522.9h0M113.4 500.7h0M134.7 502h0M131.1 513.3h0M97.7 516.3h0M156.8 515.8h0M147.6 544.4h0M120.3 530.5h0M94.4 515h0M106.9 514.6h0M132.6 508.5h0M155.4 515.1h0M184.6 504.2h0M99.5 521.3h0M121.5 513.9h0M130.3 519.3h0M127.6 526.7h0M136.7 530h0M134.8 499h0M133.7 538.4h0M140 532.9h0M120.3 501h0M84.9 501.3h0M139.6 511.2h0M138.2 531.6h0M107.5 520.6h0M131 529.6h0M133 515h0M137.9 490.3h0M134.5 497.9h0M125.1 537h0M138.8 546.8h0M96.6 519.7h0M113.4 499.8h0M118.1 512.8h0M113 529.7h0M149.6 538.7h0M157.4 530.3h0M125.8 495.4h0M149.5 503.2h0M141.3 520.3h0M112.9 519.3h0M114.1 541.6h0M120.9 532.4h0M178.1 531h0M162.2 509.3h0M148.3 493.4h0M112 499.9h0M156 536.4h0M66.6 526.3h0M134.8 510.1h0M143.7 519.4h0M123.5 506.8h0M119.1 530.4h0M126.2 514.7h0M189.8 522h0M67.1 504.7h0M141.9 504.5h0M151.1 502.8h0M160.7 509.3h0M165 531.7h0M159.9 505.7h0M116.8 509.5h0M161.3 507.2h0M149.7 518.1h0M160.1 493.8h0M129.6 519.8h0M142.6 531h0M61.4 540.6h0M55.3 518.5h0M142.4 516h0M123.2 505.8h0M120.8 537h0M173.9 536.6h0M83.5 524.8h0M158 511.2h0M112.8 530h0M147.4 526.5h0M120 523.5h0M122.8 508.5h0M105.6 494.5h0M61.1 487.3h0M107.2 514.6h0M101.7 511h0M126.7 509.4h0M100.5 507.6h0M109.7 524.5h0M134.2 530.3h0M115.3 501.6h0M176.1 504.5h0M165.4 508.6h0M175.5 531.7h0M132.7 530.5h0M159.1 519h0M143.8 520.8h0M182.6 513.9h0M109 536.7h0M133.8 509.5h0M113.3 534.5h0M118.1 523.1h0M161.3 520.6h0M117 513.7h0M114.9 511.3h0M126.6 516.1h0M94.3 511h0M107 537.6h0M184.4 532.3h0M119.5 523.7h0M92.1 524.5h0M135.9 513.2h0M87 494.7h0M171.9 512.5h0M126.9 519.6h0M132.8 519.4h0M122.7 516.7h0M126.8 513.5h0M224 527.1h0M126.7 505.7h0M126.1 525.3h0M122.8 521.3h0M102.4 525.2h0M157.2 509.5h0M134.4 508.7h0M123.2 530.3h0M137.3 516.6h0M164.5 517.2h0M109.4 515.8h0M131.6 513.7h0M128.8 521.7h0M112.3 495.1h0M149.2 526.5h0M119.3 517.8h0M116.5 518.2h0M78.7 512.6h0M104.3 522.1h0M147.6 506.4h0M139.2 493.8h0M168.2 528.3h0M137.8 514.8h0M178.7 521.9h0M156.4 533.8h0M140.1 524.4h0M133.1 533.3h0M120.6 527.1h0M125.8 537.3h0M156.4 512h0M129.6 529.1h0M130.2 508.1h0M113 488.3h0M86.3 487.9h0M121.1 525.5h0M98 519.3h0M175.7 518.8h0M201.4 526.5h0M148 529.9h0M104.2 509.5h0M115.5 502.8h0M165.6 497.4h0M148.6 514.3h0M84.4 504.7h0M114.6 497.9h0M119.7 521.6h0M114.7 510.7h0M141.7 510.8h0M153.4 492h0M256.1 535h0M165.6 508.2h0M100.5 489.7h0M108.6 523.6h0M104.5 513.1h0M107.8 511.5h0M140.5 512.6h0M203.7 509.5h0M131.1 533.7h0M125.8 506.3h0M181.6 511.2h0M79.5 494.5h0M121.1 518.4h0M109.5 491.3h0M133 526.5h0M130.9 503.6h0M59.7 506.2h0M112.7 525.8h0M164.8 514h0M169.9 502.1h0M114 504h0M155.5 522.4h0M184.9 505.8h0M147.7 517.2h0M74.5 528.3h0M133.3 521.3h0M84.1 518.3h0M181.4 527.7h0M137.4 494.3h0M126.3 500.4h0M124.5 517.1h0M147.3 496.9h0M160.2 504.7h0M167.3 520.8h0M52.5 529.7h0M140.7 506.2h0M119.5 527.1h0M120.1 525.2h0M83.5 537.4h0M120.3 532h0M126.7 513.9h0M173.8 533.1h0M88.9 507.1h0M108.2 502.4h0M122.8 493.9h0M115.8 521.1h0M118.1 542.4h0M120.1 488.3h0M113.8 526.5h0M86.5 542.7h0M117.6 512h0M171.4 530.8h0M148.5 498.6h0M117.5 485.1h0M45.2 522.3h0M122 500.3h0M144.4 515.5h0M101.3 498.4h0M104.6 516.7h0M108.8 519.6h0M122.2 533h0M119.5 505.8h0M104.3 496.7h0M143.6 519h0M107.5 530.2h0M95.6 538.9h0M104.3 495.1h0M145.8 517.4h0M154.9 508.6h0M119.7 536.3h0M131 537.2h0M164.3 497.4h0M176.7 521.3h0M150.5 506.8h0M110.3 523.7h0M124 525.4h0M113.4 514.9h0M105.9 517.2h0M150.5 515.7h0M131.8 514.3h0M139.1 509.8h0M167.6 516.6h0M124 524.4h0M114.8 495h0M108.1 496h0M157.6 508.7h0M166.3 518.4h0M116.7 493.6h0M124.2 519.6h0M139.3 524.6h0M114.1 517.5h0M219.1 514.6h0M144.9 531.3h0M113.3 519.7h0M104.2 501.8h0M142.3 528.2h0M115.7 498h0M115.3 540h0M127.4 488.7h0M139.7 526.1h0M100.6 490.7h0M92.3 541.1h0M97.1 519.3h0M137.2 528h0M116.6 530.7h0M82.2 511.7h0M113.7 516h0M138.6 500.6h0M168.5 537.8h0M147.6 502.4h0M98.1 509.3h0M98.5 520.1h0M112.5 489.8h0M167 519.6h0M152.1 503h0M119.1 523.9h0M127.3 530.6h0M93.2 507.4h0M144.5 509.5h0M159.3 518.3h0M138.9 499.4h0M157.1 505.3h0M158.6 525.1h0M115 492.5h0M153.9 505.1h0M115.5 513.7h0M121.4 528.9h0M138.1 508h0M97.8 505.6h0M140.9 538.9h0M132.2 523.4h0M147.1 500.9h0M121.1 530.9h0M89.2 519.8h0M168.4 526h0M129 538.2h0M115 535h0M96.9 524.5h0M146.1 535h0M155.6 495.4h0M157.1 516.2h0M262.3 508.4h0M57.4 536.8h0M127.1 525.8h0M168.9 519.7h0M122.9 505.2h0M124.6 540.6h0M115.2 508.6h0M101.3 519.5h0M122.3 518.2h0M112.8 526.8h0M124.6 517.3h0M159 505.6h0M191.9 502.7h0M103.8 537.6h0M113.2 542.6h0M168.4 523.1h0M133.9 526.8h0M123.4 524.4h0M123.7 532.7h0M159 500.6h0M148 528h0M126.9 500.8h0M126.2 530.1h0M145.6 510.8h0M157.4 541.6h0M151.9 521.4h0M146.8 512.3h0M116.6 502.2h0M103 513.8h0M131.6 519.5h0M67.9 519h0M110.4 532.3h0M62.6 522.4h0M227.9 510.2h0M136 521h0M120.2 523.6h0M88.2 519.9h0M181.7 507.9h0M107.5 532.2h0M118 509h0M140.5 528.2h0M139.6 520.1h0M105.3 506.4h0M139.8 492.8h0M169.9 545.4h0M163.8 519.8h0M158 492.4h0M89.1 521.1h0M135.5 514.9h0M75.5 523.2h0M102.7 521.3h0M159.7 521.8h0M109.5 509.4h0M110.6 500h0M182.5 506.3h0M124.9 529.4h0M151.7 523.9h0M91.9 504.6h0M149.8 513.7h0M129.5 500.2h0M154.3 513.4h0M105.5 532.5h0M163 509.5h0M111.7 511.4h0M180 518.9h0M114 502.1h0M148.3 518.5h0M117.7 514.2h0M129.7 509.9h0M160.6 517.4h0M109.6 512h0M115.8 488.7h0M121.8 503.3h0M91.5 500.5h0M144.1 532.6h0M111.5 494.7h0M139.8 530.1h0M115.9 511.3h0M143 514.4h0M88.8 485.7h0M100.2 487.7h0M136.6 527.3h0M109.7 538.8h0M166.3 510.7h0M110.2 501.1h0M131 533.7h0M131.3 509.1h0M168.6 496.7h0M120.7 534.4h0M136.7 501.8h0M112.9 501.7h0M92.9 526.8h0M140.2 542.1h0M103.5 512.2h0M137.3 519h0M115.4 510.2h0M168.6 520.6h0M101.6 518.4h0M122.5 529.5h0M130.6 513.7h0M121.1 525.3h0M113.7 515.2h0M135.6 529.1h0M112.6 525h0M158.1 517.1h0M144.8 529.5h0M104.6 527.7h0M106.2 522h0M140 525.8h0M175.9 504.9h0M119.1 520.5h0M241.7 526.9h0M121.2 513.2h0M140.3 528.2h0M99.8 511.8h0M147.8 536.4h0M130.1 519.6h0M159.4 528.8h0M137.1 501.9h0M119.6 487.7h0M145 511.1h0M123.1 497h0M81.2 491h0M145.9 502.3h0M97.2 525.8h0M75.4 527.3h0M135.9 520.5h0M83.5 516.3h0M84.6 514.3h0M150.9 514.3h0M205.5 504.3h0M116.9 518.5h0M103.1 523.4h0M141.6 509.6h0M157.9 490.2h0M178 518h0M140.5 493.5h0M112.7 503.1h0M91.9 506.1h0M198.4 515.1h0M155.7 496.7h0M113.9 522.2h0M115.7 527h0M138 506.5h0M112.2 528h0M93.4 504h0M130.3 524.4h0M134.4 514.9h0M115 520.6h0M130.8 526.6h0M148.2 504.4h0M118.5 514.3h0M205.2 522.5h0M178.6 500.7h0M165.9 530.3h0M119.8 516.9h0M148.2 542.5h0M107.5 491.1h0M143.4 542.8h0M169 525.3h0M125.6 517.2h0M84.7 493.4h0M130.9 503.8h0M136.8 510.5h0M185 517.3h0M101.4 527.1h0M133.8 526.8h0M106.9 524.4h0M116.3 501.7h0M163.9 534.8h0M92.4 535.9h0M109.5 523.5h0M158.4 528h0M148.9 509.1h0M130.9 501.2h0M150.7 511.1h0M93 539.3h0M98.5 502.5h0M100.5 514.8h0M132.5 532.7h0M150.2 499.9h0M91.1 497.8h0M135.6 494.3h0M123.7 519h0M150.8 522.2h0M130.1 514.4h0M91.4 528.4h0M165.4 505.4h0M172.6 526.7h0M139.2 520.8h0M160.5 535.1h0M123.1 540.4h0M143.1 522.4h0M140.7 521.7h0M111 504.7h0M146.3 516.8h0M136.6 534.9h0M138.4 520.5h0M134.1 529.3h0M91.2 485.9h0M146 510h0M95.5 516.1h0M113.3 491.1h0M96.1 532.6h0M72.5 511.6h0M164.1 506.2h0M97.7 508.5h0M117.4 529.9h0M138.5 522.9h0M78.9 505.1h0M143.7 500h0M144.1 518.1h0M103.5 543.2h0M163.2 503.6h0M175.6 507.5h0M146.3 524.8h0M82.8 524.5h0M134.9 530.1h0M152.6 517h0M173.5 531.8h0M142 525.7h0M128.4 493.5h0M112.8 511.8h0M126 520.5h0M136.8 524.5h0M95 536.9h0M110.6 511.8h0M112.1 522.5h0M148.4 538.4h0M143.2 514.8h0M181.8 518.8h0M120.5 536.1h0M70.1 506.2h0M112.4 509.6h0M106.6 515.3h0M180.2 532.5h0M139.7 516.6h0M94 535.4h0M98.4 533.1h0M89.2 523.2h0M184.1 499.3h0M118.1 498.6h0M131.5 530.6h0M114.7 515.4h0M49.6 534.2h0M137 495.8h0M130.9 512.1h0M117.7 526.1h0M134.4 518.4h0M147.1 515.9h0M124.5 495.8h0M158.4 521.5h0M153.8 521.2h0M140.5 510.3h0M116.4 509.3h0M72 520.4h0M153.9 496.8h0M146.8 516.4h0M69.6 517.1h0M191.7 530h0M126 496.2h0M148.4 517.2h0M130.8 525.3h0M117.2 516h0M151.4 530.8h0M81.5 499.8h0M133.8 503.1h0M106.6 530.4h0M119.8 534.6h0M151.3 506.4h0M140.9 523.3h0M115.4 515.6h0M131.8 517.2h0M82.8 491.8h0M136.1 539.7h0M122.6 501.1h0M147.1 528.3h0M100.6 522h0M131.1 526.3h0M132.5 507.7h0M45.1 509.9h0M139 498.7h0M179.4 506.8h0M96.7 506.9h0M133.9 491.3h0M172.5 528.5h0M207.6 512.2h0M118.9 526.9h0M111.8 529h0M116.1 499.4h0M95.1 502.5h0M107.3 517.6h0M117 490.4h0M152.6 513.3h0M125.6 504h0M149.5 508.2h0M101.3 516.5h0M131.5 529.6h0M112.7 522.2h0M128.7 524.6h0M158.1 514.5h0M86.8 501.6h0M143.6 499.6h0M155.9 523.8h0M139.6 506.7h0M132.8 503.6h0M132.9 528.1h0M139.3 527.8h0M80.8 504.2h0M104.2 512.4h0M206.4 514h0M178.6 517.6h0M125 496.5h0M137.4 514.5h0M146.3 501.6h0M159.1 509.9h0M117 497.7h0M124.8 509.6h0M129 521.4h0M134 517.4h0M164.4 513.8h0M114.1 506.8h0M54.3 510h0M152.8 516.8h0M102.4 522.7h0M149.6 519.4h0M107.2 521h0M50.8 485.4h0M131.9 513h0M143.8 524.8h0M110.7 507.8h0M63.7 504h0M60.4 525.7h0M151.5 502.3h0M146.7 503.2h0M122.2 512h0M157.7 525.3h0M144.6 516.7h0M127.1 541.9h0M113.7 516.1h0M114.8 527.6h0M52.6 525.1h0M142.8 484.9h0M170.5 522.5h0M95.9 521.2h0M133.5 538.5h0M231.4 521.6h0M161 499.8h0M153.8 522.9h0M116.6 526.1h0M79.1 534.8h0M128.9 520.8h0M143 510.2h0M139.8 491.8h0M135.5 500.5h0M102.3 513.1h0M142.3 512.6h0M111.8 530.8h0M87.6 524.7h0M152.4 508h0M158.3 512.2h0M200.8 514.1h0M184.3 519.7h0M129 520h0M120.8 519h0M118.9 496h0M228 520.2h0M131.9 516.1h0M150.5 536.4h0M144.4 536.8h0M126.2 510.9h0M78.3 535.9h0M129.4 513.5h0M130.7 517.2h0M157.2 522.4h0M107.9 527.6h0M154.3 523.6h0M128.1 515h0M109.4 525.1h0M161.5 494.6h0M127 544h0M162.2 512h0M128.9 535h0M173.3 526.9h0M74.4 509.2h0M139.2 513.3h0M130.2 524.3h0M111.2 513.2h0M112.8 509.6h0M148.5 518.5h0M139 524.7h0M171.2 503.9h0M150.1 509.4h0M156.8 523.8h0M117.7 531.7h0M132.7 507.4h0M114 530.4h0M121.6 524.7h0M160.6 505h0M146.2 501.8h0M123.8 531.7h0M105.5 495.8h0M118.3 494.9h0M107.8 531.4h0M130.7 515h0M126 495.3h0M92.3 499h0M109.3 534.9h0M133.1 522.5h0M63 519.6h0M133.1 486.8h0M141.9 513.5h0M118.9 508.3h0M150.8 500.5h0M63.7 507.7h0M79.2 516.6h0M41.6 535h0M127.5 503.5h0M205.3 514.1h0M133.6 526.6h0M123.1 498.6h0M100.9 504.9h0M117.1 540.9h0M106.8 521.3h0M136.3 521.4h0M156.5 504.3h0M137.4 512.9h0M121.4 527.1h0M122 504.4h0M118.7 537.6h0M110.3 515.9h0M135.8 531.4h0M136.7 511.9h0M113.8 531.3h0M128.1 512.9h0M95 516h0M158.7 526.3h0M145.4 537.1h0M132.6 523.6h0M151.9 528.5h0M174.2 502.2h0M154 503.7h0M115.6 515h0M101.3 494.6h0M153.9 516.6h0M135.6 526.7h0M112.4 499.5h0M129.8 499.8h0M102.3 518.8h0M105 522.7h0M123.9 539.9h0M139.9 508.7h0M109.1 487h0M129.5 504.5h0M132.9 519.1h0M151.8 519.6h0M115 505.4h0M192.6 506h0M89.8 525.6h0M254.2 498.2h0M126.4 493.3h0M121.2 489.7h0M139.3 523.8h0M185.2 522.7h0M134.2 516.2h0M91.6 502.4h0M117.1 497.1h0M144.7 522.5h0M98.8 540.1h0M132 523.6h0M200.1 512.9h0M108.3 526.1h0M85.2 507.3h0M144.4 541.5h0M82.9 521.3h0M120.8 497h0M174.8 505.2h0M146.3 517.9h0M133 533.3h0M120.1 494h0M81.5 505.3h0M151.2 507.9h0M149.1 542h0M145.2 544h0M58.6 523.4h0M139.3 507.6h0M125.9 499.7h0M130.3 526h0M106.1 524h0M182 510.2h0M116.2 503.1h0M138.4 512.8h0M75.6 532.3h0M181.2 510h0M112.1 531.7h0M164.2 529.1h0M153 505.5h0M136.3 493.6h0M126.9 507.7h0M46.2 508.4h0M126.8 500.4h0M111.2 482.9h0M146.3 539.6h0M157.3 535.4h0M193.9 511.1h0M104.1 493.1h0M168.6 513h0M122.5 500.5h0M166.2 518.9h0M125.8 520.7h0M125.7 503.7h0M133.1 538.6h0M132.8 509.6h0M151 519.9h0M94.8 522.7h0M164.9 521h0M123.9 531.6h0M137.3 514.6h0M130.9 517.2h0M99.3 524.6h0M182 520.1h0M107.5 539.6h0M145.5 514.3h0M143.6 533.5h0M113.3 507.9h0M101.8 530.5h0M187.8 524.7h0M97.8 510.1h0M108.5 526.4h0M137.2 505.4h0M115.9 515.6h0M132.5 523.9h0M126.4 519h0M129.2 503.2h0M144.5 507.9h0M140.7 501.7h0M104.1 524.4h0M128 525h0M126 509.2h0M118.7 512.2h0M105.7 518.9h0M124.9 486h0M156.3 519.4h0M104.2 529.9h0M85.7 495.4h0M92.8 512.1h0M145.8 535.7h0M101.5 490.3h0M143.1 517h0M103.7 532h0M159.9 504.4h0M124.6 507.6h0M145.6 497.1h0M128.4 518.9h0M175.8 507.3h0M80.5 538.9h0M136.4 526.3h0M171.2 515h0M111.1 518.3h0M145.8 511h0M135.2 496.4h0M154.6 507.6h0M187.2 517.3h0M118.6 492.6h0M125.1 516.3h0M111.6 532.4h0M130 506.9h0M126.6 534.9h0M128.5 542.3h0M133.8 512.2h0M159.7 501.9h0M129.9 500.7h0M141.1 505.6h0M108.8 510.1h0M111.1 510.8h0M183.5 524.8h0M162.2 526h0M153.7 527.1h0M103.8 546.1h0M140.3 507.4h0M111.5 510.2h0M108.9 514.6h0M115.3 509.6h0M158.7 506h0M135 508h0M89 520.7h0M117.8 532.8h0M115.8 507.7h0M122.3 521h0M120.6 511.2h0M132.5 505.4h0M185.3 526.1h0M164.1 507.1h0M151.7 516.3h0M111.8 519.4h0M104.7 503.3h0M139.9 496.4h0M139 536.8h0M155.7 514.2h0M83.7 528.3h0M152.9 516.4h0M137.3 506h0M125.5 514.5h0M116.6 514.6h0M181 504.6h0M125.8 510.9h0M147.2 528.5h0M165.1 518.8h0M93.4 508.2h0M126.3 514.9h0M120.9 519.9h0M134.2 502.1h0M156.7 510.3h0M124.9 504.6h0M89.8 515.3h0M120 501.3h0M167 507h0M118.8 523.6h0M107.8 492h0M98.4 505.7h0M132 535h0M119.9 513.1h0M209 514h0M147.6 490.5h0M186.5 518h0M106 526.4h0M198.9 518.2h0M142.8 496.7h0M160.5 524.8h0M130.7 497.4h0M125.1 506.1h0M170.1 514.9h0M153.6 490.7h0M121.7 522.5h0M156.8 503.4h0M107.3 519.6h0M114 546.8h0M112.2 537.2h0M183.2 497.2h0M136.9 530.7h0M166.8 514.9h0M163.4 542.7h0M151.1 536.5h0M79.3 533h0M123.5 494.8h0M125.6 488.8h0M163.1 529.5h0M179.7 512.4h0M103.3 536.4h0M129.5 535.7h0M61.7 518.9h0M92.9 504.7h0M176.1 508.3h0M117.9 538.1h0M124.5 505.6h0M127.6 534.7h0M100.8 505.3h0M144.8 511.6h0M103.2 521.7h0M98.7 539.4h0M207.9 521h0M134.1 509.5h0M110.9 522.8h0M134.9 518.9h0M110.6 534.7h0M134.8 509.7h0M111.1 510.8h0M142.2 521.3h0M162.5 501.2h0M165.7 520.9h0M147.5 523.8h0M160 512.7h0M105.5 503.9h0M153.9 508h0M109.1 509.7h0M120.8 533.5h0M115.3 537.1h0M142.6 534.9h0M144.2 529.4h0M132.7 529.2h0M119.3 502.3h0M122.7 515.8h0M132.3 511.8h0M97.6 524.5h0M133.5 525.3h0M140.2 488.7h0M95.7 513.2h0M152.4 501h0M120 513h0M140.5 527.3h0M124.7 526.7h0M112.5 508.2h0M141.6 508.2h0M116.3 514.3h0M108.2 535.6h0M104.6 519.7h0M86.6 510.1h0M113.6 513.4h0M123.2 530.5h0M87.8 507.6h0M130.2 525.6h0M117.2 527.2h0M175.8 540.3h0M130.7 534.2h0M113.7 507.6h0M145.5 490.6h0M61.8 516.3h0M125.9 520.8h0M122.2 516h0M155.4 517.9h0M62.8 497.6h0M108.9 518.2h0M117.6 484.4h0M138.5 544.4h0M78.9 514.5h0M105.5 537.7h0M153.2 514h0M96.7 513h0M58.3 520.2h0M155.9 512.4h0M81.2 510.2h0M142.6 515.6h0M116.5 508.4h0M138.7 506h0M123 506h0M223.9 503.4h0M110.7 529.6h0M136.1 519.8h0M183.3 507.7h0M209 525.2h0M143.6 511.1h0M153.6 503.6h0M140 511.9h0M101.5 539.9h0M64.8 520.6h0M111.8 502.6h0M151.8 511.5h0M104.1 492.9h0M116.6 519h0M121.2 540.2h0M110.6 526.7h0M128.8 513.9h0M143.2 526.5h0M133.1 506.4h0M220.8 503.8h0M143.5 534.2h0M103.1 518.9h0M153.5 519h0M135.4 514.2h0M149 509.9h0M161.5 519.3h0M125.8 499.4h0M151.2 504.3h0M106.4 487.4h0M109.6 531.9h0M103.3 520.4h0M110.6 492h0M73.5 542.8h0M107.7 504.5h0M170.4 521.1h0M98.3 504.5h0M134.2 500.6h0M144.9 528.6h0M162.9 500.5h0M108.8 530.8h0M147.7 504.1h0M152.8 507.3h0M184.4 512h0M194.6 507.9h0M166 498.5h0M104.5 515.2h0M121.6 490.3h0M94.9 490.5h0M112.1 534.9h0M143.7 518.8h0M130.7 517.4h0M81.7 509.7h0M142 512.3h0M123 519h0M148.9 513.8h0M157.5 501.4h0M102.9 537.4h0M169 533.9h0M157.4 519.8h0M168.8 505.4h0M183.2 518.3h0M104 511.8h0M56.8 538h0M139.4 528.1h0M195 518.9h0M152.2 513.6h0M116.1 505.8h0M135 500.4h0M121.3 536.5h0M148.4 524.7h0M127.9 507.4h0M130.3 513.5h0M133.7 517.5h0M39.7 526.1h0M116.7 518h0M200.4 513.1h0M141.6 510.9h0M129.1 510.9h0M99.2 510h0M119.3 531.6h0M131.7 521.7h0M161.9 544.5h0M153.4 514.1h0M127.7 510.5h0M156.9 500.2h0M125.1 523.5h0M138.6 508.2h0M140.4 528.1h0M116.8 511.1h0M182.3 536.3h0M161.4 518.3h0M157.2 512.2h0M152.9 529.4h0M130 517.5h0M140.2 524.6h0M74.1 533.8h0M110.4 486.4h0M65.6 502.6h0M71.7 484h0M136.4 496.9h0M129.3 507.9h0M106.5 533.7h0M112.4 499.5h0M179.4 520.1h0M125.1 510.2h0M126.8 514.9h0M88.5 521.7h0M121.9 535.4h0M115.7 493.2h0M111.2 508.1h0M133.5 507.5h0M121.9 516.3h0M128.6 505.9h0M110 533.5h0M131.9 505.5h0M238.8 523.3h0M97.2 507.6h0M142.4 520.8h0M134.9 499.3h0M101.8 544.7h0M70.1 514h0M113 507.9h0M132.3 504.3h0M79.1 539.7h0M165 511.5h0M159.6 514.8h0M107.1 520.7h0M153.5 528.5h0M130.9 503.5h0M121.1 490.7h0M139.4 534.8h0M113.9 526.6h0M194 530.7h0M142.9 523.9h0M113.8 517.8h0M151.5 529.6h0M176.6 508.9h0M248.4 515.4h0M105.9 514.3h0M83.3 510.1h0M139.5 536.4h0M136.2 507.8h0M122.6 523.3h0M134 526.7h0M138.2 532.4h0M102.1 508.9h0M145.7 513.3h0M169.3 515.4h0M114.5 523h0M56.3 497.7h0M136.9 540.3h0M160.8 529.7h0M142.1 515.8h0M115 546.5h0M243.9 508.8h0M118.3 516.7h0M150.5 500.5h0M147.2 521.6h0M102.3 504.8h0M95.4 519.4h0M132.3 508.2h0M87.1 530.7h0M142.7 536.2h0M80.2 486.9h0M112.9 510.6h0M125.3 510.4h0M145.6 506.3h0M178.5 499h0M110.3 510h0M166 513.7h0M119.4 491.2h0M180 507.7h0M118.4 509.5h0M129.9 510.6h0M83.8 519.4h0M144.1 519.2h0M116.8 492.1h0M101.5 519.7h0M77.8 538.1h0M172.2 519.8h0M134.7 526.2h0M143.2 507.3h0M171.4 518.5h0M116.5 536.3h0M94 522.4h0M153 513.4h0M179.4 502h0M125.4 508.7h0M176.8 499.1h0M155.9 501.3h0M120 515.4h0M115 537h0M108.3 506.3h0M59.8 529.4h0M106 538.5h0M117.2 511h0M126.8 497h0M116.1 495.3h0M145 533.3h0M101.9 520.6h0M133.7 530.7h0M115.8 523.3h0M136.6 524.3h0M161.7 526.5h0M137 505.2h0M126.7 500.7h0M147 509.1h0M143.2 499.9h0M192.5 527.3h0M163.8 509.4h0M168.1 511.4h0M135.3 523h0M160.9 515.1h0M137.8 529.4h0M98.5 489.5h0M161.4 496.9h0M113.9 508.3h0M123.2 509.9h0M145.6 513.4h0M177.2 530.6h0M183.9 505.6h0M109.9 524.5h0M152.5 496.5h0M94.3 535.3h0M177.2 520h0M159.9 513.5h0M111 528.1h0M139.4 539.2h0M116.4 510.1h0M140.1 495.4h0M91.5 489.7h0M211.5 506.2h0M135.5 516h0M88.7 545.9h0M129.7 531.8h0M104.6 500.3h0M143.3 528.5h0M93.6 488.6h0M139.3 516.6h0M145.1 527.4h0M152.8 517.6h0M142.5 513.4h0M183.8 536.3h0M121.3 525.4h0M109.9 509.1h0M133.8 514.4h0M151.3 525.5h0M137 506.1h0M134.5 500h0M141.3 516h0M98.1 530.9h0M132.7 514h0M78.5 531.6h0M144.6 512.1h0M89.6 512.5h0M83.9 526.8h0M157.1 518.8h0M118 536.8h0M154.2 533h0M138.7 520.5h0M128.4 522.5h0M116.2 510.3h0M106.2 504.8h0M142.5 513.3h0M167 524.1h0M132.8 499.3h0M119.1 516h0M126 496.1h0M166.1 510.6h0M129.6 525.2h0M113.3 515.5h0M93.1 491.5h0M158.2 511.4h0M113.3 500.8h0M113.7 533.3h0M134 506.4h0M78.4 501.6h0M151.5 520h0M159.3 518.5h0M80.9 508.4h0M57.2 520.8h0M135.5 496h0M136.2 520.2h0M107 513.4h0M82.1 541.7h0M135.2 525.3h0M96 495.9h0M116.5 528.4h0M122.4 501.3h0M91.8 546h0M121.7 499.9h0M143.2 513h0M148.5 501h0M160.3 522.6h0M132.3 532.2h0M159.3 529.6h0M115 511.5h0M179.1 525.8h0M128.7 515.4h0M105.6 511.8h0M93.5 532h0M104.2 525.6h0M159.6 530.3h0M79.5 530.5h0M93 514.4h0M108.1 490.5h0M111.4 510.4h0M61.2 496.4h0M130.3 514h0M118.8 534.4h0M139.2 530.2h0M81.5 528.7h0M122.5 508.2h0M116.8 515.1h0M135.3 509.3h0M141.7 499.5h0M143.6 503.2h0M103.2 504h0M123.5 517.3h0M142.4 506.4h0M142.4 498.4h0M114.7 511.3h0M122.7 519.2h0M194.8 514.8h0M114.7 526.1h0M113.8 526.6h0M125.8 502.9h0M79.5 524.3h0M103.6 499.7h0M126.7 483h0M150.5 515.5h0M112.3 523.4h0M143.3 534.6h0M150 494.3h0M127.3 496.3h0M172.9 526.1h0M90 504.9h0M103.6 543.3h0M97.1 538h0M119.6 521.3h0M173.9 530.8h0M145.4 518.4h0M106 498.7h0M180.5 508.7h0M110.8 528.3h0M141.6 496.6h0M104.1 496.2h0M107 524.1h0M155.7 532.2h0M183.9 522.3h0M82 529.7h0M201 521.9h0M96.1 500.4h0M100.9 520.2h0M161.1 507.6h0M73.9 510.8h0M160.6 506.6h0M220.3 510.8h0M152.3 527.1h0M125.6 496.4h0M70.4 506.2h0M201 513.7h0M124.1 532.2h0M129.8 525.7h0M145.8 522.6h0M110.3 515h0M112.3 517.5h0M133.8 531.7h0M127 511h0M148 501.5h0M143.6 520.1h0M153.2 512.9h0M133 520.3h0M106.1 492.1h0M139.4 528.9h0M155.7 509.3h0M104.3 521h0M119.1 506.2h0M144.8 523.4h0M156.6 526.8h0M123.4 497.8h0M182.3 490h0M156.8 515.1h0M128.9 518.6h0M113.9 522.6h0M187 524.9h0M164.7 504.8h0M120.2 509.5h0M81.7 528.7h0M177.5 525.2h0M87.9 513.3h0M77.9 525.3h0M62.7 506.3h0M148.3 508.5h0M159.3 491.6h0M98.6 505.8h0M114.4 487.5h0M240.2 517.1h0M181.8 532.7h0M136.3 533.3h0M127.5 523.7h0M129.8 537.8h0M144.4 508.8h0M148 518.1h0M117.1 514.3h0M68.8 521.1h0M114.6 517.9h0M92.2 540.7h0M106.9 516.5h0M109 523.3h0M150.7 517.9h0M121.5 529h0M108 512.3h0M135.4 500.6h0M86 522.2h0M89.5 505.3h0M150.2 517h0M145.2 523.9h0M140.9 519.2h0M89.1 511.1h0M95.4 525.2h0M154.6 530.5h0M145.4 515.4h0M139 503h0M134.7 516.8h0M175.3 503.3h0M195.6 519.3h0M149.4 517.6h0M203 511.1h0M91.7 496.5h0M104.1 497.3h0M126.2 530.3h0M124.5 516.7h0M132.3 510.5h0M137.5 511.6h0M70.6 526.6h0M103.1 540.5h0M157.3 510.6h0M129.5 539.2h0M97.7 518.5h0M62.4 514.1h0M157.4 539.3h0M137.7 505.9h0M140.1 514.8h0M168.5 536.3h0M81.1 535.7h0M169.2 513.4h0M118.3 513.7h0M149.2 523.8h0M110.4 523.3h0M177.8 532.2h0M152.8 520.7h0M102 509.2h0M117.9 526.3h0M78.1 506.4h0M122.6 520h0M136.2 533h0M149.3 539.6h0M153.2 511.2h0M161.1 508.7h0M171 528.6h0M104.1 505.9h0M70.3 494.9h0M104.1 531.1h0M90.6 502h0M191.5 525.7h0M40.5 516.5h0M147.2 511.9h0M93.7 505h0M124.2 515.3h0M110.2 531.1h0M92.1 522.7h0M198.8 531.5h0M107.1 501h0M130.6 505.6h0M94.5 526.4h0M163.9 497.8h0M125.2 531.7h0M125.2 497.8h0M190 506.8h0M150.2 501.3h0M148.8 520.9h0M109.2 537.4h0M133 541.6h0M121.1 518.2h0M121.3 501.2h0M139.9 492.6h0M124.5 515.2h0M91.6 520.7h0M160.6 521.7h0M180.2 517.8h0M150.3 511.5h0M144.6 514.5h0M135.7 524.1h0M161.9 498.3h0M120.7 517.3h0M102.4 533.6h0M116.6 535.6h0M117.1 505.7h0M153.6 501.1h0M122 502.2h0M100 500.1h0M128.3 495.5h0M125.4 510.1h0M131.3 506.4h0M106.9 509.6h0M120.4 519.6h0M119.5 497.4h0M103.8 504h0M169.6 506.9h0M113.6 527.4h0M119.3 531.9h0M143.2 515.2h0M142.7 531.4h0M145.2 530.2h0M114.6 529.2h0M120.9 522.5h0M124.5 519.5h0M124.9 506.5h0M147.1 512.3h0M81.1 500h0M122.2 520.9h0M132.4 501.2h0M78.7 526.7h0M121.2 533.9h0M82 493h0M130.1 506h0M90.6 514.5h0M129.8 536.1h0M98.1 503.7h0M125.2 509.1h0M75.7 535.5h0M114 534.4h0M103.1 511.2h0M128 521.9h0M137.4 508.6h0M135.8 508.9h0M126.8 517.5h0M102.2 525.3h0M227.4 515.6h0M109.8 525.3h0M173.6 511.6h0M136.1 522.2h0M152.3 509h0M141.7 528.5h0M164.5 519.8h0M124.9 520.1h0M42.1 531.6h0M127 509.6h0M127.8 519.9h0M116.9 541.6h0M59.3 507.1h0M122.3 500.1h0M129 517h0M111.5 545.2h0M131 527.1h0M109.5 507.4h0M98.8 511.1h0M154.8 539.5h0M154.7 523.1h0M99.5 521.6h0M131.8 522.5h0M81 524.6h0M75.7 522.2h0M126.7 499.3h0M144.3 521.7h0M106.7 504.6h0M114.4 504.6h0M113.8 521.6h0M79.1 510.4h0M197 512.4h0M93.8 506.6h0M152 534.4h0M92.3 525.4h0M171 515.1h0M128.9 508h0M176.2 516.4h0M76.1 496.7h0M218.3 516.4h0M155.2 513.6h0M134.7 522.5h0M144 523.5h0M164.1 500.5h0M140 505.1h0M148.8 514.4h0M161.3 521.1h0M189.7 509h0M140.5 526.6h0M185.8 513.8h0M162.6 515.1h0M150.9 496.2h0M161.5 518.8h0M103.1 514h0M146.2 516.4h0M145.2 539.9h0M129.3 505.6h0M150.4 511.2h0M142.6 515h0M154.1 513.9h0M130.3 518.1h0M145.6 534.2h0M158.6 536.3h0M161 512.5h0M116.3 501.4h0M125.4 519.4h0M175.6 504.8h0M127.3 528.3h0M97.1 525.5h0M134.1 492.9h0M65.5 487.7h0M192.9 512.6h0M112.4 526.1h0M155 528.8h0M139.1 512.8h0M123.6 542.3h0M131.5 538.5h0M96.8 497.5h0M138.4 526.5h0M132.9 510.7h0M158.6 504.5h0M80.3 496.3h0M123.1 503.2h0M41.4 538.6h0M83.1 538.2h0M142.7 513.2h0M73 533.9h0M200.6 521.7h0M97.4 511.1h0M132.8 486.3h0M157.9 527.8h0M129.6 514.9h0M141 521h0M133.1 497.3h0M112.9 507.2h0M108.6 533.1h0M123.4 498.9h0M116.4 512.8h0M118.8 518.7h0M123.7 515.5h0M157.7 511.2h0M163.1 489.5h0M214.5 513.4h0M158.7 512.1h0M141.5 510.7h0M75.1 521h0M100.1 497.5h0M139 499.8h0M147.8 509.4h0M125.3 510.1h0M78.1 517h0M131.5 520.4h0M104.1 499.6h0M132.7 514h0M130.7 526.8h0M153 531.9h0M168.3 521.1h0M189.1 515.6h0M137.7 512.7h0M139.1 508.7h0M139.3 498.9h0M135 494.8h0M191.1 530.6h0M113 538.4h0M113.1 530.9h0M164.8 514.3h0M134.2 498.9h0M68.2 528.3h0M122.5 517.8h0M149.9 524.7h0M107.7 526.7h0M178.4 515.6h0M158.1 506.3h0M129.4 515.7h0M148 510.2h0M76.1 516.4h0M166.2 528.8h0M136 522.3h0M213.2 518.5h0M133 524.7h0M123.8 491.1h0M111.7 523.9h0M181.6 534.1h0M139.9 497.8h0M127.1 492.1h0M132.1 491.6h0M125.6 507.2h0M104.5 514.2h0M143 521.3h0M63 520.5h0M96.7 506.7h0M136.3 519.1h0M150.6 528.4h0M114.7 496.6h0M127.9 522.4h0M137.4 525.4h0M156.5 514.4h0M153.7 514.5h0M148.8 527.1h0M143.6 512.4h0M177.6 503.5h0M136 540.2h0M65.7 513.9h0M103.1 521.1h0M149.7 531.2h0M118.6 541.8h0M166.2 513.7h0M128.2 497.7h0M179.9 540.8h0M135.8 515.2h0M170 500.8h0M167.4 525.2h0M127.9 502.3h0M112.5 499.2h0M162.7 514.7h0M104.4 537.5h0M180.2 519.4h0M76.8 492.5h0M136.5 501.8h0M149.6 500.3h0M113.4 504.2h0M176.6 524.2h0M72.7 496.1h0M193.3 536.6h0M117.7 528.8h0M88.9 520h0M128 522.3h0M116.5 489.5h0M175 530.4h0M115.4 531.5h0M155.5 499.4h0M231.2 527.4h0M106.4 521h0M112.1 509.7h0M108.5 529.5h0M82 499.6h0M85.7 498h0M166.6 523.1h0M146.4 543.9h0M188.2 510.4h0M168.5 529.1h0M124.3 508.5h0M117.2 523.5h0M169.5 523h0M135.6 523.1h0M100.2 518.5h0M128.2 513.8h0M128.1 509.6h0M92.2 515.1h0M110.2 530.8h0M205.6 521.2h0M100.4 541.1h0M104.5 530h0M138.5 509.2h0M167.3 510.6h0M118.1 521.8h0M100 499.7h0M77.7 518.8h0M174.5 516.1h0M109.3 515.1h0M86.8 498h0M117.8 521.1h0M112.1 504.4h0M161.3 527.8h0M128.8 523.5h0M139.4 504.9h0M112.9 521.3h0M159.7 519.5h0M150.2 523.4h0M168 526.9h0M114.5 518.1h0M121.4 514.8h0M81.6 530.5h0M91.7 526.4h0M130.4 521.7h0M97.4 518.2h0M119.1 499.5h0M139.7 502.6h0M122.5 519.1h0M91.6 517h0M127.9 512.3h0M130 517.7h0M163 513.3h0M131.4 508.2h0M100.7 533.7h0M121.1 508.2h0M176.9 525.3h0M92.7 545.5h0M162.8 518.1h0M120.6 514.5h0M129.8 532.2h0M118 530.8h0M120.7 532.4h0M95.9 522.6h0M163.7 511.3h0M147 527.1h0M113.3 523.5h0M111.3 531.2h0M159.9 506.3h0M100.1 522.6h0M144.8 501.2h0M156.2 507.1h0M123.7 517h0M140.9 498.5h0M144.2 521h0M154.2 538.4h0M146.3 525.2h0M126.4 497.9h0M118.1 493.9h0M127.1 513.3h0M76.1 482.9h0M75.4 524.7h0M98.3 513.9h0M153.5 524h0M117.3 510.9h0M148.1 496.2h0M106.6 498.5h0M159.1 532.3h0M162.2 519h0M144.9 512.6h0M166.9 507.1h0M140 513.3h0M177 529.8h0M124 521.9h0M182.7 512.9h0M236.4 533.2h0M113.7 531h0M215.5 518.8h0M162.1 502.9h0M142.1 531.2h0M165.7 529.2h0M185 514.1h0M167.4 519.8h0M94.2 484.3h0M150.3 501.1h0M137.2 520.3h0M155.1 509.6h0M137.9 496.4h0M75.4 514.6h0M137.3 506.1h0M107.1 514h0M99 519.7h0M106.2 509.2h0M127.7 521.7h0M124.2 506h0M167.6 511.4h0M97.2 504.5h0M141.1 523.4h0M146.5 531.7h0M124.9 512.2h0M159.1 509.2h0M149.2 537.8h0M167.9 502.4h0M157 523.6h0M121.6 515.2h0M109.3 530.3h0M145.5 519.9h0M137.3 528.6h0M88.9 491.2h0M56 514.9h0M118 500.7h0M100.3 512.7h0M122.1 526.2h0M103.5 514.9h0M138 519.7h0M108.6 505h0M135.8 493.1h0M88.1 515.3h0M137.5 494.8h0M131.4 507.9h0M168.5 518.7h0M180 508.5h0M99.5 517.2h0M120.6 529.6h0M140.7 535h0M162.3 518.6h0M117.5 495h0M116.6 497.3h0M139.8 515h0M109.5 521.7h0M147.9 514.8h0M162.6 520.4h0M131.3 498.4h0M151.7 519.1h0M183.7 505.8h0M129.1 499.3h0M135.7 541.2h0M102.9 541h0M139 504.5h0M112 500.8h0M139.1 515.7h0M116.3 525.7h0M150.6 514.8h0M153.1 498.9h0M120.9 530.5h0M115.3 502.2h0M172.1 521.8h0M116 516.5h0M145.7 526.9h0M209.2 504.5h0M130 484.2h0M114.4 537.3h0M136.7 523h0M103.9 492.9h0M122.4 504h0M142.4 498.6h0M145.5 518.5h0M94.5 508.5h0M87.1 515.5h0M104.9 517.9h0M129.8 521.2h0M105.8 516.3h0M114.9 513.8h0M149.7 516h0M82.9 499.9h0M116 517.8h0M111.5 539.1h0M78.8 509.4h0M125 537.2h0M127.4 488.1h0M140 510h0M137.4 509.3h0M149.1 530.7h0M155.1 530.4h0M178.2 496.7h0M216.2 524.8h0M100.9 492h0M79.1 496.5h0M161.7 532.3h0M160.9 537.2h0M139.5 492.9h0M96.5 522.1h0M225.2 515.9h0M125.1 546.4h0M140.5 489.3h0M118.2 536.5h0M128.7 517.8h0M148.3 533.4h0M165.6 524h0M88.3 538.1h0M100.2 518.5h0M119.7 523.1h0M102.7 510.1h0M170 496.4h0M115.9 533h0M158.7 519h0M67.7 510.7h0M88.5 542.4h0M92.3 495.2h0M127.3 511.5h0M98.8 519.7h0M141.7 520.4h0M136.9 505.8h0M91.2 515.5h0M135.8 516.7h0M145.2 521.7h0M180.3 521.6h0M161.9 512h0M127.5 499h0M108 507.6h0M91.6 527.9h0M67.2 533h0M118.2 511.1h0M149.1 515.2h0M152.7 546.2h0M89.9 527.8h0M145.4 517.4h0M131.4 542.1h0M126.2 503.3h0M135.7 498.9h0M123.3 494.6h0M121.5 493.7h0M110.9 504.8h0M117.5 533.1h0M127.9 525h0M135.8 517.2h0M141.9 520.1h0M120.4 493.6h0M122.5 526.7h0M133.3 509.3h0M158.6 516.7h0M120 514.8h0M108.3 524.2h0M118.2 519.8h0M113.7 509.4h0M195.8 520.8h0M110.7 522.2h0M106.6 508.3h0M138.1 495.4h0M158 522.9h0M89 535.9h0M109.9 499.8h0M112.8 534.3h0M156.9 517.8h0M106.4 515.1h0M150.7 517.9h0M90 504h0M142.6 501.3h0M118.9 491.3h0M135.8 518.6h0M145.1 519.4h0M86 513.1h0M116.7 527.2h0M87.4 518.3h0M123.5 516.1h0M122.6 505.5h0M150.6 537.9h0M155.3 527.9h0M115.4 495.3h0M160 510.9h0M186.8 515.8h0M155.9 533.3h0M153.2 520.2h0M198.6 509.5h0M176 519.8h0M122.6 511h0M141.3 506.1h0M99 495.7h0M146.1 537.9h0M141.1 512.5h0M122.6 520.8h0M116.4 531.9h0M81 500.1h0M159.8 534.9h0M143.3 523.9h0M84.9 519h0M178.2 507.6h0M179.1 516.8h0M105.5 522.3h0M183.6 531.4h0M146.4 531.7h0M152.2 501.3h0M141.2 539h0M183.1 523.8h0M158.8 539.8h0M154.1 504.5h0M129.7 531.9h0M144.5 519.5h0M124.5 510.9h0M134.3 523.7h0M139.7 513.5h0M161.1 513.7h0M111.5 535.2h0M77.7 524.9h0M132.6 513.2h0M92.2 484.3h0M101.9 522.7h0M130.2 511h0M115.7 497h0M139.7 531.9h0M94.9 523.1h0M136.5 522.9h0M99.8 536.8h0M125.1 494.4h0M113 526.3h0M125.6 509.7h0M139.6 504.1h0M67.9 534.1h0M131.6 510.4h0M90.7 500h0M122.9 502.4h0M116.6 521.4h0M123.3 516.1h0M168.2 501.5h0M116.2 503.8h0M118.9 514.1h0M115.5 525.8h0M123.3 526.4h0M127.9 507.2h0M123.1 511.1h0M160.8 524.6h0M144.5 512.7h0M69.6 525.1h0M146.2 525.9h0M124.4 543.2h0M107.4 510.2h0M129.9 532.6h0M118.3 492.8h0M121 540.8h0M170 534.6h0M126.6 507.4h0M134 511.2h0M194.2 521.5h0M121.3 513.9h0M155.4 527.6h0M114 534.9h0M120.8 510h0M112.7 501.3h0M135.4 503.4h0M131.9 516.3h0M154.8 510.2h0M138.6 515.8h0M124.5 526.9h0M129.8 516.1h0M118 525.9h0M119.8 489.1h0M111 532.7h0M95.7 541.8h0M154.8 501.4h0M145.2 497.9h0M121.3 521.8h0M121 533.4h0M150.7 495.8h0M92.9 543.1h0M124.2 521.4h0M146.3 505.8h0M99.7 524h0M183.3 520.7h0M144.9 516.7h0M132.9 491.9h0M117.5 517.9h0M155.5 519.4h0M172 518.3h0M147.3 524h0M130.7 537.2h0M149.3 496h0M124.7 519.8h0M83.2 506.9h0M115.9 513.6h0M143 496.1h0M149 526.8h0M52.6 496.3h0M89.1 536.6h0M125.9 525.9h0M118.1 536h0M107.8 520.8h0M97.6 505h0M145.4 515.2h0M127.7 495.2h0M116.2 510.1h0M152.5 504.2h0M103.6 499h0M121.5 529.9h0M106.1 529.6h0M120.3 527.8h0M112 520h0M150.8 532.6h0M130.4 492.2h0M130.1 519.8h0M175 491.8h0M64.6 529.6h0M196.7 520h0M138.6 523.4h0M132.1 526.1h0M165.3 523.6h0M105.9 482.7h0M96 539.1h0M179.3 516.7h0M72.7 500.3h0M168 499.8h0M156.7 524.3h0M103.1 523h0M148 525.4h0M139 483.9h0M112.8 511.8h0M93 496.5h0M106.3 537.2h0M129.2 505.4h0M96.2 486.8h0M138 521.3h0M105.7 516.8h0M109.4 523h0M132 487.3h0M105.6 539.6h0M111 500h0M150.5 527.7h0M130.8 517.6h0M136.7 523.6h0M138.2 524.2h0M131.4 518.2h0M125.8 484.4h0M109.4 517.4h0M89.3 531.5h0M116.1 510.3h0M133.2 510.5h0M194.3 513.2h0M136.2 523.4h0M121.8 506.3h0M114.8 514.9h0M132.6 535.6h0M129.5 498.5h0M200.4 529.8h0M83.5 534.3h0M184.6 520.9h0M138.5 534.5h0M137.8 517.2h0M144.4 501.5h0M159.5 535h0M172.2 539.2h0M120.8 536.6h0M157.1 512.8h0M152.9 534.6h0M117.7 532.9h0M156.8 504.1h0M124.4 525.1h0M123.5 519.8h0M156.7 522.7h0M118.1 501.7h0M140.1 512.8h0M132.7 496.3h0M153.6 531.5h0M125.2 524.5h0M111.5 517h0M136.8 518.3h0M132.3 539.2h0M132.3 512.3h0M111.3 519.3h0M94.9 508.4h0M165.3 504.5h0M135.1 519.8h0M104 491.6h0M124.2 511.8h0M133.7 524.8h0M99.7 540.4h0M141.8 510.7h0M103.7 518.6h0M164.5 534.9h0M75.2 526.8h0M105.3 502.6h0M167 511.7h0M97 501h0M159.7 524.9h0M120.4 521.7h0M123.3 533.5h0M123.8 497.9h0M47.4 542.2h0M106.6 516.1h0M121.3 521h0M123.1 520.3h0M140.3 533.4h0M150 523.6h0M121.9 512.3h0M97.2 510.1h0M90 511.1h0M146.7 535.3h0M115 530.3h0M131.9 514.4h0M142.2 516.4h0M82 504h0M88 484.6h0M116.1 525.1h0M172.3 512.8h0M122.3 544.7h0M154.9 504h0M115.5 519.2h0M122.7 501h0M156.1 505.4h0M144.6 494.2h0M111.6 498.1h0M118.3 528.3h0M216.7 518.6h0M119.8 514.1h0M130.4 514.9h0M114.5 526.3h0M46.8 526.1h0M121.8 510h0M139.6 515.6h0M143.7 521.7h0M178.4 521.5h0M115.4 529.1h0M132.8 507.2h0M134 519.2h0M160.5 526.7h0M181.1 503.5h0M66.8 519.4h0M127.8 511.5h0M193.7 521h0M123 521.6h0M158.4 498.5h0M141.3 512.8h0M104.5 543.2h0M160.6 529.4h0M121.4 524.7h0M148.6 517.7h0M107.9 487.6h0M87.5 510.5h0M158.3 501.3h0M128.7 502h0M160.5 490.9h0M148.3 515.5h0M112 506.1h0M88 542.4h0M73.3 534.2h0M74.6 513h0M96.9 517.7h0M83.9 508.6h0M137.5 538.9h0M152.4 511.8h0M123.6 545.6h0M87.5 519.7h0M135.5 523.2h0M150.7 523.6h0M78.9 540.4h0M133.4 495.4h0M123.1 525.6h0M151.4 533.9h0M106.8 537.3h0M139.6 519.4h0M172.2 506.6h0M91.8 515h0M187.5 516.7h0M134.6 512.8h0M136.4 495.7h0M155.3 516.1h0M104.2 513.7h0M148.2 513.7h0M171.3 499.1h0M160.8 513.4h0M125.6 530.8h0M114.8 515.4h0M211.6 506.5h0M152.3 512h0M114 506h0M137.7 503.8h0M151.9 497.7h0M137.8 529.6h0M90.2 505.5h0M109 514.5h0M113.2 520.6h0M189.7 520.5h0M133.4 500.8h0M137.2 504.5h0M165.9 525.1h0M154.2 531.3h0M137.6 516.7h0M135.6 535.7h0M143.2 533h0M149 510.4h0M114.1 492.1h0M157.1 514.2h0M120.3 500.4h0M100.1 538.7h0M152.8 532.8h0M122.1 506.9h0M72.4 509.8h0M61.4 518.2h0M131.4 522.4h0M115.1 507.2h0M173.8 509.5h0M126 495.3h0M138.3 541.8h0M134.5 512.1h0M125.8 527.2h0M112.7 520.4h0M95.9 518.5h0M137.3 502.6h0M127.3 516.1h0M118 512.1h0M99.4 510.4h0M137 483.9h0M94.2 515.1h0M154.4 505.6h0M107.6 526.8h0M131.6 515.4h0M151.4 531.3h0M131.2 489.9h0M191 512h0M188.4 522.4h0M166.2 514.6h0M78.9 509h0M85.5 524.6h0M204 511.2h0M101.1 505.6h0M94.5 507.6h0M80 502.9h0M105.5 497.2h0M127.5 514.5h0M129.9 509.4h0M101.1 519.4h0M99.9 510.8h0M89.2 497.7h0M149.3 498.1h0M127.5 513.5h0M115.3 497.6h0M115.1 523.5h0M93.3 521.7h0M139.7 518.6h0M138.3 513.2h0M166.1 537.3h0M185.5 520.4h0M139.3 523.5h0M152.1 518.4h0M123.3 512.8h0M143 532.2h0M124 514.6h0M150.5 525.7h0M169.9 494h0M87 487.7h0M192.3 526.3h0M133.7 503.7h0M134.6 520.5h0M134 528.4h0M123.2 512.9h0M87.3 512.8h0M86.4 528.9h0M128.7 523.7h0M82.8 535.2h0M154.8 512.8h0M146.8 521.9h0M97.1 487.1h0M112.1 532h0M134.7 517.5h0M98.7 527.8h0M157.8 519.8h0M101.3 506.1h0M141.6 519.8h0M149.3 525.6h0M141.1 538h0M165.5 527.4h0M113.6 516.4h0M95.8 486.4h0M119.5 546.4h0M144.6 504.2h0M99 515.1h0M229.2 520.1h0M132.4 524.1h0M153.5 522.8h0M117.3 541.1h0M154.2 514.8h0M124.7 529h0M128.4 493.6h0M124 523.2h0M75.9 518.2h0M124.5 527.8h0M102.1 507.9h0M113.7 506.7h0M151.2 512.5h0M154.1 495.6h0M158.6 520.8h0M134.7 509.8h0M140 515.7h0M152.6 527.7h0M120.6 533.6h0M185.3 514.2h0M90.4 519.3h0M121.2 523.5h0M138.2 506.5h0M143.6 510.6h0M140.3 493h0M155.9 507.7h0M127.7 484.6h0M150.5 513.4h0M161.8 531.2h0M116.3 543h0M170.4 505.3h0M203.4 518.7h0M231 505.8h0M87.4 507.6h0M132.2 509.8h0M107.4 515.7h0M136.4 532h0M172.7 499.9h0M169.7 533.6h0M150 511.4h0M143.9 519.1h0M135 522.9h0M133.9 514.4h0M151.7 535.6h0M93.6 529.8h0M178.6 526h0M87.2 537.2h0M121.8 505.5h0M100.6 536.1h0M135.1 531.6h0M150.1 526.8h0M134.4 510.7h0M124.4 510.1h0M149.4 524.4h0M110 494.6h0M139 533.6h0M137.5 528.6h0M128.4 500.6h0M140.2 515.2h0M148.1 514.1h0M84.9 520.8h0M116.8 486.1h0M76.9 510.8h0M127.8 531.2h0M166 518h0M113.3 516.5h0M134.1 509.7h0M144.5 504h0M148.9 524.8h0M94.6 508.4h0M93.2 529.4h0M84.3 512.6h0M128.3 515.4h0M141.4 516.4h0M136.8 510.9h0M148.7 505.7h0M143.2 539.2h0M119.6 527h0M124.5 524h0M120.7 504.6h0M109.5 535.9h0M159.7 516.3h0M134.7 484.1h0M171.3 514.1h0M90.8 528h0M85.8 513h0M120.4 545.1h0M140.9 534.1h0M155 517.2h0M89.6 513.3h0M41.4 533.5h0M197.8 520.7h0M121.9 504.1h0M154.9 533.2h0M149.2 497.7h0M123 509.9h0M116.8 512.2h0M125.4 511h0M119.3 510.8h0M83.8 500.3h0M99.1 541.7h0M153.7 518.3h0M158.3 506h0M116.5 526.2h0M119.2 531.1h0M116.8 526.4h0M140.6 536.9h0M142.3 543.1h0M173.9 513.3h0M145.4 525.7h0M153.7 508.5h0M112.8 501.2h0M78.1 505.4h0M147.5 531.8h0M204.8 510.9h0M181.4 507.8h0M133.1 504.7h0M80 513.6h0M118.2 534h0M114.7 534.5h0M111.7 517.6h0M164.8 514.2h0M107.8 527.8h0M140.7 508.5h0M111.3 498.1h0M146.9 512.2h0M76.1 528.1h0M161.2 498.3h0M42 523.5h0M71.5 514.5h0M153 509.4h0M185.7 524.3h0M154.4 531.5h0M160.2 511h0M126.1 507.6h0M161.5 532.5h0M151.7 525.4h0M163 531.6h0M178.8 533.4h0M135.6 525.1h0M122.1 488.3h0M158.1 530h0M138.1 503.7h0M131.3 510.6h0M149.6 521h0M103.1 496.5h0M164.3 516.6h0M78.1 492.3h0M131.6 519.5h0M105.2 508.5h0M128.1 490.3h0M129.7 515.7h0M114.9 522.4h0M105.9 516.2h0M179.2 498.7h0M80.4 513.7h0M119 516.5h0M177.8 514.5h0M65.4 516.5h0M116.3 488.6h0M160.1 516.9h0M114.2 522.4h0M138.5 518.5h0M124.9 502.9h0M156.2 505.5h0M117.6 499.2h0M80.5 509.4h0M102.6 489.4h0M116.2 526.6h0M106.9 494.1h0M93.6 534.5h0M125.3 537.2h0M132.2 515.5h0M74.9 523.1h0M146 516h0M139 533.2h0M164.2 526.6h0M88.9 518.4h0M138.6 517.1h0M102.8 541.5h0M108.9 515.9h0M151 503.5h0M113.9 527h0M154.9 529.7h0M86.3 528.4h0M99.5 504.7h0M106.7 515.3h0M121.2 524.5h0M140.9 517.5h0M120.1 512.9h0M116.8 516.1h0M128.3 525.8h0M131.8 508.1h0M106.6 496.1h0M124.2 510.3h0M174.8 510.1h0M96.9 542.7h0M144.1 527.9h0M131 523.3h0M137.3 533.4h0M123.1 523h0M141.3 523.3h0M135.4 526.7h0M80.3 513.5h0M78.7 521.1h0M59.3 523.4h0M142.3 514.2h0M130.8 533.6h0M117.5 529.6h0M156.9 512.1h0M97.9 506.9h0M162.3 505.2h0M124.9 536.6h0M157.2 522.3h0M146.4 513.5h0M110.2 503.4h0M108.1 503.9h0M140 508.2h0M134 522.7h0M160.7 537.8h0M121.3 518h0M133.9 519.8h0M152.9 517.1h0M156.2 500.1h0M147 521.5h0M132.6 545.6h0M85.1 498.4h0M128.1 525.1h0M117 520.4h0M124.5 535.1h0M137.3 530.6h0M149.4 517h0M88.7 511.9h0M131.9 513.6h0M129 513.1h0M97.7 510.3h0M98.8 515.7h0M127.5 530h0M139.3 514h0M128.8 511.5h0M113.6 483.7h0M139.7 504.7h0M147.5 501.5h0M129.9 510.7h0M222.3 511.1h0M167.8 518.9h0M116.6 532.8h0M108.8 522.1h0M170.7 505.5h0M188.1 525.5h0M146.3 517h0M101.4 492.2h0M157.1 535.9h0M162.4 494.8h0M166.6 503.9h0M141.1 522.4h0M96.6 502.1h0M93.8 520.5h0M150.4 526.9h0M102.3 525.6h0M139.8 515h0M133 530.8h0M114.3 525.3h0M170 533.8h0M123.6 507.3h0M109.6 508.8h0M86.1 496.6h0M139.9 496.9h0M79.6 510.5h0M123.6 498.9h0M75.3 492.6h0M144.1 531.7h0M88.8 520.3h0M103.1 516.8h0M108.6 511.9h0M122.2 515.1h0M165.7 529.5h0M137.2 516.6h0M99.6 516.3h0M142 505.8h0M185.1 521.7h0M126.9 525.4h0M93.9 539.5h0M137 513.3h0M100.1 511.1h0M192.9 523h0M126.5 516h0M141.9 508h0M140.9 523.7h0M129.9 518h0M188.7 507.7h0M129 528.2h0M117.5 497.3h0M140.8 538.5h0M137.7 507.5h0M149.8 507.6h0M110 531.5h0M106.4 512h0M226.8 523.5h0M153.5 530h0M149.8 518.3h0M152.9 527.4h0M71.3 523.2h0M155 531.1h0M186.9 511.8h0M121.9 511.8h0M123.9 512.9h0M157 518.7h0M140.2 523.7h0M132.7 535.4h0M139.7 498.8h0M175.8 509.9h0M210.6 499.8h0M131.2 515.7h0M85 514.5h0M77.8 526.1h0M172.8 511.7h0M151.5 513.8h0M136 514.9h0M162.6 517.8h0M146.4 512.9h0M78.8 535.9h0M69.6 525.2h0M92.5 502.5h0M113.4 516.7h0M124.6 534.1h0M104.3 502.6h0M153.5 510.9h0M109.9 531.7h0M155.8 497.1h0M108.5 513.4h0M125 518.1h0M110.6 531.3h0M180.3 509h0M108.4 533.9h0M149.3 529.2h0M134.4 508.2h0M123.1 514.5h0M144.8 534.6h0M126.1 525.9h0M157.5 506.3h0M118 527.7h0M74.8 522.6h0M195.9 513.5h0M133.8 514.1h0M144.4 501.8h0M152.2 523.6h0M136.9 543.6h0M149.4 519h0M127.7 515.4h0M98.5 517.3h0M157 504.3h0M126.9 534.1h0M129 514h0M90.4 539.7h0M128.1 522h0M105.9 529.5h0M144.9 512.4h0M143.1 501.2h0M168.7 505h0M110.5 506.3h0M175.2 514h0M114.7 499.4h0M142.4 502.7h0M169 532h0M129.8 527.1h0M101.5 525.2h0M135.5 510.6h0M131.7 528.9h0M155.5 531.9h0M133.4 521.6h0M128 507.9h0M163.7 518.2h0M117.9 504.6h0M122.7 539h0M163.4 506.5h0M115.1 512.8h0M147.5 524.5h0M153.5 543h0M110.1 513.1h0M185.2 521.3h0M109.3 509.1h0M97.4 530.1h0M101.9 508.7h0M80.9 515.7h0M98.6 512.1h0M109.1 517.6h0M103.8 483.5h0M95.9 517h0M111.1 535.7h0M154.2 501.4h0M125.7 501.7h0M150.3 504.5h0M130.5 496.6h0M79.3 508.1h0M133.9 518.1h0M126.6 545.7h0M149.5 507.3h0M77.8 518.3h0M94.4 513.3h0M110 536.5h0M162.4 516.6h0M114.9 530.6h0M170.5 540.2h0M116.8 542.3h0M130.8 500.2h0M122.7 534.5h0M124 514.8h0M201.4 523.9h0M118.8 533.3h0M113 528.1h0M157.5 515.2h0M122.6 509.9h0M164.6 512.2h0M150.5 515.7h0M158.7 501h0M171.6 511.2h0M129.9 523.1h0M169.8 520.8h0M107.1 524.3h0M109.6 523.8h0M176.7 525.5h0M145.7 528.6h0M133.4 529.9h0M129.2 527.8h0M187.9 528.2h0M136.5 490.5h0M128.8 511h0M125.7 537.3h0M183 530.6h0M161.9 511.4h0M160.9 541.3h0M154.8 523.1h0M174.1 534.6h0M167.8 524.6h0M117.6 542.2h0M114.6 514h0M139.1 490.7h0M96.6 530.9h0M159.1 518.6h0M166.7 511.3h0M155.4 497.6h0M146.8 526.1h0M123.5 510.3h0M87.5 532.3h0M165.9 517h0M124.7 541.7h0M74.5 497h0M117.4 493.5h0M89.7 529.7h0M106.2 525.9h0M112.2 541h0M90 515.4h0M114.7 499.6h0M174.5 504.7h0M113.3 514.6h0M95.4 509.9h0M151.9 508.3h0M146.1 510h0M104.6 537.2h0M161.7 524.8h0M126.8 532.5h0M126.1 506.6h0M185.1 525h0M105.2 517.6h0M87.8 498.1h0M89.2 506.1h0M135.4 515.4h0M136.8 503.2h0M118.9 527.3h0M104.9 513.5h0M79.5 509.1h0M152.7 494.2h0M162.9 520.6h0M154.7 512.4h0M124.8 516.8h0M157.4 515.9h0M137.2 523.3h0M91.8 499.8h0M91.4 534.3h0M181.8 520.7h0M131.3 502.4h0M89.4 519.1h0M130.9 521.6h0M164.6 530.6h0M77.8 516h0M125.2 508.3h0M143.4 514.7h0M105.8 533.2h0M100.7 517.1h0M136.7 529.4h0M105.6 492.4h0M109.5 499.1h0M125.4 513.8h0M142.4 517.5h0M150.6 522.6h0M143.3 500.5h0M89.9 509.5h0M181.8 536.5h0M88 505.9h0M119.5 497.7h0M134.3 514.3h0M151.4 511h0M164.3 499.6h0M164.5 495.9h0M180.7 511.2h0M159 524.4h0M121.8 507.8h0M189.9 516.8h0M261.8 496.3h0M101.9 529.8h0M78.8 514h0M163.1 529.2h0M164.9 516.9h0M125.3 518.3h0M182.9 524.7h0M110.7 517.2h0M156.4 507.4h0M107.6 520.2h0M123.9 501.2h0M71.4 527.4h0M72.3 488.3h0M143.5 499.8h0M214.6 521.2h0M67.2 516.4h0M131.5 530.1h0M157.8 528.7h0M125.9 518.6h0M184.8 515.8h0M114.5 508.1h0M121.2 516.5h0M117.8 540.1h0M117.2 494.6h0M187.8 524.6h0M157.6 529h0M153.3 507.1h0M151 522.7h0M143.9 522.3h0M135 502.7h0M142.6 499.1h0M102.2 524.2h0M113.5 514.8h0M127.3 540.5h0M86.2 536.3h0M138.1 511.9h0M95.5 508h0M94.7 510.8h0M129.6 534.1h0M128.1 487.3h0M96.7 511.6h0M122.6 508.4h0M122.6 510.1h0M154.2 529.3h0M174.5 513.4h0M118.5 505.4h0M83.7 493.7h0M155.5 507.1h0M135.5 512.9h0M116.2 534.2h0M169.9 515.9h0M149.9 512.1h0M142.7 504h0M72.1 492h0M156.1 503.8h0M162.3 497.2h0M129.3 497.6h0M247.3 509.9h0M254.6 504.1h0M149.1 518.6h0M109.4 526.9h0M145.3 520.7h0M124.8 535.7h0M113.8 540.5h0M143.6 498.8h0M116.7 519.2h0M160.4 536.3h0M62.8 506.8h0M120.8 507.9h0M130.3 516.5h0M98.8 507.2h0M152.7 489.9h0M58.4 511.4h0M151.2 529.3h0M139.2 520.8h0M99.8 538.3h0M134.4 510.7h0M143.7 512.8h0M138.7 543.7h0M140.5 513.6h0M160.7 520.5h0M72.8 507h0M99.3 499.8h0M185 504.1h0M158.2 527.8h0M119.7 528.1h0M132.2 491.9h0M105.1 517.2h0M121.9 503.5h0M97 529.3h0M81.6 528.9h0M152.2 508.9h0M113.5 511.7h0M145.3 519.4h0M227.2 519.6h0M107 515.7h0M114.3 540.7h0M100.1 516.6h0M109.3 488.6h0M123.4 538.6h0M119 501.7h0M81.4 522.2h0M90.3 528.1h0M145.6 518.1h0M110.9 502.2h0M106.6 505.9h0M169.9 515.3h0M123.2 539.7h0M154.9 507.4h0M156.7 524h0M149.7 501.9h0M137.3 500.9h0M73.7 499.3h0M133.1 497.5h0M107.2 498h0M161.1 526.4h0M94.4 534.5h0M149.4 529.2h0M150.3 503.3h0M161 512.8h0M167.1 509.2h0M134.7 524.2h0M74.5 508.1h0M140.1 510.2h0M182.1 507.2h0M135.9 535.8h0M110.6 499.1h0M133.5 543.9h0M108.9 542.8h0M178 529.2h0M114.8 530.6h0M158 513h0M114.6 517.4h0M147.9 522.6h0M147.7 525.9h0M129.2 510.6h0M150.2 532.7h0M103.5 538.9h0M159.3 515.7h0M153.4 518.3h0M84.7 521h0M94.7 532h0M145.2 528.7h0M84.5 534.2h0M128.1 512.2h0M157.9 522.5h0M208.7 520.9h0M109.5 505.8h0M127.3 523.3h0M123.6 526h0M162.8 486.8h0M118.4 512.6h0M164.7 517.3h0M152 518.4h0M144.2 527.4h0M174.9 524.4h0M147.2 509.6h0M133 507.8h0M131.8 532.7h0M119 484.9h0M95.4 510.6h0M89.4 503.6h0M118.6 533.5h0M129.9 529.8h0M85.3 520.2h0M79.7 508.9h0M146 517.3h0M124.8 525.5h0M91.4 524h0M107.4 521.5h0M248.1 512h0M138.9 524.2h0M114.5 523.8h0M151.1 524.3h0M147.8 513.8h0M122 527.9h0M78.7 518.2h0M124.1 514.3h0M161 500.5h0M88.3 518.2h0M169.8 509.6h0M147.2 520.1h0M94.2 545.6h0M120.9 500h0M142.3 512.2h0M111.4 509h0M45.8 521h0M120.4 520.1h0M102 496.4h0M79.2 529.9h0M105.2 494.2h0M139.4 521h0M134.4 540.1h0M93.8 521.4h0M138.3 528.5h0M126.1 506.1h0M179.9 518.8h0M93.3 542.5h0M131.2 513.9h0M128.9 519.8h0M156 513h0M112 503.4h0M140.1 517.9h0M117.7 532.9h0M144 546.8h0M109.3 513.7h0M156.7 526.2h0M112.1 496h0M130 512.3h0M146.8 535h0M157.3 528h0M161 504.1h0M122.1 520.9h0M146.9 503.6h0M120.4 526.1h0M123.3 519.1h0M136.7 521h0M151.8 489.1h0M114.6 534.8h0M127.4 519.7h0M149.6 517.6h0M143.4 536.7h0M157 517.2h0M103.4 535.9h0M120.6 514.3h0M119.2 512.5h0M126.9 520.6h0M87.7 541.9h0M119.5 496.9h0M127.5 540.3h0M151.1 506.6h0M126 509.3h0M151.3 537.7h0M89 494.3h0M153.3 522.3h0M96.2 507.5h0M145.4 528.7h0M105.3 537.1h0M118.1 533.9h0M100.2 482.7h0M111.7 488.3h0M142.1 517.1h0M108.3 518h0M158.7 515.4h0M105.3 488.6h0M109.6 532.7h0M164.5 529.2h0M151.9 530.9h0M99.9 541h0M165.5 494.1h0M128 494.6h0M160.6 488.6h0M157.7 510.8h0M139.9 502.7h0M96.9 504.9h0M148.6 532.9h0M120.5 492.2h0M113.1 512.7h0M153.4 525.5h0M118.5 519.8h0M145 516.9h0M107.3 520.1h0M222.8 513.6h0M91.9 529.6h0M120.7 515.1h0M137.4 529.1h0M131.5 516h0M70.3 516.8h0M140.6 511h0M162.5 509.6h0M78.4 504.5h0M146.2 523.3h0M140.9 527.2h0M119 527.9h0M140.8 529h0M137.5 504.8h0M73.8 507.2h0M124.9 529.8h0M135.9 514.2h0M115.1 531.6h0M191 509h0M96.2 522.1h0M222.3 526.1h0M111.9 505.3h0M177.2 509.9h0M137.4 546.6h0M110.3 491h0M122.7 531.6h0M92.9 499.6h0M121.9 520.7h0M152.9 543.2h0M80.7 518.6h0M167.2 513.3h0M98.6 487.9h0M124.4 522h0M131.1 502.1h0M82.9 539.3h0M172.2 511.2h0M112.1 512.7h0M119.5 519.7h0M141.5 500.6h0M122.3 509.4h0M102.1 498.7h0M162.4 522.7h0M119.7 529.2h0M151.2 503.1h0M164.7 527.9h0M138.1 544.7h0M128.8 496.1h0M99.3 531.4h0M138.3 536.7h0M106.9 539.7h0M108.2 530.1h0M144 506.7h0M97.7 523.7h0M76.2 519.1h0M126.7 508.3h0M43.9 500.5h0M137.9 524.8h0M178 522.7h0M152.7 502.3h0M44 531.8h0M139.1 499.9h0M190.4 513.7h0M147.5 509.2h0M122.7 535.7h0M134.5 531h0M124.1 534.8h0M137.9 525.2h0M142.9 511.9h0M119.7 525.7h0M140.7 509.4h0M139 532.9h0M153 538.2h0M114.5 534.4h0M163.4 517h0M129.5 521.9h0M139.2 534.8h0M96.2 533.8h0M148.2 509.2h0M143.8 517.6h0M136.6 512.3h0M107.8 526.8h0M81 529.2h0M180.3 483.4h0M96 523.3h0M104.7 521.3h0M96.7 504.4h0M113.5 526h0M164.5 517.9h0M50.6 502.2h0M129 516.5h0M86.3 501.5h0M128.1 529.6h0M181.4 522.9h0M123.9 520.8h0M127.1 542.4h0M177.7 522.9h0M151.7 519.8h0M128.1 524.2h0M181.7 531.4h0M119.9 505h0M88.3 520h0M131.2 505.3h0M163.2 497.4h0M170.4 519.3h0M118 509.2h0M155.3 524.5h0M124.5 535.5h0M128.6 512.1h0M208.2 502h0M133.5 530.4h0M130.2 508.2h0M173.1 529.5h0M143 512.2h0M95.4 518h0M130.1 504.9h0M122.4 501.5h0M118.2 492.4h0M132.1 514.4h0M107.4 508.3h0M110.1 518.2h0M145.6 516.4h0M85.3 525.4h0M181 527.1h0M154 527.9h0M97.2 505.2h0M148.4 535.1h0M118.9 542.5h0M132.8 525.7h0M166.2 511h0M170.6 522.2h0M126.9 510.3h0M48.6 494.2h0M188.8 510.5h0M127.8 508h0M150 505.9h0M54.4 495.4h0M143.6 517.7h0M120 523h0M209.1 517.7h0M130.2 519h0M109.7 505.4h0M137.7 525.8h0M97.2 524.8h0M89.5 526.1h0M142.3 531h0M154.8 515.4h0M101.2 515h0M142.4 511.6h0M174 506.2h0M109.2 509.5h0M125.2 517.9h0M116.5 516.8h0M130.8 509.2h0M132.6 496.6h0M211.1 529.7h0M139.5 540.6h0M101.8 521.1h0M70.4 542.5h0M141.6 502.7h0M179.1 522.7h0M142.3 519h0M112.4 498.6h0M110.2 523.9h0M161.3 537.2h0M155.8 520.7h0M127.3 533.1h0M104.7 496.4h0M88.1 523.9h0M105.3 508.2h0M141.8 524.5h0M122.2 533.6h0M148.7 513.5h0M128.5 537.1h0M91.4 497.9h0M128.9 507.1h0M128.9 499h0M110.1 509.5h0M135.2 526.2h0M139.1 519.3h0M126.3 524.1h0M129.9 523.3h0M135.5 546.1h0M97.8 530.5h0M154.7 516.8h0M166.5 516.3h0M109.2 507.1h0M135.6 500.8h0M102.5 514h0M114.9 501.4h0M166.9 492.9h0M127.4 512.9h0M90.8 525.6h0M101.2 518.2h0M112.6 514.9h0M198.4 510.2h0M116.2 528.3h0M92.4 514.9h0M118 511.8h0M115.2 521.6h0M121.5 520.8h0M92.2 516.9h0M158.6 494.4h0M176.3 508.8h0M113.5 538.5h0M37.3 520.9h0M162.8 495.9h0M115.8 496.3h0M147.9 498h0M119 523.6h0M117.4 529.3h0M135.6 516.1h0M125.6 535.8h0M143.8 508.6h0M69.7 497.9h0M106 536.1h0M106.7 534.2h0M91.8 531h0M118 498.5h0M72.2 535.3h0M141.2 531.9h0M104.9 495.8h0M89 531.1h0M157.7 482.7h0M200.3 513.5h0M117.2 528.4h0M81.7 513.6h0M134.5 519.7h0M142.3 535.2h0M98.2 545.3h0M112.3 505.7h0M177.4 517h0M142 518h0M154.7 494.7h0M160.4 510.3h0M107.4 532.7h0M137.6 541.2h0M143.2 529.7h0M102.5 495.4h0M131.5 520.9h0M111.5 523.7h0M163.5 501h0M125.9 515.8h0M83 518.2h0M138.6 515.6h0M101 518.8h0M111 523.4h0M67.4 519.5h0M125.4 511.4h0M181.2 521h0M164 506.1h0M110.3 544h0M109.5 503.3h0M159.1 537.3h0M175.2 522.9h0M99.5 512.4h0M109.1 519.4h0M102.9 516h0M110.6 529.9h0M128.2 499.9h0M147.7 506h0M168.1 522.4h0M123.5 518.4h0M140.8 517.2h0M146.2 512.9h0M100.8 536.8h0M117.2 513.8h0M111 522.3h0M146.4 517.7h0M55.1 533.9h0M86 523.3h0M108.3 527.3h0M161 501.1h0M186 521.4h0M118 504h0M115.9 516.3h0M116.1 516.9h0M135.6 491.8h0M107.6 532.7h0M135 513.4h0M160.5 525.8h0M185 514.9h0M91.6 526.4h0M122.5 518.6h0M159.6 510.5h0M127.6 508.5h0M122.7 516.2h0M128.1 518.3h0M109.5 520.2h0M158.7 537.3h0M79.2 507.6h0M57.1 501.9h0M129.6 524.9h0M125.6 506.2h0M100.6 504.5h0M76.7 527.8h0M210.5 519.1h0M156.7 521.5h0M173.8 530h0M154.7 520.8h0M161.1 512.5h0M110.6 517.7h0M91.2 522.9h0M159.7 531.4h0M144.7 503.9h0M155.4 512.5h0M114.2 499.3h0M149.8 524.6h0M164.3 541.1h0M134.7 516.6h0M157.2 524.2h0M111.7 526.9h0M141.8 539.1h0M130.1 530.4h0M71 518.6h0M148 524.1h0M80.6 524.9h0M167.2 529.2h0M84.2 529.9h0M140.9 515.1h0M121 510.6h0M116.1 535.2h0M117.4 546h0M107.9 536h0M149.2 500.4h0M118.6 511.1h0M109.6 523.2h0M163.9 526.8h0M160.9 516.9h0M96.9 517.7h0M163.9 499.4h0M170.2 513.8h0M175.9 505.5h0M105.2 541.9h0M158.6 502.2h0M171.5 503.8h0M148.2 514.2h0M119.8 530.5h0M106.6 516.5h0M166 507.7h0M82.8 516.6h0M137.6 499.8h0M119.7 530.9h0M118.2 502.5h0M87.9 527.4h0M133.1 507.8h0M130.8 521h0M122.8 526.5h0M167.8 505.3h0M124.6 500.4h0M106 536.3h0M87.3 532.7h0M111.8 531.7h0M174.5 511.9h0M132 512.2h0M107.8 521.8h0M121.1 507.5h0M139.7 529.2h0M120.7 527.4h0M119 505.6h0M109.3 530.4h0M105.9 527.8h0M163.2 504.2h0M151.4 522.3h0M53.7 509.9h0M93.3 527.5h0M110.9 500.5h0M117.3 530.9h0M73.1 513.5h0M170.9 521.2h0M136.7 494h0M172.8 526.6h0M98.5 525.7h0M143.4 499.4h0M180 501.3h0M128.1 514.1h0M124.9 491h0M156.8 507.6h0M117.3 523.1h0M197.4 504.4h0M160.6 532.8h0M96.3 513h0M82.3 537.6h0M168.2 508.1h0M152.5 509.2h0M110.4 519.7h0M167.6 501.1h0M89.8 491.2h0M117.1 515.2h0M158.4 506.9h0M125.7 522.5h0M62.7 507.9h0M96.9 546.5h0M111.5 522.2h0M138 523h0M81.8 520.4h0M97.4 524.6h0M124.2 521.5h0M80.1 500.6h0M120.3 525.7h0M136.5 508.8h0M106.9 505.5h0M100.2 496.3h0M115.1 515.2h0M138.5 524.5h0M203.2 512.6h0M159.8 521.4h0M153.9 526h0M146 524.9h0M142.8 511.7h0M97.9 503.6h0M115.7 497.3h0M117.9 512.4h0M160 513.2h0M161.8 506.8h0M146.2 517.7h0M121.9 522.5h0M106 499.3h0M134.3 504.6h0M178.8 520h0M135.3 522.2h0M146.6 541.8h0M119.5 509.9h0M179.4 503.7h0M161.8 503.6h0M95.6 482.1h0M102.1 512.2h0M132.6 498.3h0M158.3 513.9h0M194 522.4h0M83.8 516.4h0M127.3 500.2h0M136.9 499.1h0M166 532.9h0M83.5 520.7h0M146.9 524.1h0M122.9 512.7h0M142.2 504h0M152 502.5h0M113.8 535.7h0M169.6 515.6h0M90.3 505.4h0M121.4 531.9h0M86.7 511h0M127.4 524h0M139.4 504.9h0M111.8 504.9h0M193.3 513.7h0M133.7 517.4h0M121.3 518.5h0M119.8 508.6h0M103.7 515.6h0M135.3 514h0M74.4 517.4h0M115.9 513h0M154.6 531.9h0M136.9 507.9h0M121.7 490.9h0M140.2 513.4h0M153.9 508.8h0M155.2 514.6h0M160.6 528.5h0M129.3 525.8h0M153 517.8h0M130.3 533.6h0M225.3 505.7h0M111.4 516.3h0M97.4 504.5h0M103.8 525h0M130.9 506.3h0M125.7 513.8h0M146.2 498.2h0M109.5 509h0M154.5 515.1h0M148 512h0M160.4 506.9h0M114.7 503.5h0M120.2 511.3h0M130.9 515.5h0M112.6 518.4h0M159.1 500.1h0M177.6 509.9h0M120.4 508h0M130.1 525.5h0M81.1 521.8h0M108.1 522.7h0M173.1 510.6h0M159.3 530.2h0M139.5 506.1h0M101.7 540.4h0M50.7 512.1h0M141 533.4h0M107.4 515h0M103.4 505.9h0M142.7 542.3h0M121.3 512.6h0M104.1 487.9h0M86.4 529.5h0M137.6 514h0M129.1 527.3h0M96.6 504h0M96.2 531.4h0M198.8 514h0M125 509.2h0M86.9 522.5h0M150.7 523.3h0M85.5 514.4h0M151.7 506h0M113.2 526.3h0M143.8 508h0M111 487.2h0M82.1 525h0M90.7 540.9h0M179.1 531.7h0M117.8 506.8h0M163.3 508.2h0M134.9 514.5h0M123.5 529.4h0M168.5 530.7h0M160.8 499.5h0M133.2 536.2h0M115 511.7h0M214.8 516.2h0M146 501.8h0M88.1 516.7h0M105.7 523.3h0M65.2 499h0M162.4 495.3h0M101.5 497.3h0M126 529.3h0M143 510.3h0M104.6 511.3h0M126.9 517.7h0M153.9 531.7h0M127.8 504.6h0M128.5 505.7h0M161.8 535h0M140.8 515.6h0M181.8 507.4h0M136.1 501.9h0M83.6 504.6h0M193.8 519.5h0M133.3 532.5h0M153.5 514.1h0M110.3 531.3h0M70.2 524.1h0M170.9 510.5h0M172.7 521.7h0M107.8 516.5h0M103.8 514.2h0M135 536.6h0M103.7 516.7h0M139.1 505.3h0M95.6 493.1h0M112.2 529h0M179.6 511.3h0M126.1 505.1h0M81 516.7h0M118.2 491.2h0M189.2 526.7h0M142.5 523.7h0M127 538.7h0M123.9 510.7h0M103.9 522.4h0M148.9 523.2h0M133.8 512h0M106.3 510.4h0M176.8 525.7h0M169.9 518.4h0M161.8 519.8h0M126 505.9h0M125.3 485.4h0M154.7 514.8h0M90 535.6h0M92.1 511.5h0M107.6 521.5h0M120 502h0M132.9 502.8h0M118.9 495.6h0M131.3 517h0M168.6 514.9h0M101.1 531.7h0M92.3 535h0M157.3 498.8h0M99.5 543.7h0M119.1 510.6h0M119.3 501.3h0M178.7 540.6h0M226.6 512.9h0M146.4 522.9h0M130.6 530.2h0M123.3 507.9h0M136.4 535.5h0M219.7 513.7h0M132.4 525.2h0M98.1 526.8h0M106.7 501.8h0M131.7 504.6h0M144.2 521.2h0M130.2 523.2h0M146.5 501.5h0M131 538.3h0M125.4 499.1h0M153.4 507.8h0M115.3 524.9h0M92.8 514.2h0M112.6 509.2h0M118.7 532.7h0M123.4 507.9h0M72.6 492.9h0M79.7 528.4h0M92.5 493.6h0M141.3 508h0M170 520.8h0M137.5 530.5h0M101.3 515.3h0M153.4 530.7h0M186.1 522.8h0M159.6 538.5h0M122.2 520h0M150.9 529.7h0M114.6 541.2h0M169.6 530.6h0M93.1 533.5h0M112.8 510h0M110.4 519.4h0M111.1 528.9h0M155 518.9h0M167.1 514.3h0M139.4 512.1h0M143.3 513.8h0M145.9 506h0M132 510.9h0M137.7 528.9h0M111.1 515.4h0M137.4 518.7h0M165.8 506.6h0M101.9 532.6h0M75.1 526.6h0M129.5 539.6h0M153.6 520h0M103.6 517.3h0M134.5 507h0M153.1 493.1h0M125.6 536.3h0M75.1 491.6h0M100.1 509.1h0M71.3 522.4h0M135.6 509.5h0M102 523.3h0M181.6 522.8h0M141.3 520.9h0M155.4 530.3h0M164.5 508.2h0M97.2 527.1h0M81.5 520.1h0M134.5 536.3h0M111.4 544h0M171.9 508.9h0M151.2 527.8h0M130.4 522.6h0M120.3 525h0M77.6 501.4h0M222.7 511.8h0M158.9 532.3h0M138.3 523.3h0M130.5 517.2h0M109 520.6h0M119.8 510.1h0M106.7 495h0M207.5 525h0M135.8 527.1h0M144.2 516.7h0M114.2 521.3h0M77.4 490.9h0M195.8 505.7h0M89.7 516.7h0M184.4 521h0M112.8 526.8h0M166.7 508.5h0M161.2 502.4h0M111.2 488.6h0M127.9 522.9h0M140.8 528.2h0M148.7 505.6h0M128.8 539.9h0M106.1 511.1h0M81.9 511.4h0M126.9 536.5h0M116.7 504.9h0M131 488h0M123.4 502h0M145.4 525.7h0M118 525.1h0M168.5 514.6h0M124.9 515.3h0M123.1 511.1h0M155.3 518.9h0M113.7 530.2h0M150.5 507.1h0M89.5 522.2h0M168.7 498h0M123.2 494.1h0M137.7 509.6h0M100.5 531.3h0M175.8 512.8h0M118.2 502.5h0M120.1 511.8h0M112.7 528.6h0M147 504.1h0M116.4 528.7h0M148.4 514.7h0M129 526.8h0M181.6 516h0M116.4 537.3h0M160 502.6h0M98.3 510.2h0M107.7 492.6h0M73.5 512.9h0M71.2 518h0M118.4 514.6h0M106.6 524.7h0M109.5 533.4h0M93.4 527h0M245.5 501.8h0M124.4 531.4h0M115.8 485h0M158 503.8h0M125.7 526.7h0M209.3 511.1h0M134.1 542.3h0M153.3 514.7h0M118.9 513.5h0M144.7 534.5h0M141.9 516.5h0M62.7 507.9h0M117.9 529.3h0M149.5 518.5h0M133.4 489.4h0M124.2 518.8h0M157.1 541h0M193 511.9h0M90 490h0M95.9 522.1h0M135.3 533.2h0M143.5 522.4h0M113.3 516.9h0M115.3 521.4h0M114.3 507.5h0M101 521h0M121.6 524.5h0M82.6 544.4h0M174.4 522.5h0M100.3 510h0M130.7 502.7h0M176.9 519.3h0M130.1 510h0M162.4 500.7h0M106.8 526.3h0M92.4 514.6h0M222.6 531.9h0M120.2 533h0M149.2 507.3h0M136.9 523.3h0M95.6 522.2h0M138 539.2h0M74.2 511.1h0M115.9 514.1h0M122.2 510.7h0M113.6 512.9h0M98 494.7h0M153.5 529.3h0M73.5 516.1h0M100.2 497.6h0M141.6 519.9h0M164.3 518.3h0M124.5 528.2h0M128.2 525h0M156.9 519.4h0M152.3 522.9h0M127.4 511.2h0M176.4 524.9h0M134.6 518.6h0M188.8 529.3h0M115.6 520.6h0M123.6 527.6h0M97.8 521.6h0M126.5 519.2h0M159.2 527.9h0M95.9 516.1h0M73.2 501.9h0M161.7 520.1h0M114.3 504.6h0M128.6 517h0M159.4 516.3h0M146.1 514.8h0M158.7 529.1h0M92.9 529.6h0M125.5 525.4h0M172.2 510h0M129.4 534.6h0M88 520.2h0M116.2 516.3h0M119.6 507.4h0M137.4 502.8h0M120.2 512.9h0M44.2 517.3h0M93.5 500h0M132.8 515.1h0M110.5 526h0M123.3 512.5h0M136.6 533.9h0M75.7 539h0M152.2 516.5h0M192.6 502.8h0M129.6 513.4h0M158.1 516.1h0M111.3 523.3h0M104.8 512.4h0M121.2 525.2h0M151.5 519.1h0M174.4 515.5h0M134.9 519.8h0M110.4 503.9h0M112.8 534.3h0M121.5 518.7h0M158.6 546.3h0M125.4 535.7h0M105.4 525.3h0M173.7 513.1h0M126.6 526h0M174.1 514.7h0M147.2 515.4h0M158.3 526.8h0M149.3 520.8h0M157.7 508h0M115.3 508h0M151.9 501.8h0M137.7 534.1h0M142.2 543h0M165.5 516.6h0M135.7 524.2h0M155.1 510.4h0M125.5 515.8h0M108 519.8h0M182.6 519.3h0M185.7 540.4h0M127.6 497.3h0M95 516.3h0M157.7 529.8h0M86.1 545.4h0M67.1 516.3h0M101.1 502.8h0M149.1 498.7h0M88.9 493.1h0M145.1 518.5h0M118.8 505h0M123.5 512.9h0M148.5 510.7h0M102.7 508h0M69.2 491.3h0M123.9 501.6h0M110.9 515.1h0M125 497.1h0M136 500h0M138.4 489.4h0M112.5 498.6h0M185.5 505.9h0M92.2 543.2h0M110.7 503.7h0M141.3 539.9h0M99.6 534.6h0M105.6 502.7h0M110.6 529.4h0M201.7 530.1h0M151.8 502.5h0M135.1 507.8h0M128.2 538.7h0M117.5 525.5h0M158.2 522.3h0M88.1 514.1h0M158.8 509.4h0M146.2 517.4h0M120.2 507.7h0M122.3 526.9h0M116.9 502.4h0M205.6 514.1h0M140.7 502.1h0M150.8 514.8h0M113 513.7h0M126.2 513.4h0M88.8 514.9h0M145 508.2h0M156.4 491.8h0M171.7 527.1h0M85.9 519.5h0M133.9 491.2h0M98.7 516.5h0M151.6 526.1h0M105.6 505h0M117.6 528.4h0M106.5 498.9h0M107.7 530.8h0M95.4 526.4h0M144.4 520.4h0M155.4 520.2h0M133.1 503.8h0M116.2 520.5h0M145.6 517.2h0M132.4 522.6h0M121.6 522.6h0M189.9 528.1h0M91.7 513h0M90.3 514.3h0M156.3 542.1h0M70.2 526h0M125.5 528.4h0M84.9 520.7h0M118.4 495h0M118.3 514.9h0M153.5 525.8h0M182.4 502.4h0M150.1 512.6h0M173.2 543.1h0M198.2 543.1h0M167.8 544.6h0M189.7 538.2h0" stroke="#000" stroke-width="1.0" stroke-linecap="square" fill="none"/><path d="M55.8 564.8h0M54.5 573.2h0M68.4 556.9h0M72.1 548.7h0M77.3 550.2h0M81.2 549.4h0M84.7 553.7h0M84.3 562.5h0M87.3 548.1h0M92.2 548.7h0M93.1 554.6h0M95.7 548.1h0M97.5 547.8h0M97.8 552h0M96.9 556.9h0M101.3 551.1h0M105.2 549.9h0M105.7 555.7h0M108.3 549h0M111.8 548.1h0M112.7 550.8h0M117.1 549.4h0M120.2 547.6h0M120.2 563h0M120.2 568.3h0M125.8 553.4h0M126.4 551.1h0M125.5 556h0M135 560.4h0M141.3 552h0M147.7 547.6h0M152.6 557.8h0M155.3 551.6h0M91.7 577h0M94 581.1h0M155.5 551.4h0M173.2 560.1h0M190.2 556.1h0M193 560.5h0M204.3 556.8h0M243.9 556.6h0" stroke="#22ee22" stroke-width="1.3" stroke-linecap="square" fill="none"/><path d="M124.4 458.6h0M70.8 474.6h0M46.4 433.3h0M148.6 462.7h0M86.7 477.5h0M52.8 419.7h0M91.4 476.5h0M152.8 465h0M145.8 466.8h0M117.3 461h0M85.3 422.8h0M90.5 428.1h0M89.8 476h0M121.7 461.1h0M151.4 470.9h0M164.8 475.5h0M83.8 477.7h0M148.8 458.5h0M136.8 411.5h0M199.4 451.7h0M207.4 480.9h0M144.4 395.4h0M87.4 444.6h0M50 476.4h0M129 468.3h0M69.4 477.3h0M71.9 480.5h0M157.8 469.9h0M173.6 470.4h0M102.4 403.8h0M132 474.8h0M117.8 460.2h0M112.5 453.7h0M121.5 449.1h0M88.3 472.2h0M179.2 475.3h0M112.2 465.2h0M152.9 403.5h0M126.2 451h0M150.8 481.1h0M127.2 461.4h0M119 456.1h0M179.8 437.9h0M173 478.9h0M115.8 466.8h0M209.3 480.2h0M123.5 470.3h0M141.9 451.7h0M116.3 469.2h0M113.3 452.8h0M97.5 469.4h0M88.1 456.1h0M191.8 386.3h0M167.5 397.3h0M115.9 461.6h0M83.1 475.8h0M79.8 427h0M158.7 355.1h0M112.5 454.5h0M173.9 434.8h0M114.9 471.8h0M142.2 465.1h0M150.4 477.5h0M104.7 400.7h0M158.7 427.6h0M146.7 456.7h0M118.3 448.9h0M107.5 477.5h0M110.8 467.7h0M142.3 474.5h0M148.2 472.1h0M72.7 473.7h0M112.7 426.9h0M160.7 474.6h0M91.9 429h0M103.7 460.4h0M146 459.4h0M95 423.1h0M153.1 347.1h0M111.8 475.5h0M56.5 407.9h0M123.9 454.1h0M76 413.3h0M167.7 448.6h0M124.8 435.2h0M147 448.6h0M160.8 480.2h0M96.7 466.8h0M74.9 391.6h0M75.4 455.3h0M160.3 475.7h0M86.2 465.6h0M113.4 470.4h0M145.5 478h0M145.5 389.1h0M131.3 476.8h0M106.8 473.2h0M72.7 466.1h0M147.4 403.4h0M156.7 479.3h0M178.9 464.4h0M133.6 368h0M65.5 464.1h0M90 475.4h0M123.6 469h0M168.3 477h0M94.3 449.4h0M74.1 472.6h0M87.3 455.4h0M151.5 463.2h0M174.8 465.9h0M119.3 480.3h0M132.2 442.7h0M140 479.9h0M165.4 460.7h0M148.1 477.1h0M145.3 467.9h0M158.9 473.2h0M167.2 449.5h0M125.6 475h0M135.2 450.2h0M125.8 440.6h0M93.2 443.4h0M112.5 477h0M140.9 478h0M133.6 469.6h0M57.1 474.3h0M143.5 479.6h0M96.9 450.5h0M155 479.3h0M98.7 466.7h0M195.7 455.4h0M124.3 475.5h0M211.7 450.1h0M116.8 419.4h0M109.3 474.5h0M95 472.4h0M123.2 477.6h0M191 450.5h0M168.7 480.3h0M139.8 463.1h0M136.8 464.4h0M117.4 477.1h0M94.5 411h0M155.5 420.1h0M189.7 480.1h0M121.9 464.4h0M146.4 449.2h0M88 477.2h0M115.4 458.4h0M119.4 469.9h0M81.4 434.8h0M152.8 404.1h0M148 469.4h0M135.2 461.9h0M88.6 471.2h0M144.1 475.4h0M114.2 474.6h0M144.9 448.9h0M176.1 458.8h0M161.3 473.4h0M209.8 415.4h0M76.7 478.1h0M186.1 423.8h0M109.9 430.2h0M99 458.3h0M94.2 468.1h0M69 468.1h0M139 444.3h0M146.6 468.3h0M162.9 402.5h0M45.3 461.9h0M74.6 437.1h0M59.6 449.5h0M111.7 451.2h0M144.8 423.1h0M113.7 463.9h0M90.3 409.2h0M105 428.8h0M98.3 448.9h0M150.4 378h0M114 457.1h0M116.5 461.6h0M138 476h0M59.6 464.2h0M112.4 475.1h0M85.7 455.6h0M115.7 476.2h0M141.3 431.8h0M166 462.9h0M91.7 458.1h0M166.2 415.5h0M113.3 480.9h0M123.5 474.3h0M87.2 466h0M98.6 455.4h0M167.2 427.1h0M100 480.5h0M162 464.2h0M158.7 480.3h0M181.1 479.3h0M110.5 468.8h0M121.9 475.7h0M128.8 422.4h0M107.8 451.5h0M133.9 471.2h0M105.3 452.8h0M126.7 432.3h0M181.4 462.2h0M143.8 475.4h0M115.9 450.4h0M95.5 451.4h0M101.2 476.8h0M155.9 440.6h0M111.5 470.3h0M132.8 450.2h0M88.5 415.8h0M130 399.4h0M79.3 478h0M100.1 465.2h0M127.9 464.6h0M58.8 446.2h0M101 475.9h0M132.4 443.8h0M85 443.6h0M184.8 444.6h0M155.2 474.8h0M81.6 467.7h0M136.3 480.4h0M119.2 465.5h0M77.9 475.3h0M188.2 465.5h0M189.5 475.9h0M106.1 410.2h0M118.5 480.1h0M163.2 476.4h0M111.4 426.7h0M125.2 448.5h0M176.2 441.8h0M82.9 452.5h0M144.1 456.6h0M110.4 445.6h0M139.8 412.2h0M72.8 400.8h0M146.2 393h0M97.6 481.2h0M122.5 427.1h0M174.8 473.1h0M185 468.7h0M119.1 444.7h0M65.9 394.2h0M146.6 410.4h0M184.4 466.5h0M103.9 437.9h0M106.6 435.9h0M93.4 471.5h0M154.2 455.3h0M149.1 479.9h0M141 471.3h0M72.3 461.6h0M69.8 459.7h0M144 453.7h0M133.6 443.8h0M79.9 464.7h0M142.7 454.2h0M115.5 457.5h0M109.7 477.5h0M176 446.8h0M105.5 470.8h0M146.3 478.3h0M139.4 460.6h0M104.7 472.1h0M122.1 462h0M179.3 463.9h0M152.5 379.2h0M76.7 358.4h0M123 422.8h0M107.1 479.5h0M151.9 395.8h0M97.4 449h0M138.6 474.2h0M139.3 445h0M133 456h0M127.9 462.5h0M143.2 438.5h0M124.4 433.1h0M167.8 448.6h0M156.7 449.3h0M76 428.4h0M88.5 453.2h0M105.2 480.6h0M73.2 447.6h0M174.7 478.9h0M158.9 480h0M111 438.6h0M147 474.6h0M94.2 418.1h0M176.2 461h0M136.1 472.6h0M176.7 472.5h0M136.6 469h0M156.9 441.8h0M181.7 459.1h0M212.9 413.6h0M78.1 461.1h0M138.2 476.1h0M114.9 443.1h0M174.4 472.2h0M153.7 433.3h0M177.9 473.8h0M224.7 441h0M89.8 478.5h0M107.2 480.3h0M173.3 453.8h0M127 467.6h0M103.9 414.9h0M186.2 478.7h0M172.6 459.2h0M208.4 473.5h0M119.4 438.1h0M167.6 347.4h0M108.8 469.1h0M124.2 410.5h0M107.8 470h0M63.8 392.4h0M180.3 468.5h0M47.7 461.9h0M148 478h0M149.9 435.9h0M153.6 475.3h0M155.4 467.1h0M199.8 451h0M89.2 479.5h0M110.8 462.1h0M107.6 454.1h0M107.5 461.8h0M124.1 454.3h0M103.8 453.8h0M173.9 470.4h0M153.7 460h0M156.1 440.1h0M147.3 479.9h0M145.9 479.5h0M44.5 453.3h0M89.9 476.7h0M165.3 475.5h0M90.7 480.3h0M86.8 453.3h0M165.6 444.7h0M123.5 435.6h0M186.9 449.7h0M80 413.7h0M93.4 441.1h0M174.7 443.1h0M51.1 417.3h0M149.5 469.5h0M131.8 405.1h0M99 461.2h0M142.8 408.1h0M83.4 453.1h0" stroke="#ff3030" stroke-width="1.3" stroke-linecap="square" fill="none"/></g><text x="20.3" y="579.3" font-size="9.0" text-anchor="end" fill="#111">-3</text><text x="20.3" y="517.4" font-size="9.0" text-anchor="end" fill="#111">0</text><text x="20.3" y="455.5" font-size="9.0" text-anchor="end" fill="#111">3</text><text x="20.3" y="393.7" font-size="9.0" text-anchor="end" fill="#111">6</text><text x="58" y="605.8" font-size="9.0" text-anchor="middle" fill="#111">0</text><text x="102" y="605.8" font-size="9.0" text-anchor="middle" fill="#111">1</text><text x="145.9" y="605.8" font-size="9.0" text-anchor="middle" fill="#111">2</text><text x="189.9" y="605.8" font-size="9.0" text-anchor="middle" fill="#111">3</text><text x="233.8" y="605.8" font-size="9.0" text-anchor="middle" fill="#111">4</text><text x="277.8" y="605.8" font-size="9.0" text-anchor="middle" fill="#111">5</text><path d="M22.6 576.2H26.6M22.6 514.3H26.6M22.6 452.4H26.6M22.6 390.6H26.6M58 591.9V595.6M102 591.9V595.6M145.9 591.9V595.6M189.9 591.9V595.6M233.8 591.9V595.6M277.8 591.9V595.6" stroke="#444" stroke-width="1"/><text x="153.3" y="333" font-size="10.5" text-anchor="middle" fill="#111">MA plot</text><text x="153.4" y="618" font-size="10" text-anchor="middle" fill="#111">log2(FPKM)</text><text x="9.6" y="464.5" font-size="10.4" text-anchor="middle" transform="rotate(-90 9.6 464.5)" fill="#111">log2(FC)</text><text x="13.8" y="331.8" font-size="13" text-anchor="start" font-weight="bold" fill="#000">b</text><path d="M285 117.5H301M285 134.1H301M285 150.5H301M285 167.1H301M285 117.5V167.1M301 117.5V167.1" stroke="#cfcfcf" stroke-width="1" fill="none"/><rect x="292.4" y="125.2" width="1.3" height="1.3" fill="#ff3030"/><text x="303.5" y="129.1" font-size="9" text-anchor="start" fill="#111">Up</text><rect x="292.4" y="141.7" width="1.3" height="1.3" fill="#22ee22"/><text x="303.5" y="145.6" font-size="9" text-anchor="start" fill="#111">Down</text><rect x="292.4" y="158.2" width="1.3" height="1.3" fill="#000"/><text x="303.5" y="162.1" font-size="9" text-anchor="start" fill="#111">Normal</text><path d="M285 442.7H301M285 459.3H301M285 475.7H301M285 492.3H301M285 442.7V492.3M301 442.7V492.3" stroke="#cfcfcf" stroke-width="1" fill="none"/><rect x="292.4" y="450.4" width="1.3" height="1.3" fill="#ff3030"/><text x="303.5" y="454.3" font-size="9" text-anchor="start" fill="#111">Up</text><rect x="292.4" y="466.9" width="1.3" height="1.3" fill="#22ee22"/><text x="303.5" y="470.8" font-size="9" text-anchor="start" fill="#111">Down</text><rect x="292.4" y="483.4" width="1.3" height="1.3" fill="#000"/><text x="303.5" y="487.3" font-size="9" text-anchor="start" fill="#111">Normal</text><text x="409.4" y="560" font-size="11.5" text-anchor="start" transform="rotate(90 409.4 560)" fill="#111">T1</text><text x="454.1" y="560" font-size="11.5" text-anchor="start" transform="rotate(90 454.1 560)" fill="#111">T2</text><text x="498.7" y="560" font-size="11.5" text-anchor="start" transform="rotate(90 498.7 560)" fill="#111">T3</text><text x="543.3" y="560" font-size="11.5" text-anchor="start" transform="rotate(90 543.3 560)" fill="#111">TE1</text><text x="587.9" y="560" font-size="11.5" text-anchor="start" transform="rotate(90 587.9 560)" fill="#111">TE2</text><text x="632.6" y="560" font-size="11.5" text-anchor="start" transform="rotate(90 632.6 560)" fill="#111">TE3</text><text x="673.8" y="11.6" font-size="12" text-anchor="start" fill="#111">2</text><text x="673.8" y="42.2" font-size="12" text-anchor="start" fill="#111">1</text><text x="673.8" y="72.2" font-size="12" text-anchor="start" fill="#111">0</text><text x="673.8" y="102.5" font-size="12" text-anchor="start" fill="#111">-1</text><text x="673.8" y="131.7" font-size="12" text-anchor="start" fill="#111">-2</text><text x="337" y="10.6" font-size="14" text-anchor="start" font-weight="bold" fill="#000">c</text><path d="M348.8 16.4V365M348.8 16.4H362.1M348.8 365H359.4M362.1 7.4V25.3M362.1 7.4H376M362.1 25.3H368.1M368.1 16.9V33.8M368.1 16.9H376.5M376.5 10.7V23.6M376.5 10.7H377.6M377.6 10.7V10.6M379.2 17.2H379.9M379.2 23.5H380.8M379.2 17.2V23.5M376.5 23.6H379.2M379.2 23.6V20.3M368.1 33.8H374M374 30V38M374 30H377.1M377.1 30V29.5M379.1 42H379.5M379.1 47.7H380.5M379.1 42V47.7M379.8 51.1H381.2M379.8 60.9H380.3M379.8 51.1V60.9M378.1 44.9H379.1M378.1 56H379.8M378.1 44.9V56M377.2 35.5H378.4M377.2 50.4H378.1M377.2 35.5V50.4M374 38H377.2M377.2 38V43M359.4 192.2V537.3M359.4 192.2H366.5M359.4 537.3H361.9M361.9 535.5V542M361.9 535.5H366.4M366.4 535.5V533.4M368 539.8H369.5M368 545H369.6M368 539.8V545M366.6 542.4H368M366.6 549.2H367.5M366.6 542.4V549.2M366.1 545.8H366.6M366.1 553.2H367.2M366.1 545.8V553.2M361.9 542H366.1M366.1 542V549.5M366.5 64.9V319.6M366.5 64.9H376.9M366.5 319.6H369.6M369.6 119.1V520M369.6 119.1H377.2M369.6 520H373M373 514V526M373 514H375.8M375.8 514V512.6M375 522.4H375.8M375 529.7H375.9M375 522.4V529.7M373 526H375M377.2 74.4V163.5M377.2 74.4H379M377.2 163.5H380.3M380.3 100V227M383.9 96.9H384.5M383.9 104.4H384.9M383.9 96.9V104.4M383.1 100.7H383.9M383.1 137.7H384.2M383.1 100.7V137.7M381.5 86.4H382.6M381.5 119.2H383.1M381.5 86.4V119.2M380.3 100H381.5M381.5 100V102.8M384 159.1H385.5M384 170.3H385.4M384 159.1V170.3M383.1 164.7H384M383.1 276.6H384.1M383.1 164.7V276.6M383 417.7H385.4M383 495.3H385.4M383 417.7V495.3M382.6 220.6H383.1M382.6 456.5H383M382.6 220.6V456.5M380.3 227H382.6M382.6 227V338.6" fill="none" stroke="#8a8a8a" stroke-width="1"/><path d="M386.3 7.2H391M385.6 8.3H391M376 7.2H386.3M376 8.3H385.6M376 7.2V8.3M388.3 9.2H391M389 9.9H391M387.4 9.2H388.3M387.4 9.9H389M387.4 9.2V9.9M389.2 11H391M387.5 12.3H391M387.5 11H389.2M387.5 12.3V11M377.6 9.5H387.4M377.6 11.7H387.5M377.6 9.5V11.7M388.1 13.5H391M389.5 14.5H391M388.7 15.6H391M388.7 14.5H389.5M388.7 15.6V14.5M386.8 13.5H388.1M386.8 15H388.7M386.8 13.5V15M388.4 16.8H391M384.8 14.2H386.8M384.8 16.8H388.4M384.8 14.2V16.8M388 19.5H391M385 18.1H391M385 19.5H388M385 18.1V19.5M379.9 15.5H384.8M379.9 18.8H385M379.9 15.5V18.8M389.3 22.8H391M388.4 21.8H391M388.4 22.8H389.3M388.4 21.8V22.8M386.9 20.7H391M386.9 22.3H388.4M386.9 20.7V22.3M389.4 23.9H391M389.2 24.9H391M388 23.9H389.4M388 24.9H389.2M388 23.9V24.9M389.9 27H391M389 25.9H391M389 27H389.9M389 25.9V27M387.5 24.4H388M387.5 26.5H389M387.5 24.4V26.5M380.8 21.5H386.9M380.8 25.4H387.5M380.8 21.5V25.4M387.3 28.3H391M390 29.5H391M389.3 30.5H391M389.3 29.5H390M389.3 30.5V29.5M388.7 31.5H391M388.1 30H389.3M388.1 31.5H388.7M388.1 30V31.5M377.1 28.3H387.3M377.1 30.8H388.1M377.1 28.3V30.8M389.3 35.8H391M388.6 34.7H391M388.6 35.8H389.3M388.6 34.7V35.8M387.3 33.6H391M387.3 35.2H388.6M387.3 33.6V35.2M386 32.5H391M386 34.4H387.3M386 32.5V34.4M389 38.8H391M387.7 37.8H391M387.7 38.8H389M387.7 37.8V38.8M386.6 36.8H391M386.6 38.3H387.7M386.6 36.8V38.3M378.4 33.5H386M378.4 37.6H386.6M378.4 33.5V37.6M388.2 39.9H391M385.7 41H391M385.7 39.9H388.2M385.7 41V39.9M388.2 42.3H391M388.5 43.3H391M387.5 42.3H388.2M387.5 43.3H388.5M387.5 42.3V43.3M388.6 44.3H391M385.5 42.8H387.5M385.5 44.3H388.6M385.5 42.8V44.3M379.5 40.4H385.7M379.5 43.5H385.5M379.5 40.4V43.5M389 45.4H391M388.6 46.4H391M388 45.4H389M388 46.4H388.6M388 45.4V46.4M386.2 47.5H391M385.2 45.9H388M385.2 47.5H386.2M385.2 45.9V47.5M387.8 48.4H391M385.9 49.1H391M384.5 48.4H387.8M384.5 49.1H385.9M384.5 48.4V49.1M380.5 46.7H385.2M380.5 48.8H384.5M380.5 46.7V48.8M389.4 58.8H391M388.8 57.7H391M388.8 58.8H389.4M388.8 57.7V58.8M388.2 56.6H391M388.2 58.2H388.8M388.2 56.6V58.2M385.6 55.5H391M385.6 57.4H388.2M385.6 55.5V57.4M384.7 54.4H391M384.7 56.4H385.6M384.7 54.4V56.4M383.9 53.3H391M383.9 55.4H384.7M383.9 53.3V55.4M382.6 52.2H391M382.6 54.3H383.9M382.6 52.2V54.3M382.5 51.1H391M382.5 53.3H382.6M382.5 51.1V53.3M381.2 50H391M381.2 52.2H382.5M381.2 50V52.2M388.3 59.7H391M384.6 60.6H391M384.6 59.7H388.3M384.6 60.6V59.7M388.1 61.3H391M385.9 61.9H391M384.6 61.3H388.1M384.6 61.9H385.9M384.6 61.3V61.9M380.3 60.2H384.6M380.3 61.6H384.6M380.3 60.2V61.6M388.4 531.4H391M387.9 532.4H391M386 531.4H388.4M386 532.4H387.9M386 531.4V532.4M388 533.6H391M387.8 534.5H391M386.8 533.6H388M386.8 534.5H387.8M386.8 533.6V534.5M389.7 535.4H391M388.7 536.5H391M388.7 535.4H389.7M388.7 536.5V535.4M385.5 534.1H386.8M385.5 535.9H388.7M385.5 534.1V535.9M366.4 531.9H386M366.4 535H385.5M366.4 531.9V535M389.5 539.6H391M388.5 538.6H391M388.5 539.6H389.5M388.5 538.6V539.6M387.6 537.5H391M387.6 539.1H388.5M387.6 537.5V539.1M389.3 540.7H391M388.5 541.7H391M387.9 540.7H389.3M387.9 541.7H388.5M387.9 540.7V541.7M369.5 538.3H387.6M369.5 541.2H387.9M369.5 538.3V541.2M388.4 544.7H391M386.7 543.6H391M386.7 544.7H388.4M386.7 543.6V544.7M384.6 542.6H391M384.6 544.2H386.7M384.6 542.6V544.2M387.6 547.2H391M385 545.9H391M385 547.2H387.6M385 545.9V547.2M369.6 543.4H384.6M369.6 546.5H385M369.6 543.4V546.5M385.7 548.5H391M386.7 549.6H391M388.9 550.3H391M385.8 549.6H386.7M385.8 550.3H388.9M385.8 549.6V550.3M367.5 548.5H385.7M367.5 549.9H385.8M367.5 548.5V549.9M388.4 552.5H391M386.8 551.3H391M386.8 552.5H388.4M386.8 551.3V552.5M389.3 553.8H391M390.1 554.8H391M389.8 555.8H391M389.3 554.8H390.1M389.3 555.8H389.8M389.3 554.8V555.8M387.3 553.8H389.3M387.3 555.3H389.3M387.3 553.8V555.3M367.2 551.9H386.8M367.2 554.5H387.3M367.2 551.9V554.5M389.3 66.1H391M387.4 65H391M387.4 66.1H389.3M387.4 65V66.1M386.3 63.9H391M386.3 65.6H387.4M386.3 63.9V65.6M385 62.8H391M385 64.8H386.3M385 62.8V64.8M388.7 69.4H391M387.2 68.3H391M387.2 69.4H388.7M387.2 68.3V69.4M385.3 67.2H391M385.3 68.9H387.2M385.3 67.2V68.9M376.9 63.8H385M376.9 68.1H385.3M376.9 63.8V68.1M389.9 511.9H391M388.8 510.8H391M388.8 511.9H389.9M388.8 510.8V511.9M387.9 509.7H391M387.9 511.3H388.8M387.9 509.7V511.3M386.8 508.6H391M386.8 510.5H387.9M386.8 508.6V510.5M389.6 513H391M388.6 514.1H391M388.6 513H389.6M388.6 514.1V513M387.8 515.2H391M387.8 513.6H388.6M387.8 515.2V513.6M389.5 517.4H391M388.4 516.3H391M388.4 517.4H389.5M388.4 516.3V517.4M386.9 514.4H387.8M386.9 516.9H388.4M386.9 514.4V516.9M375.8 509.5H386.8M375.8 515.6H386.9M375.8 509.5V515.6M389.1 518.7H391M388.7 520H391M388.3 518.7H389.1M388.3 520H388.7M388.3 518.7V520M388.6 521.3H391M387.4 519.3H388.3M387.4 521.3H388.6M387.4 519.3V521.3M389.8 522.5H391M389.5 523.8H391M388.1 522.5H389.8M388.1 523.8H389.5M388.1 522.5V523.8M389.9 527.4H391M389.2 526.3H391M389.2 527.4H389.9M389.2 526.3V527.4M388.5 525.2H391M388.5 526.9H389.2M388.5 525.2V526.9M386.8 523.1H388.1M386.8 526H388.5M386.8 523.1V526M375.8 520.3H387.4M375.8 524.6H386.8M375.8 520.3V524.6M388.6 528.5H391M387.1 529.5H391M387.1 528.5H388.6M387.1 529.5V528.5M386.4 530.5H391M375.9 529H387.1M375.9 530.5H386.4M375.9 529V530.5M389.4 70.5H391M388.2 71.6H391M388.2 70.5H389.4M388.2 71.6V70.5M387 72.6H391M387 71H388.2M387 72.6V71M386.2 73.7H391M386.2 71.8H387M386.2 73.7V71.8M389.5 74.8H391M388.5 76H391M388.5 74.8H389.5M388.5 76V74.8M387.7 77.2H391M387.7 75.4H388.5M387.7 77.2V75.4M386.8 78.4H391M386.8 76.3H387.7M386.8 78.4V76.3M379 72.8H386.2M379 77.3H386.8M379 72.8V77.3M389.8 79.6H391M388.2 80.7H391M388.2 79.6H389.8M388.2 80.7V79.6M387.3 81.9H391M387.3 80.1H388.2M387.3 81.9V80.1M386.5 83H391M386.5 81H387.3M386.5 83V81M385 84.1H391M385 82H386.5M385 84.1V82M384.9 85.3H391M384.9 83.1H385M384.9 85.3V83.1M384 86.4H391M384 84.2H384.9M384 86.4V84.2M382.6 87.6H391M382.6 85.3H384M382.6 87.6V85.3M389.3 89.7H391M388 88.7H391M388 89.7H389.3M388 88.7V89.7M388.1 90.8H391M385.5 89.2H388M385.5 90.8H388.1M385.5 89.2V90.8M390.2 96H391M389.7 94.9H391M389.7 96H390.2M389.7 94.9V96M389.3 93.9H391M389.3 95.4H389.7M389.3 93.9V95.4M388.9 92.8H391M388.9 94.7H389.3M388.9 92.8V94.7M388.2 91.8H391M388.2 93.7H388.9M388.2 91.8V93.7M389.1 99.8H391M387.9 98.5H391M387.9 99.8H389.1M387.9 98.5V99.8M386.4 97.1H391M386.4 99.1H387.9M386.4 97.1V99.1M385.6 92.8H388.2M385.6 98.1H386.4M385.6 92.8V98.1M384.9 90H385.5M384.9 95.5H385.6M384.9 90V95.5M385.3 101.2H391M384.5 92.7H384.9M384.5 101.2H385.3M384.5 92.7V101.2M386.9 102.4H391M388.5 103.5H391M386.2 102.4H386.9M386.2 103.5H388.5M386.2 102.4V103.5M389.7 104.5H391M389.4 105.2H391M388.9 104.5H389.7M388.9 105.2H389.4M388.9 104.5V105.2M390.1 106.2H391M390.1 107.4H391M389.5 106.2H390.1M389.5 107.4H390.1M389.5 106.2V107.4M388.2 104.8H388.9M388.2 106.8H389.5M388.2 104.8V106.8M384.9 103H386.2M384.9 105.8H388.2M384.9 103V105.8M390.4 108.5H391M390 109.7H391M390 108.5H390.4M390 109.7V108.5M389.9 110.9H391M389.9 109.1H390M389.9 110.9V109.1M389.8 112.1H391M389.8 110H389.9M389.8 112.1V110M389.4 113.3H391M389.4 111H389.8M389.4 113.3V111M388.7 114.4H391M388.7 112.2H389.4M388.7 114.4V112.2M388.6 115.6H391M388.6 113.3H388.7M388.6 115.6V113.3M388.8 116.8H391M388.8 114.5H388.6M388.8 116.8V114.5M388 118H391M388 115.6H388.8M388 118V115.6M388.1 119.2H391M388.1 116.8H388M388.1 119.2V116.8M387.5 120.4H391M387.5 118H388.1M387.5 120.4V118M387.6 121.6H391M387.6 119.2H387.5M387.6 121.6V119.2M387.2 122.7H391M387.2 120.4H387.6M387.2 122.7V120.4M390.2 123.9H391M389.7 125H391M389.7 123.9H390.2M389.7 125V123.9M389.4 126.1H391M389.4 124.5H389.7M389.4 126.1V124.5M389.5 127.3H391M389.5 125.3H389.4M389.5 127.3V125.3M388.7 128.4H391M388.7 126.3H389.5M388.7 128.4V126.3M388.9 129.5H391M388.9 127.3H388.7M388.9 129.5V127.3M388.1 130.6H391M388.1 128.4H388.9M388.1 130.6V128.4M387.9 131.8H391M387.9 129.5H388.1M387.9 131.8V129.5M387.4 132.9H391M387.4 130.7H387.9M387.4 132.9V130.7M387.2 134H391M387.2 131.8H387.4M387.2 134V131.8M385.6 121.6H387.2M385.6 132.9H387.2M385.6 121.6V132.9M390.1 135.2H391M389.8 136.4H391M389.8 135.2H390.1M389.8 136.4V135.2M389.5 137.5H391M389.5 135.8H389.8M389.5 137.5V135.8M389.2 138.7H391M389.2 136.7H389.5M389.2 138.7V136.7M388.3 139.9H391M388.3 137.7H389.2M388.3 139.9V137.7M387.8 141.1H391M387.8 138.8H388.3M387.8 141.1V138.8M387.1 142.3H391M387.1 140H387.8M387.1 142.3V140M387.1 143.5H391M387.1 141.1H387.1M387.1 143.5V141.1M387.2 144.7H391M387.2 142.3H387.1M387.2 144.7V142.3M385.7 145.8H391M385.7 143.5H387.2M385.7 145.8V143.5M385.7 147H391M385.7 144.7H385.7M385.7 147V144.7M385.1 148.2H391M385.1 145.8H385.7M385.1 148.2V145.8M384.8 149.4H391M384.8 147H385.1M384.8 149.4V147M384.2 127.2H385.6M384.2 148.2H384.8M384.2 127.2V148.2M389.7 152.8H391M388.2 151.7H391M388.2 152.8H389.7M388.2 151.7V152.8M387.2 150.6H391M387.2 152.2H388.2M387.2 150.6V152.2M390.4 153.9H391M390 155.1H391M390 153.9H390.4M390 155.1V153.9M390 156.3H391M390 154.5H390M390 156.3V154.5M389.7 157.4H391M389.7 155.4H390M389.7 157.4V155.4M389.3 158.6H391M389.3 156.4H389.7M389.3 158.6V156.4M388.8 159.8H391M388.8 157.5H389.3M388.8 159.8V157.5M388.5 160.9H391M388.5 158.6H388.8M388.5 160.9V158.6M388.6 162.1H391M388.6 159.8H388.5M388.6 162.1V159.8M387.9 163.3H391M387.9 161H388.6M387.9 163.3V161M388.2 164.5H391M388.2 162.1H387.9M388.2 164.5V162.1M387.9 165.6H391M387.9 163.3H388.2M387.9 165.6V163.3M387.4 166.8H391M387.4 164.5H387.9M387.4 166.8V164.5M387.2 168H391M387.2 165.6H387.4M387.2 168V165.6M385.5 151.4H387.2M385.5 166.8H387.2M385.5 151.4V166.8M390.2 180.5H391M389.8 179.4H391M389.8 180.5H390.2M389.8 179.4V180.5M389.4 178.2H391M389.4 179.9H389.8M389.4 178.2V179.9M388.8 177.1H391M388.8 179.1H389.4M388.8 177.1V179.1M388.6 176H391M388.6 178.1H388.8M388.6 176V178.1M387.9 174.8H391M387.9 177H388.6M387.9 174.8V177M387.3 173.7H391M387.3 175.9H387.9M387.3 173.7V175.9M386.8 172.5H391M386.8 174.8H387.3M386.8 172.5V174.8M386.7 171.4H391M386.7 173.7H386.8M386.7 171.4V173.7M385.9 170.3H391M385.9 172.5H386.7M385.9 170.3V172.5M385.4 169.1H391M385.4 171.4H385.9M385.4 169.1V171.4M389.6 182.7H391M388.7 181.6H391M388.7 182.7H389.6M388.7 181.6V182.7M389.6 183.8H391M390 184.5H391M389 183.8H389.6M389 184.5H390M389 183.8V184.5M388.3 182.2H388.7M388.3 184.1H389M388.3 182.2V184.1M390.4 198.8H391M390.3 197.7H391M390.3 198.8H390.4M390.3 197.7V198.8M390.2 196.6H391M390.2 198.2H390.3M390.2 196.6V198.2M389.9 195.4H391M389.9 197.4H390.2M389.9 195.4V197.4M389.9 194.3H391M389.9 196.4H389.9M389.9 194.3V196.4M389.4 193.2H391M389.4 195.4H389.9M389.4 193.2V195.4M389.2 192.1H391M389.2 194.3H389.4M389.2 192.1V194.3M389.3 191H391M389.3 193.2H389.2M389.3 191V193.2M389.2 189.9H391M389.2 192.1H389.3M389.2 189.9V192.1M388.8 188.7H391M388.8 191H389.2M388.8 188.7V191M388.7 187.6H391M388.7 189.9H388.8M388.7 187.6V189.9M388.4 186.5H391M388.4 188.7H388.7M388.4 186.5V188.7M388.3 185.4H391M388.3 187.6H388.4M388.3 185.4V187.6M387.1 183.2H388.3M387.1 186.5H388.3M387.1 183.2V186.5M389.7 199.8H391M389 200.7H391M389 199.8H389.7M389 200.7V199.8M389.7 201.6H391M388.5 200.2H389M388.5 201.6H389.7M388.5 200.2V201.6M389.9 202.6H391M390.2 203.5H391M389.3 202.6H389.9M389.3 203.5H390.2M389.3 202.6V203.5M390.5 216H391M390.4 214.9H391M390.4 216H390.5M390.4 214.9V216M390.3 213.7H391M390.3 215.4H390.4M390.3 213.7V215.4M390.3 212.6H391M390.3 214.6H390.3M390.3 212.6V214.6M390.2 211.4H391M390.2 213.6H390.3M390.2 211.4V213.6M390.1 210.2H391M390.1 212.5H390.2M390.1 210.2V212.5M390.1 209.1H391M390.1 211.4H390.1M390.1 209.1V211.4M390.1 207.9H391M390.1 210.2H390.1M390.1 207.9V210.2M389.9 206.8H391M389.9 209.1H390.1M389.9 206.8V209.1M389.8 205.6H391M389.8 207.9H389.9M389.8 205.6V207.9M389.8 204.5H391M389.8 206.8H389.8M389.8 204.5V206.8M389.8 217.2H391M389.3 205.6H389.8M389.3 217.2H389.8M389.3 205.6V217.2M388.5 203.1H389.3M388.5 211.4H389.3M388.5 203.1V211.4M387.5 200.9H388.5M387.5 207.2H388.5M387.5 200.9V207.2M390 218.5H391M389.6 219.7H391M389.6 218.5H390M389.6 219.7V218.5M389 221H391M389 219.1H389.6M389 221V219.1M390.4 222.3H391M390.2 223.5H391M390.2 222.3H390.4M390.2 223.5V222.3M390.2 224.6H391M390.2 225.6H391M389.8 224.6H390.2M389.8 225.6H390.2M389.8 224.6V225.6M389.2 222.9H390.2M389.2 225.1H389.8M389.2 222.9V225.1M387.5 220H389M387.5 224H389.2M387.5 220V224M386 204.1H387.5M386 222H387.5M386 204.1V222M385.4 184.8H387.1M385.4 213.1H386M385.4 184.8V213.1M390.3 240.8H391M390.1 239.7H391M390.1 240.8H390.3M390.1 239.7V240.8M389.8 238.5H391M389.8 240.2H390.1M389.8 238.5V240.2M389.3 237.3H391M389.3 239.4H389.8M389.3 237.3V239.4M389.1 236.1H391M389.1 238.3H389.3M389.1 236.1V238.3M388.5 234.9H391M388.5 237.2H389.1M388.5 234.9V237.2M388.7 233.8H391M388.7 236.1H388.5M388.7 233.8V236.1M387.7 232.6H391M387.7 234.9H388.7M387.7 232.6V234.9M388 231.4H391M388 233.8H387.7M388 231.4V233.8M388 230.2H391M388 232.6H388M388 230.2V232.6M387.2 229.1H391M387.2 231.4H388M387.2 229.1V231.4M386.9 227.9H391M386.9 230.2H387.2M386.9 227.9V230.2M386.6 226.7H391M386.6 229.1H386.9M386.6 226.7V229.1M384.7 198.9H385.4M384.7 227.9H386.6M384.7 198.9V227.9M390.5 242H391M390.4 243.2H391M390.4 242H390.5M390.4 243.2V242M390.3 244.4H391M390.3 242.6H390.4M390.3 244.4V242.6M390.2 245.6H391M390.2 243.5H390.3M390.2 245.6V243.5M390.2 246.8H391M390.2 244.6H390.2M390.2 246.8V244.6M390 248H391M390 245.7H390.2M390 248V245.7M389.9 249.2H391M389.9 246.8H390M389.9 249.2V246.8M389.8 250.4H391M389.8 248H389.9M389.8 250.4V248M389.8 251.6H391M389.8 249.2H389.8M389.8 251.6V249.2M389.7 252.8H391M389.7 250.4H389.8M389.7 252.8V250.4M389.5 254H391M389.5 251.6H389.7M389.5 254V251.6M389.5 255.2H391M389.5 252.8H389.5M389.5 255.2V252.8M390.3 256.7H391M390.3 257.9H391M390 256.7H390.3M390 257.9H390.3M390 256.7V257.9M390.6 258.7H391M390.5 259.8H391M390.1 258.7H390.6M390.1 259.8H390.5M390.1 258.7V259.8M389.5 257.3H390M389.5 259.2H390.1M389.5 257.3V259.2M388.8 254H389.5M388.8 258.3H389.5M388.8 254V258.3M390.5 261.1H391M390.4 262.2H391M390.4 261.1H390.5M390.4 262.2V261.1M390.3 263.3H391M390.3 261.6H390.4M390.3 263.3V261.6M390.1 264.5H391M390.1 262.5H390.3M390.1 264.5V262.5M389.9 265.6H391M389.9 263.5H390.1M389.9 265.6V263.5M389.9 266.8H391M389.9 264.6H389.9M389.9 266.8V264.6M389.6 267.9H391M389.6 265.7H389.9M389.6 267.9V265.7M389.5 269.1H391M389.5 266.8H389.6M389.5 269.1V266.8M389.5 270.2H391M389.5 267.9H389.5M389.5 270.2V267.9M390.5 275.4H391M390.5 281.4H391M390.2 275.4H390.5M390.2 281.4H390.5M390.2 275.4V281.4M390.5 286.9H391M390.5 285.7H391M390.5 286.9H390.5M390.5 285.7V286.9M390.3 284.5H391M390.3 286.3H390.5M390.3 284.5V286.3M390.2 283.4H391M390.2 285.4H390.3M390.2 283.4V285.4M389.9 278.4H390.2M389.9 284.4H390.2M389.9 278.4V284.4M390.5 294.8H391M390.5 305.5H391M390.2 294.8H390.5M390.2 305.5H390.5M390.2 294.8V305.5M390.5 309.7H391M390.6 310.9H391M390.2 309.7H390.5M390.2 310.9H390.6M390.2 309.7V310.9M389.9 300.2H390.2M389.9 310.3H390.2M389.9 300.2V310.3M389.5 281.4H389.9M389.5 305.2H389.9M389.5 281.4V305.2M388.8 269.1H389.5M388.8 293.3H389.5M388.8 269.1V293.3M387.9 256.1H388.8M387.9 281.2H388.8M387.9 256.1V281.2M390.5 320.7H391M390.3 319.6H391M390.3 320.7H390.5M390.3 319.6V320.7M390.2 318.5H391M390.2 320.1H390.3M390.2 318.5V320.1M390.1 317.4H391M390.1 319.3H390.2M390.1 317.4V319.3M389.9 316.3H391M389.9 318.3H390.1M389.9 316.3V318.3M389.9 315.2H391M389.9 317.3H389.9M389.9 315.2V317.3M389.8 314.1H391M389.8 316.2H389.9M389.8 314.1V316.2M389.6 313H391M389.6 315.1H389.8M389.6 313V315.1M389.5 311.8H391M389.5 314H389.6M389.5 311.8V314M390.4 321.8H391M390.1 323H391M390.1 321.8H390.4M390.1 323V321.8M390 324.1H391M390 322.4H390.1M390 324.1V322.4M389.7 325.3H391M389.7 323.2H390M389.7 325.3V323.2M389.5 326.4H391M389.5 324.3H389.7M389.5 326.4V324.3M388.8 312.9H389.5M388.8 325.3H389.5M388.8 312.9V325.3M390.4 332.6H391M390.1 331.3H391M390.1 332.6H390.4M390.1 331.3V332.6M389.9 330.1H391M389.9 331.9H390.1M389.9 330.1V331.9M389.7 328.8H391M389.7 331H389.9M389.7 328.8V331M389.5 327.6H391M389.5 329.9H389.7M389.5 327.6V329.9M390.6 333.7H391M390.5 334.8H391M390.5 333.7H390.6M390.5 334.8V333.7M390.4 336H391M390.4 334.3H390.5M390.4 336V334.3M390.4 337.1H391M390.4 335.1H390.4M390.4 337.1V335.1M390.4 338.2H391M390.4 336.1H390.4M390.4 338.2V336.1M390.3 339.3H391M390.3 337.1H390.4M390.3 339.3V337.1M390.2 340.4H391M390.2 338.2H390.3M390.2 340.4V338.2M390.2 341.5H391M390.2 339.3H390.2M390.2 341.5V339.3M390.1 342.7H391M390.1 340.4H390.2M390.1 342.7V340.4M390.1 343.8H391M390.1 341.5H390.1M390.1 343.8V341.5M390 344.9H391M390 342.7H390.1M390 344.9V342.7M389.9 346H391M389.9 343.8H390M389.9 346V343.8M389.9 347.3H391M389.5 344.9H389.9M389.5 347.3H389.9M389.5 344.9V347.3M388.8 328.8H389.5M388.8 346.1H389.5M388.8 328.8V346.1M387.9 319.1H388.8M387.9 337.4H388.8M387.9 319.1V337.4M386.5 268.7H387.9M386.5 328.3H387.9M386.5 268.7V328.3M390.5 355.6H391M390.3 354.4H391M390.3 355.6H390.5M390.3 354.4V355.6M390.3 353.2H391M390.3 355H390.3M390.3 353.2V355M390 352.1H391M390 354.1H390.3M390 352.1V354.1M390 350.9H391M390 353.1H390M390 350.9V353.1M389.8 349.7H391M389.8 352H390M389.8 349.7V352M389.7 348.5H391M389.7 350.8H389.8M389.7 348.5V350.8M390.2 357.6H391M389.7 356.6H391M389.7 357.6H390.2M389.7 356.6V357.6M389.1 349.7H389.7M389.1 357.1H389.7M389.1 349.7V357.1M389.1 358.9H391M388.3 353.4H389.1M388.3 358.9H389.1M388.3 353.4V358.9M390.5 365.7H391M390.4 364.6H391M390.4 365.7H390.5M390.4 364.6V365.7M390.2 363.5H391M390.2 365.1H390.4M390.2 363.5V365.1M390.1 362.5H391M390.1 364.3H390.2M390.1 362.5V364.3M389.9 361.4H391M389.9 363.4H390.1M389.9 361.4V363.4M389.9 360.3H391M389.9 362.4H389.9M389.9 360.3V362.4M390 366.8H391M390.4 368.3H391M389.6 366.8H390M389.6 368.3H390.4M389.6 366.8V368.3M389.1 361.4H389.9M389.1 367.5H389.6M389.1 361.4V367.5M390.5 377.6H391M390.4 376.5H391M390.4 377.6H390.5M390.4 376.5V377.6M390.3 375.4H391M390.3 377.1H390.4M390.3 375.4V377.1M390.1 374.2H391M390.1 376.2H390.3M390.1 374.2V376.2M390.1 373.1H391M390.1 375.2H390.1M390.1 373.1V375.2M389.8 372H391M389.8 374.2H390.1M389.8 372V374.2M389.8 370.8H391M389.8 373.1H389.8M389.8 370.8V373.1M389.7 369.7H391M389.7 372H389.8M389.7 369.7V372M390.6 378.8H391M390.5 379.9H391M390.5 378.8H390.6M390.5 379.9V378.8M390.4 381.1H391M390.4 379.3H390.5M390.4 381.1V379.3M390.3 382.2H391M390.3 380.2H390.4M390.3 382.2V380.2M390.3 383.3H391M390.3 381.2H390.3M390.3 383.3V381.2M390.3 384.5H391M390.3 382.3H390.3M390.3 384.5V382.3M390.2 385.6H391M390.2 383.4H390.3M390.2 385.6V383.4M390.2 386.8H391M390.2 384.5H390.2M390.2 386.8V384.5M390.1 387.9H391M390.1 385.6H390.2M390.1 387.9V385.6M390.3 390.9H391M390.5 394.7H391M390.1 390.9H390.3M390.1 394.7H390.5M390.1 390.9V394.7M389.7 386.8H390.1M389.7 392.8H390.1M389.7 386.8V392.8M389.1 370.8H389.7M389.1 389.8H389.7M389.1 370.8V389.8M388.3 364.5H389.1M388.3 380.3H389.1M388.3 364.5V380.3M387.2 356.2H388.3M387.2 372.4H388.3M387.2 356.2V372.4M390 402.6H391M389.3 401.4H391M389.3 402.6H390M389.3 401.4V402.6M388.9 400.2H391M388.9 402H389.3M388.9 400.2V402M388.4 399.1H391M388.4 401.1H388.9M388.4 399.1V401.1M388.1 397.9H391M388.1 400.1H388.4M388.1 397.9V400.1M387.2 396.7H391M387.2 399H388.1M387.2 396.7V399M385.5 364.3H387.2M385.5 397.8H387.2M385.5 364.3V397.8M384.6 298.5H386.5M384.6 381.1H385.5M384.6 298.5V381.1M384.1 213.4H384.7M384.1 339.8H384.6M384.1 213.4V339.8M390.2 410.3H391M389.4 409.2H391M389.4 410.3H390.2M389.4 409.2V410.3M389.1 408.1H391M389.1 409.8H389.4M389.1 408.1V409.8M388.4 407H391M388.4 409H389.1M388.4 407V409M387.8 405.9H391M387.8 408H388.4M387.8 405.9V408M387.4 404.8H391M387.4 407H387.8M387.4 404.8V407M387.1 403.7H391M387.1 405.9H387.4M387.1 403.7V405.9M390 413.5H391M389.7 412.4H391M389.7 413.5H390M389.7 412.4V413.5M389 411.4H391M389 412.9H389.7M389 411.4V412.9M390.4 414.6H391M390.1 415.9H391M390.1 414.6H390.4M390.1 415.9V414.6M389.9 417.1H391M389.9 415.2H390.1M389.9 417.1V415.2M389.7 418.4H391M389.7 416.2H389.9M389.7 418.4V416.2M388.2 412.2H389M388.2 417.3H389.7M388.2 412.2V417.3M390.4 421H391M390.4 423.8H391M390.1 421H390.4M390.1 423.8H390.4M390.1 421V423.8M390.6 427.1H391M390.5 431.4H391M390.1 427.1H390.6M390.1 431.4H390.5M390.1 427.1V431.4M389.7 422.4H390.1M389.7 429.2H390.1M389.7 422.4V429.2M390.3 436.8H391M390.1 435.7H391M390.1 436.8H390.3M390.1 435.7V436.8M390 434.7H391M390 436.2H390.1M390 434.7V436.2M389.7 433.7H391M389.7 435.5H390M389.7 433.7V435.5M389.1 425.8H389.7M389.1 434.6H389.7M389.1 425.8V434.6M390.5 438.4H391M390.5 441.3H391M390.1 438.4H390.5M390.1 441.3H390.5M390.1 438.4V441.3M390.4 444.7H391M390.4 457.1H391M390.1 444.7H390.4M390.1 457.1H390.4M390.1 444.7V457.1M389.7 439.8H390.1M389.7 450.9H390.1M389.7 439.8V450.9M390.4 471.6H391M390.4 479.7H391M390.1 471.6H390.4M390.1 479.7H390.4M390.1 471.6V479.7M390.5 488.9H391M390.4 487.8H391M390.4 488.9H390.5M390.4 487.8V488.9M390.2 486.7H391M390.2 488.3H390.4M390.2 486.7V488.3M390.2 485.6H391M390.2 487.5H390.2M390.2 485.6V487.5M390.1 484.5H391M390.1 486.6H390.2M390.1 484.5V486.6M389.7 475.6H390.1M389.7 485.5H390.1M389.7 475.6V485.5M389.1 445.4H389.7M389.1 480.6H389.7M389.1 445.4V480.6M388.2 430.2H389.1M388.2 463H389.1M388.2 430.2V463M387.1 414.7H388.2M387.1 446.6H388.2M387.1 414.7V446.6M385.4 404.8H387.1M385.4 430.7H387.1M385.4 404.8V430.7M388.8 490.9H391M387.1 489.9H391M387.1 490.9H388.8M387.1 489.9V490.9M390.3 491.8H391M390.1 492.8H391M390.1 491.8H390.3M390.1 492.8V491.8M389.7 493.8H391M389.7 492.3H390.1M389.7 493.8V492.3M390.4 500.2H391M390.2 499.1H391M390.2 500.2H390.4M390.2 499.1V500.2M390.1 498H391M390.1 499.7H390.2M390.1 498V499.7M390.1 497H391M390.1 498.8H390.1M390.1 497V498.8M389.8 495.9H391M389.8 497.9H390.1M389.8 495.9V497.9M389.7 494.8H391M389.7 496.9H389.8M389.7 494.8V496.9M388.2 493H389.7M388.2 495.8H389.7M388.2 493V495.8M390.2 501.3H391M389.6 502.6H391M389.6 501.3H390.2M389.6 502.6V501.3M389.4 503.8H391M389.4 502H389.6M389.4 503.8V502M389.2 505H391M389.2 502.9H389.4M389.2 505V502.9M388.5 506.2H391M388.5 503.9H389.2M388.5 506.2V503.9M388.2 507.4H391M388.2 505.1H388.5M388.2 507.4V505.1M387.1 494.4H388.2M387.1 506.2H388.2M387.1 494.4V506.2M385.4 490.4H387.1M385.4 500.3H387.1M385.4 490.4V500.3" fill="none" stroke="#000" stroke-width="0.65"/></svg>
</div></body></html>
